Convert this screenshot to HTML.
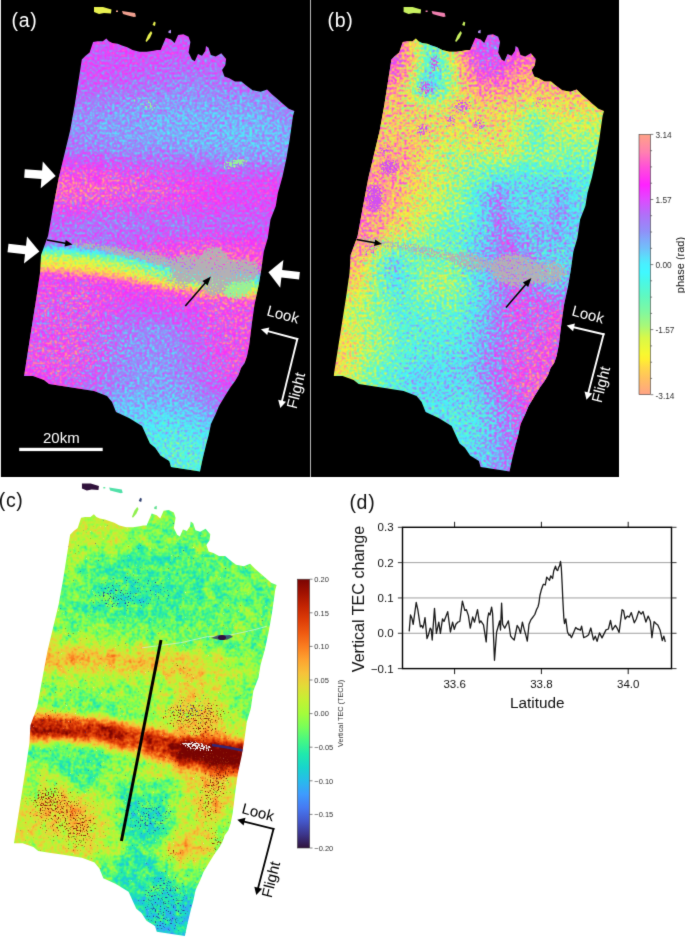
<!DOCTYPE html><html><head><meta charset="utf-8"><style>html,body{margin:0;padding:0;background:#fff;}svg{display:block;}text{font-family:"Liberation Sans", sans-serif;}</style></head><body>
<svg width="685" height="941" viewBox="0 0 685 941">
<defs>
<path id="sw" d="M81.8 59.6 L85.3 56.0 L89.6 52.6 L93.1 42.0 L97.5 41.2 L102.8 41.2 L106.3 38.5 L108.9 41.2 L112.4 42.9 L117.7 43.8 L122.0 45.5 L127.3 47.3 L132.6 50.0 L139.6 51.7 L146.6 51.7 L153.6 50.8 L157.0 50.0 L160.6 50.0 L164.0 42.0 L165.8 37.7 L171.0 39.4 L174.6 42.9 L178.1 35.0 L183.4 34.2 L188.6 36.8 L190.4 42.0 L188.6 52.6 L192.0 59.6 L194.8 61.3 L198.0 54.1 L202.0 55.7 L205.3 50.9 L206.0 46.0 L208.5 47.7 L210.9 54.9 L215.7 56.5 L221.3 53.3 L226.1 58.9 L225.3 65.3 L222.1 70.1 L224.5 76.6 L229.3 78.2 L235.0 81.4 L241.4 81.4 L246.2 85.4 L252.6 90.2 L260.7 91.8 L267.1 89.4 L271.9 94.2 L277.5 99.1 L283.1 103.9 L288.8 108.7 L294.4 111.0 L293.0 116.0 L289.6 140.0 L286.4 158.4 L282.4 177.0 L277.9 193.0 L275.8 206.0 L270.5 219.6 L267.8 238.0 L263.8 251.4 L261.2 270.0 L258.5 286.0 L254.5 304.6 L251.9 323.0 L249.2 345.0 L247.0 356.0 L244.6 363.0 L241.0 368.0 L238.5 375.0 L235.0 381.0 L230.6 387.0 L225.0 396.0 L219.0 406.0 L215.7 414.0 L211.0 424.0 L208.7 435.0 L206.0 445.0 L202.6 459.0 L200.0 471.4 L171.0 467.0 L169.3 461.0 L160.5 455.6 L155.3 447.7 L150.0 443.4 L147.0 437.0 L142.0 426.0 L129.0 418.0 L116.0 412.0 L112.0 402.0 L107.0 396.0 L94.0 391.0 L75.0 388.0 L62.0 386.0 L49.0 384.0 L44.0 380.0 L33.0 376.0 L24.0 376.0 L36.0 300.0 L40.0 273.0 L41.0 255.0 L48.0 236.0 L52.5 211.0 L58.7 178.0 L63.0 160.0 L70.0 131.0 L74.7 105.0 L78.3 82.0 Z"/>
<clipPath id="swclip"><use href="#sw"/></clipPath>
<clipPath id="swclipC"><use href="#sw" transform="translate(-9.37 476.76) scale(0.9714 0.9744)"/></clipPath>
<linearGradient id="cyc" x1="0" y1="0" x2="0" y2="1"><stop offset="0.000" stop-color="#ffa286"/><stop offset="0.068" stop-color="#ff80b0"/><stop offset="0.125" stop-color="#ff50d8"/><stop offset="0.194" stop-color="#ff22ff"/><stop offset="0.248" stop-color="#e048ff"/><stop offset="0.309" stop-color="#b070f8"/><stop offset="0.372" stop-color="#9090f8"/><stop offset="0.403" stop-color="#80a8fa"/><stop offset="0.438" stop-color="#70c0fa"/><stop offset="0.475" stop-color="#58e0fb"/><stop offset="0.500" stop-color="#48f0ff"/><stop offset="0.530" stop-color="#40f8ff"/><stop offset="0.562" stop-color="#48f8e8"/><stop offset="0.622" stop-color="#60f8c0"/><stop offset="0.682" stop-color="#80f8a0"/><stop offset="0.736" stop-color="#a8f878"/><stop offset="0.781" stop-color="#d8f848"/><stop offset="0.844" stop-color="#f8f830"/><stop offset="0.864" stop-color="#fff030"/><stop offset="0.895" stop-color="#ffd848"/><stop offset="0.938" stop-color="#ffc060"/><stop offset="1.000" stop-color="#ffa286"/></linearGradient>
<linearGradient id="turbo" x1="0" y1="0" x2="0" y2="1"><stop offset="0.000" stop-color="#7a0402"/><stop offset="0.050" stop-color="#a01101"/><stop offset="0.100" stop-color="#c32402"/><stop offset="0.150" stop-color="#dd3c07"/><stop offset="0.200" stop-color="#ef5a11"/><stop offset="0.250" stop-color="#fa7d20"/><stop offset="0.300" stop-color="#fda330"/><stop offset="0.350" stop-color="#f6c23a"/><stop offset="0.400" stop-color="#e1dc37"/><stop offset="0.450" stop-color="#c3f133"/><stop offset="0.500" stop-color="#a4fc3b"/><stop offset="0.550" stop-color="#78fe59"/><stop offset="0.600" stop-color="#46f783"/><stop offset="0.650" stop-color="#20e9ac"/><stop offset="0.700" stop-color="#18d5cc"/><stop offset="0.750" stop-color="#28bbeb"/><stop offset="0.800" stop-color="#3e9bfe"/><stop offset="0.850" stop-color="#467af2"/><stop offset="0.900" stop-color="#4458cb"/><stop offset="0.950" stop-color="#3c358b"/><stop offset="1.000" stop-color="#30123b"/></linearGradient>
<g id="fA"><path fill="#242424" d="M176 458h18v6h-18zM170 464h30v6h-30zM164 470h42v6h-42zM164 476h48v6h-48z"/><path fill="#262626" d="M164 440h24v6h-24zM152 446h48v6h-48zM152 452h54v6h-54zM146 458h30v6h-30zM194 458h18v6h-18zM146 464h24v6h-24zM200 464h18v6h-18zM146 470h18v6h-18zM206 470h18v6h-18zM146 476h18v6h-18zM212 476h18v6h-18z"/><path fill="#282828" d="M164 428h12v6h-12zM146 434h54v6h-54zM134 440h30v6h-30zM188 440h18v6h-18zM134 446h18v6h-18zM200 446h18v6h-18zM134 452h18v6h-18zM206 452h18v6h-18zM128 458h18v6h-18zM212 458h12v6h-12zM128 464h18v6h-18zM218 464h12v6h-12zM128 470h18v6h-18zM224 470h12v6h-12zM128 476h18v6h-18zM230 476h12v6h-12z"/><path fill="#2a2a2a" d="M152 422h30v6h-30zM134 428h30v6h-30zM176 428h24v6h-24zM128 434h18v6h-18zM200 434h12v6h-12zM122 440h12v6h-12zM206 440h12v6h-12zM122 446h12v6h-12zM218 446h6v6h-6zM122 452h12v6h-12zM224 452h6v6h-6zM122 458h6v6h-6zM224 458h12v6h-12zM122 464h6v6h-6zM230 464h12v6h-12zM116 470h12v6h-12zM236 470h12v6h-12zM116 476h12v6h-12zM242 476h12v6h-12z"/><path fill="#2c2c2c" d="M146 416h36v6h-36zM122 422h30v6h-30zM182 422h18v6h-18zM116 428h18v6h-18zM200 428h12v6h-12zM116 434h12v6h-12zM212 434h12v6h-12zM116 440h6v6h-6zM218 440h12v6h-12zM110 446h12v6h-12zM224 446h12v6h-12zM110 452h12v6h-12zM230 452h12v6h-12zM110 458h12v6h-12zM236 458h12v6h-12zM110 464h12v6h-12zM242 464h18v6h-18zM110 470h6v6h-6zM248 470h18v6h-18zM110 476h6v6h-6zM254 476h18v6h-18z"/><path fill="#2e2e2e" d="M122 410h60v6h-60zM116 416h30v6h-30zM182 416h18v6h-18zM110 422h12v6h-12zM200 422h12v6h-12zM110 428h6v6h-6zM212 428h12v6h-12zM104 434h12v6h-12zM224 434h6v6h-6zM104 440h12v6h-12zM230 440h12v6h-12zM104 446h6v6h-6zM236 446h12v6h-12zM104 452h6v6h-6zM242 452h12v6h-12zM104 458h6v6h-6zM248 458h18v6h-18zM104 464h6v6h-6zM260 464h12v6h-12zM104 470h6v6h-6zM266 470h18v6h-18zM104 476h6v6h-6zM272 476h18v6h-18z"/><path fill="#303030" d="M116 404h66v6h-66zM110 410h12v6h-12zM182 410h18v6h-18zM110 416h6v6h-6zM200 416h12v6h-12zM104 422h6v6h-6zM212 422h12v6h-12zM98 428h12v6h-12zM224 428h6v6h-6zM98 434h6v6h-6zM230 434h12v6h-12zM98 440h6v6h-6zM242 440h12v6h-12zM98 446h6v6h-6zM248 446h12v6h-12zM92 452h12v6h-12zM254 452h18v6h-18zM92 458h12v6h-12zM266 458h18v6h-18zM92 464h12v6h-12zM272 464h18v6h-18zM92 470h12v6h-12zM284 470h24v6h-24zM92 476h12v6h-12zM290 476h18v6h-18z"/><path fill="#323232" d="M128 392h48v6h-48zM116 398h72v6h-72zM110 404h6v6h-6zM182 404h18v6h-18zM104 410h6v6h-6zM200 410h12v6h-12zM98 416h12v6h-12zM212 416h12v6h-12zM98 422h6v6h-6zM224 422h6v6h-6zM92 428h6v6h-6zM230 428h12v6h-12zM92 434h6v6h-6zM242 434h12v6h-12zM92 440h6v6h-6zM254 440h12v6h-12zM86 446h12v6h-12zM260 446h18v6h-18zM86 452h6v6h-6zM272 452h18v6h-18zM86 458h6v6h-6zM284 458h24v6h-24zM86 464h6v6h-6zM290 464h18v6h-18zM86 470h6v6h-6zM86 476h6v6h-6z"/><path fill="#343434" d="M152 344h6v6h-6zM152 350h6v6h-6zM146 362h18v6h-18zM140 368h30v6h-30zM134 374h36v6h-36zM128 380h48v6h-48zM122 386h60v6h-60zM110 392h18v6h-18zM176 392h18v6h-18zM104 398h12v6h-12zM188 398h12v6h-12zM98 404h12v6h-12zM200 404h6v6h-6zM98 410h6v6h-6zM212 410h6v6h-6zM92 416h6v6h-6zM224 416h6v6h-6zM86 422h12v6h-12zM230 422h18v6h-18zM86 428h6v6h-6zM242 428h18v6h-18zM86 434h6v6h-6zM254 434h18v6h-18zM80 440h12v6h-12zM266 440h24v6h-24zM80 446h6v6h-6zM278 446h30v6h-30zM80 452h6v6h-6zM290 452h18v6h-18zM80 458h6v6h-6zM80 464h6v6h-6zM80 470h6v6h-6zM80 476h6v6h-6z"/><path fill="#363636" d="M146 326h18v6h-18zM134 332h36v6h-36zM128 338h48v6h-48zM122 344h30v6h-30zM158 344h18v6h-18zM122 350h30v6h-30zM158 350h24v6h-24zM122 356h60v6h-60zM122 362h24v6h-24zM164 362h18v6h-18zM122 368h18v6h-18zM170 368h12v6h-12zM116 374h18v6h-18zM170 374h18v6h-18zM116 380h12v6h-12zM176 380h18v6h-18zM110 386h12v6h-12zM182 386h12v6h-12zM104 392h6v6h-6zM194 392h6v6h-6zM98 398h6v6h-6zM200 398h12v6h-12zM92 404h6v6h-6zM206 404h12v6h-12zM86 410h12v6h-12zM218 410h12v6h-12zM86 416h6v6h-6zM230 416h18v6h-18zM80 422h6v6h-6zM248 422h12v6h-12zM80 428h6v6h-6zM260 428h24v6h-24zM74 434h12v6h-12zM272 434h36v6h-36zM74 440h6v6h-6zM290 440h18v6h-18zM74 446h6v6h-6zM74 452h6v6h-6zM74 458h6v6h-6zM74 464h6v6h-6zM74 470h6v6h-6zM74 476h6v6h-6z"/><path fill="#383838" d="M146 320h12v6h-12zM122 326h24v6h-24zM164 326h12v6h-12zM116 332h18v6h-18zM170 332h12v6h-12zM116 338h12v6h-12zM176 338h6v6h-6zM110 344h12v6h-12zM176 344h12v6h-12zM110 350h12v6h-12zM182 350h6v6h-6zM110 356h12v6h-12zM182 356h6v6h-6zM110 362h12v6h-12zM182 362h12v6h-12zM110 368h12v6h-12zM182 368h12v6h-12zM110 374h6v6h-6zM188 374h12v6h-12zM104 380h12v6h-12zM194 380h6v6h-6zM98 386h12v6h-12zM194 386h12v6h-12zM92 392h12v6h-12zM200 392h12v6h-12zM86 398h12v6h-12zM212 398h6v6h-6zM80 404h12v6h-12zM218 404h12v6h-12zM80 410h6v6h-6zM230 410h18v6h-18zM74 416h12v6h-12zM248 416h18v6h-18zM74 422h6v6h-6zM260 422h48v6h-48zM68 428h12v6h-12zM284 428h24v6h-24zM68 434h6v6h-6zM68 440h6v6h-6zM68 446h6v6h-6zM68 452h6v6h-6zM68 458h6v6h-6zM68 464h6v6h-6zM62 470h12v6h-12zM62 476h12v6h-12z"/><path fill="#3a3a3a" d="M122 320h24v6h-24zM158 320h18v6h-18zM110 326h12v6h-12zM176 326h6v6h-6zM110 332h6v6h-6zM182 332h6v6h-6zM104 338h12v6h-12zM182 338h6v6h-6zM104 344h6v6h-6zM188 344h6v6h-6zM104 350h6v6h-6zM188 350h6v6h-6zM104 356h6v6h-6zM188 356h12v6h-12zM104 362h6v6h-6zM194 362h6v6h-6zM104 368h6v6h-6zM194 368h6v6h-6zM98 374h12v6h-12zM200 374h6v6h-6zM98 380h6v6h-6zM200 380h6v6h-6zM92 386h6v6h-6zM206 386h6v6h-6zM86 392h6v6h-6zM212 392h6v6h-6zM80 398h6v6h-6zM218 398h12v6h-12zM74 404h6v6h-6zM230 404h18v6h-18zM68 410h12v6h-12zM248 410h36v6h-36zM296 410h12v6h-12zM68 416h6v6h-6zM266 416h42v6h-42zM62 422h12v6h-12zM62 428h6v6h-6zM62 434h6v6h-6zM62 440h6v6h-6zM62 446h6v6h-6zM62 452h6v6h-6zM56 458h12v6h-12zM56 464h12v6h-12zM56 470h6v6h-6zM56 476h6v6h-6z"/><path fill="#3c3c3c" d="M122 314h48v6h-48zM110 320h12v6h-12zM176 320h6v6h-6zM104 326h6v6h-6zM182 326h6v6h-6zM104 332h6v6h-6zM188 332h6v6h-6zM98 338h6v6h-6zM188 338h12v6h-12zM98 344h6v6h-6zM194 344h6v6h-6zM98 350h6v6h-6zM194 350h6v6h-6zM98 356h6v6h-6zM200 356h6v6h-6zM98 362h6v6h-6zM200 362h6v6h-6zM92 368h12v6h-12zM200 368h12v6h-12zM92 374h6v6h-6zM206 374h6v6h-6zM86 380h12v6h-12zM206 380h12v6h-12zM80 386h12v6h-12zM212 386h12v6h-12zM74 392h12v6h-12zM218 392h18v6h-18zM68 398h12v6h-12zM230 398h24v6h-24zM302 398h6v6h-6zM62 404h12v6h-12zM248 404h60v6h-60zM62 410h6v6h-6zM284 410h12v6h-12zM56 416h12v6h-12zM56 422h6v6h-6zM56 428h6v6h-6zM56 434h6v6h-6zM56 440h6v6h-6zM50 446h12v6h-12zM50 452h12v6h-12zM50 458h6v6h-6zM50 464h6v6h-6zM50 470h6v6h-6zM50 476h6v6h-6z"/><path fill="#3e3e3e" d="M122 308h42v6h-42zM110 314h12v6h-12zM170 314h18v6h-18zM104 320h6v6h-6zM182 320h12v6h-12zM98 326h6v6h-6zM188 326h12v6h-12zM98 332h6v6h-6zM194 332h6v6h-6zM92 338h6v6h-6zM200 338h6v6h-6zM92 344h6v6h-6zM200 344h6v6h-6zM92 350h6v6h-6zM200 350h12v6h-12zM92 356h6v6h-6zM206 356h6v6h-6zM92 362h6v6h-6zM206 362h6v6h-6zM86 368h6v6h-6zM212 368h6v6h-6zM80 374h12v6h-12zM212 374h6v6h-6zM74 380h12v6h-12zM218 380h6v6h-6zM68 386h12v6h-12zM224 386h12v6h-12zM296 386h12v6h-12zM62 392h12v6h-12zM236 392h72v6h-72zM56 398h12v6h-12zM254 398h48v6h-48zM56 404h6v6h-6zM50 410h12v6h-12zM50 416h6v6h-6zM50 422h6v6h-6zM44 428h12v6h-12zM44 434h12v6h-12zM44 440h12v6h-12zM44 446h6v6h-6zM44 452h6v6h-6zM44 458h6v6h-6zM44 464h6v6h-6zM44 470h6v6h-6zM44 476h6v6h-6z"/><path fill="#404040" d="M122 302h36v6h-36zM104 308h18v6h-18zM164 308h24v6h-24zM38 314h18v6h-18zM98 314h12v6h-12zM188 314h12v6h-12zM32 320h18v6h-18zM92 320h12v6h-12zM194 320h12v6h-12zM38 326h12v6h-12zM86 326h12v6h-12zM200 326h6v6h-6zM86 332h12v6h-12zM200 332h12v6h-12zM86 338h6v6h-6zM206 338h6v6h-6zM86 344h6v6h-6zM206 344h12v6h-12zM86 350h6v6h-6zM212 350h6v6h-6zM86 356h6v6h-6zM212 356h6v6h-6zM80 362h12v6h-12zM212 362h12v6h-12zM302 362h6v6h-6zM74 368h12v6h-12zM218 368h6v6h-6zM296 368h12v6h-12zM68 374h12v6h-12zM218 374h12v6h-12zM284 374h24v6h-24zM62 380h12v6h-12zM224 380h24v6h-24zM272 380h36v6h-36zM56 386h12v6h-12zM236 386h60v6h-60zM50 392h12v6h-12zM44 398h12v6h-12zM44 404h12v6h-12zM38 410h12v6h-12zM38 416h12v6h-12zM38 422h12v6h-12zM38 428h6v6h-6zM38 434h6v6h-6zM38 440h6v6h-6zM38 446h6v6h-6zM38 452h6v6h-6zM38 458h6v6h-6zM38 464h6v6h-6zM38 470h6v6h-6zM38 476h6v6h-6z"/><path fill="#424242" d="M56 278h36v6h-36zM44 296h18v6h-18zM110 296h42v6h-42zM38 302h30v6h-30zM92 302h30v6h-30zM158 302h24v6h-24zM296 302h6v6h-6zM32 308h42v6h-42zM80 308h24v6h-24zM188 308h12v6h-12zM296 308h12v6h-12zM26 314h12v6h-12zM56 314h42v6h-42zM200 314h6v6h-6zM296 314h12v6h-12zM26 320h6v6h-6zM50 320h42v6h-42zM206 320h6v6h-6zM290 320h18v6h-18zM26 326h12v6h-12zM50 326h18v6h-18zM74 326h12v6h-12zM206 326h12v6h-12zM290 326h18v6h-18zM26 332h30v6h-30zM80 332h6v6h-6zM212 332h12v6h-12zM290 332h18v6h-18zM32 338h12v6h-12zM80 338h6v6h-6zM212 338h12v6h-12zM290 338h18v6h-18zM80 344h6v6h-6zM218 344h6v6h-6zM290 344h18v6h-18zM80 350h6v6h-6zM218 350h6v6h-6zM284 350h24v6h-24zM80 356h6v6h-6zM218 356h12v6h-12zM284 356h24v6h-24zM74 362h6v6h-6zM224 362h6v6h-6zM278 362h24v6h-24zM62 368h12v6h-12zM224 368h18v6h-18zM266 368h30v6h-30zM44 374h24v6h-24zM230 374h54v6h-54zM38 380h24v6h-24zM248 380h24v6h-24zM32 386h24v6h-24zM32 392h18v6h-18zM32 398h12v6h-12zM32 404h12v6h-12zM32 410h6v6h-6zM32 416h6v6h-6zM32 422h6v6h-6zM32 428h6v6h-6zM32 434h6v6h-6zM32 440h6v6h-6zM32 446h6v6h-6zM32 452h6v6h-6zM32 458h6v6h-6zM32 464h6v6h-6zM32 470h6v6h-6zM26 476h12v6h-12z"/><path fill="#444444" d="M38 278h18v6h-18zM92 278h18v6h-18zM38 284h102v6h-102zM38 290h120v6h-120zM32 296h12v6h-12zM62 296h48v6h-48zM152 296h30v6h-30zM26 302h12v6h-12zM68 302h24v6h-24zM182 302h18v6h-18zM278 302h18v6h-18zM302 302h6v6h-6zM26 308h6v6h-6zM74 308h6v6h-6zM200 308h12v6h-12zM272 308h24v6h-24zM20 314h6v6h-6zM206 314h18v6h-18zM260 314h36v6h-36zM20 320h6v6h-6zM212 320h18v6h-18zM254 320h36v6h-36zM14 326h12v6h-12zM68 326h6v6h-6zM218 326h18v6h-18zM254 326h36v6h-36zM14 332h12v6h-12zM56 332h24v6h-24zM224 332h12v6h-12zM260 332h30v6h-30zM20 338h12v6h-12zM44 338h36v6h-36zM224 338h12v6h-12zM260 338h30v6h-30zM20 344h42v6h-42zM74 344h6v6h-6zM224 344h18v6h-18zM260 344h30v6h-30zM20 350h36v6h-36zM68 350h12v6h-12zM224 350h18v6h-18zM254 350h30v6h-30zM20 356h60v6h-60zM230 356h54v6h-54zM20 362h54v6h-54zM230 362h48v6h-48zM20 368h42v6h-42zM242 368h24v6h-24zM20 374h24v6h-24zM20 380h18v6h-18zM20 386h12v6h-12zM20 392h12v6h-12zM20 398h12v6h-12zM20 404h12v6h-12zM20 410h12v6h-12zM20 416h12v6h-12zM20 422h12v6h-12zM20 428h12v6h-12zM20 434h12v6h-12zM20 440h12v6h-12zM20 446h12v6h-12zM20 452h12v6h-12zM20 458h12v6h-12zM20 464h12v6h-12zM20 470h12v6h-12zM20 476h6v6h-6z"/><path fill="#464646" d="M20 272h36v6h-36zM26 278h12v6h-12zM110 278h6v6h-6zM26 284h12v6h-12zM140 284h6v6h-6zM26 290h12v6h-12zM158 290h18v6h-18zM26 296h6v6h-6zM182 296h18v6h-18zM20 302h6v6h-6zM200 302h18v6h-18zM248 302h30v6h-30zM14 308h12v6h-12zM212 308h60v6h-60zM14 314h6v6h-6zM224 314h36v6h-36zM14 320h6v6h-6zM230 320h24v6h-24zM236 326h18v6h-18zM236 332h24v6h-24zM14 338h6v6h-6zM236 338h24v6h-24zM14 344h6v6h-6zM62 344h12v6h-12zM242 344h18v6h-18zM14 350h6v6h-6zM56 350h12v6h-12zM242 350h12v6h-12zM14 356h6v6h-6zM14 362h6v6h-6zM14 368h6v6h-6zM14 374h6v6h-6zM14 380h6v6h-6zM14 386h6v6h-6zM14 392h6v6h-6zM14 398h6v6h-6zM14 404h6v6h-6zM14 410h6v6h-6zM14 416h6v6h-6zM14 422h6v6h-6zM14 428h6v6h-6zM14 434h6v6h-6zM14 440h6v6h-6zM14 446h6v6h-6zM14 452h6v6h-6zM14 458h6v6h-6zM14 464h6v6h-6zM14 470h6v6h-6zM14 476h6v6h-6z"/><path fill="#484848" d="M14 272h6v6h-6zM56 272h6v6h-6zM14 278h12v6h-12zM14 284h12v6h-12zM146 284h6v6h-6zM14 290h12v6h-12zM176 290h6v6h-6zM14 296h12v6h-12zM200 296h36v6h-36zM14 302h6v6h-6zM218 302h30v6h-30z"/><path fill="#4a4a4a" d="M62 272h6v6h-6zM116 278h6v6h-6zM182 290h6v6h-6zM236 296h6v6h-6z"/><path fill="#4c4c4c" d="M68 272h6v6h-6zM122 278h6v6h-6zM152 284h6v6h-6zM242 296h6v6h-6z"/><path fill="#4e4e4e" d="M74 272h6v6h-6zM188 290h6v6h-6zM248 296h12v6h-12z"/><path fill="#505050" d="M80 272h6v6h-6zM194 290h6v6h-6zM260 296h6v6h-6z"/><path fill="#525252" d="M86 272h6v6h-6zM128 278h6v6h-6zM158 284h6v6h-6zM266 296h6v6h-6z"/><path fill="#545454" d="M92 272h6v6h-6zM200 290h6v6h-6zM272 296h12v6h-12z"/><path fill="#565656" d="M98 272h6v6h-6zM134 278h6v6h-6zM164 284h6v6h-6zM206 290h6v6h-6zM284 296h12v6h-12z"/><path fill="#585858" d="M104 272h6v6h-6zM212 290h6v6h-6zM296 296h12v6h-12z"/><path fill="#5a5a5a" d="M26 266h36v6h-36zM110 272h6v6h-6zM140 278h6v6h-6zM170 284h6v6h-6zM218 290h6v6h-6z"/><path fill="#5c5c5c" d="M14 266h12v6h-12zM62 266h6v6h-6zM116 272h6v6h-6zM224 290h6v6h-6z"/><path fill="#5e5e5e" d="M68 266h12v6h-12zM122 272h6v6h-6zM146 278h6v6h-6zM176 284h6v6h-6zM230 290h6v6h-6z"/><path fill="#606060" d="M80 266h12v6h-12zM152 278h6v6h-6zM182 284h6v6h-6zM236 290h12v6h-12z"/><path fill="#626262" d="M92 266h6v6h-6zM128 272h6v6h-6zM188 284h6v6h-6zM248 290h12v6h-12z"/><path fill="#646464" d="M44 260h30v6h-30zM98 266h12v6h-12zM134 272h6v6h-6zM158 278h6v6h-6zM194 284h6v6h-6zM260 290h30v6h-30z"/><path fill="#666666" d="M26 260h18v6h-18zM74 260h18v6h-18zM110 266h6v6h-6zM200 284h6v6h-6zM290 290h18v6h-18z"/><path fill="#686868" d="M44 254h30v6h-30zM14 260h12v6h-12zM92 260h18v6h-18zM116 266h12v6h-12zM140 272h6v6h-6zM164 278h6v6h-6zM206 284h6v6h-6z"/><path fill="#6a6a6a" d="M32 254h12v6h-12zM74 254h12v6h-12zM110 260h6v6h-6zM128 266h6v6h-6zM146 272h6v6h-6zM170 278h6v6h-6zM212 284h6v6h-6zM302 284h6v6h-6z"/><path fill="#6c6c6c" d="M20 254h12v6h-12zM86 254h6v6h-6zM116 260h12v6h-12zM134 266h6v6h-6zM152 272h6v6h-6zM176 278h6v6h-6zM218 284h12v6h-12zM272 284h30v6h-30z"/><path fill="#6e6e6e" d="M14 254h6v6h-6zM92 254h6v6h-6zM128 260h6v6h-6zM140 266h12v6h-12zM158 272h6v6h-6zM182 278h6v6h-6zM230 284h42v6h-42z"/><path fill="#707070" d="M164 272h6v6h-6zM188 278h12v6h-12z"/><path fill="#727272" d="M98 254h6v6h-6zM134 260h6v6h-6zM152 266h6v6h-6zM170 272h12v6h-12zM200 278h12v6h-12zM272 278h6v6h-6z"/><path fill="#747474" d="M104 254h6v6h-6zM158 266h6v6h-6zM182 272h6v6h-6zM212 278h60v6h-60zM278 278h12v6h-12z"/><path fill="#767676" d="M32 248h30v6h-30zM110 254h6v6h-6zM140 260h6v6h-6zM164 266h6v6h-6zM188 272h12v6h-12zM290 278h6v6h-6z"/><path fill="#787878" d="M14 248h18v6h-18zM62 248h6v6h-6zM200 272h12v6h-12zM296 278h12v6h-12z"/><path fill="#7a7a7a" d="M68 248h6v6h-6zM116 254h6v6h-6zM170 266h6v6h-6zM212 272h6v6h-6z"/><path fill="#7c7c7c" d="M74 248h6v6h-6zM122 254h6v6h-6zM146 260h6v6h-6zM218 272h6v6h-6z"/><path fill="#7e7e7e" d="M80 248h6v6h-6zM224 272h6v6h-6z"/><path fill="#818181" d="M86 248h6v6h-6zM152 260h6v6h-6zM176 266h6v6h-6zM230 272h6v6h-6z"/><path fill="#838383" d="M92 248h6v6h-6zM128 254h6v6h-6zM182 266h6v6h-6zM236 272h6v6h-6z"/><path fill="#858585" d="M224 128h36v6h-36zM224 134h30v6h-30zM98 248h6v6h-6zM134 254h6v6h-6zM242 272h12v6h-12z"/><path fill="#878787" d="M170 110h90v6h-90zM152 116h120v6h-120zM140 122h144v6h-144zM146 128h78v6h-78zM260 128h30v6h-30zM158 134h66v6h-66zM254 134h36v6h-36zM188 140h102v6h-102zM218 146h60v6h-60zM104 248h6v6h-6zM158 260h6v6h-6zM188 266h6v6h-6zM254 272h12v6h-12z"/><path fill="#898989" d="M164 98h60v6h-60zM236 98h24v6h-24zM134 104h132v6h-132zM110 110h60v6h-60zM260 110h18v6h-18zM104 116h48v6h-48zM272 116h12v6h-12zM98 122h42v6h-42zM284 122h12v6h-12zM98 128h48v6h-48zM290 128h12v6h-12zM104 134h54v6h-54zM290 134h18v6h-18zM116 140h72v6h-72zM290 140h12v6h-12zM176 146h42v6h-42zM278 146h24v6h-24zM218 152h72v6h-72zM140 254h6v6h-6zM194 266h6v6h-6zM266 272h24v6h-24z"/><path fill="#8b8b8b" d="M176 86h36v6h-36zM146 92h120v6h-120zM116 98h48v6h-48zM224 98h12v6h-12zM260 98h12v6h-12zM92 104h42v6h-42zM266 104h12v6h-12zM74 110h36v6h-36zM278 110h18v6h-18zM68 116h36v6h-36zM284 116h24v6h-24zM68 122h30v6h-30zM296 122h12v6h-12zM68 128h30v6h-30zM302 128h6v6h-6zM74 134h30v6h-30zM86 140h30v6h-30zM302 140h6v6h-6zM104 146h72v6h-72zM302 146h6v6h-6zM182 152h36v6h-36zM290 152h18v6h-18zM224 158h72v6h-72zM14 242h42v6h-42zM110 248h6v6h-6zM164 260h6v6h-6zM290 272h12v6h-12z"/><path fill="#8d8d8d" d="M296 26h12v6h-12zM296 32h12v6h-12zM296 38h12v6h-12zM296 44h12v6h-12zM296 50h12v6h-12zM302 56h6v6h-6zM302 62h6v6h-6zM302 68h6v6h-6zM182 74h24v6h-24zM302 74h6v6h-6zM164 80h60v6h-60zM302 80h6v6h-6zM140 86h36v6h-36zM212 86h72v6h-72zM302 86h6v6h-6zM104 92h42v6h-42zM266 92h42v6h-42zM68 98h48v6h-48zM272 98h36v6h-36zM56 104h36v6h-36zM278 104h30v6h-30zM56 110h18v6h-18zM296 110h12v6h-12zM50 116h18v6h-18zM50 122h18v6h-18zM56 128h12v6h-12zM56 134h18v6h-18zM62 140h24v6h-24zM68 146h36v6h-36zM104 152h78v6h-78zM194 158h30v6h-30zM296 158h12v6h-12zM272 164h36v6h-36zM98 224h6v6h-6zM56 242h6v6h-6zM200 266h6v6h-6zM302 272h6v6h-6z"/><path fill="#8f8f8f" d="M272 26h24v6h-24zM272 32h24v6h-24zM272 38h24v6h-24zM272 44h24v6h-24zM272 50h24v6h-24zM272 56h30v6h-30zM266 62h36v6h-36zM170 68h48v6h-48zM260 68h42v6h-42zM152 74h30v6h-30zM206 74h24v6h-24zM248 74h54v6h-54zM128 80h36v6h-36zM224 80h78v6h-78zM98 86h42v6h-42zM284 86h18v6h-18zM44 92h60v6h-60zM38 98h30v6h-30zM38 104h18v6h-18zM38 110h18v6h-18zM38 116h12v6h-12zM38 122h12v6h-12zM44 128h12v6h-12zM44 134h12v6h-12zM50 140h12v6h-12zM56 146h12v6h-12zM92 152h12v6h-12zM134 158h60v6h-60zM212 164h60v6h-60zM290 170h18v6h-18zM92 218h54v6h-54zM170 218h18v6h-18zM50 224h24v6h-24zM80 224h18v6h-18zM104 224h48v6h-48zM170 224h18v6h-18zM56 230h78v6h-78zM92 236h18v6h-18zM146 254h6v6h-6zM170 260h6v6h-6zM206 266h6v6h-6z"/><path fill="#919191" d="M254 26h18v6h-18zM254 32h18v6h-18zM254 38h18v6h-18zM254 44h18v6h-18zM188 50h6v6h-6zM248 50h24v6h-24zM164 56h60v6h-60zM242 56h30v6h-30zM152 62h114v6h-114zM32 68h18v6h-18zM140 68h30v6h-30zM218 68h42v6h-42zM26 74h42v6h-42zM116 74h36v6h-36zM230 74h18v6h-18zM20 80h108v6h-108zM20 86h78v6h-78zM20 92h24v6h-24zM20 98h18v6h-18zM20 104h18v6h-18zM20 110h18v6h-18zM20 116h18v6h-18zM26 122h12v6h-12zM26 128h18v6h-18zM32 134h12v6h-12zM38 140h12v6h-12zM50 146h6v6h-6zM62 152h30v6h-30zM104 158h30v6h-30zM164 164h48v6h-48zM224 170h66v6h-66zM290 176h18v6h-18zM302 182h6v6h-6zM92 212h60v6h-60zM176 212h6v6h-6zM218 212h12v6h-12zM44 218h48v6h-48zM146 218h24v6h-24zM188 218h78v6h-78zM44 224h6v6h-6zM74 224h6v6h-6zM152 224h18v6h-18zM188 224h48v6h-48zM254 224h18v6h-18zM44 230h12v6h-12zM134 230h54v6h-54zM50 236h42v6h-42zM110 236h24v6h-24zM62 242h54v6h-54zM116 248h6v6h-6zM212 266h12v6h-12z"/><path fill="#939393" d="M14 26h90v6h-90zM206 26h48v6h-48zM14 32h96v6h-96zM176 32h78v6h-78zM14 38h96v6h-96zM164 38h90v6h-90zM14 44h96v6h-96zM158 44h96v6h-96zM14 50h102v6h-102zM146 50h42v6h-42zM194 50h54v6h-54zM14 56h72v6h-72zM92 56h30v6h-30zM134 56h30v6h-30zM224 56h18v6h-18zM14 62h66v6h-66zM92 62h60v6h-60zM14 68h18v6h-18zM50 68h90v6h-90zM14 74h12v6h-12zM68 74h48v6h-48zM14 80h6v6h-6zM14 86h6v6h-6zM14 92h6v6h-6zM14 98h6v6h-6zM14 104h6v6h-6zM14 110h6v6h-6zM14 116h6v6h-6zM14 122h12v6h-12zM14 128h12v6h-12zM20 134h12v6h-12zM26 140h12v6h-12zM38 146h12v6h-12zM50 152h12v6h-12zM68 158h36v6h-36zM122 164h42v6h-42zM194 170h30v6h-30zM230 176h24v6h-24zM278 176h12v6h-12zM284 182h18v6h-18zM290 188h18v6h-18zM296 194h12v6h-12zM296 200h12v6h-12zM224 206h30v6h-30zM296 206h12v6h-12zM44 212h24v6h-24zM80 212h12v6h-12zM152 212h24v6h-24zM182 212h36v6h-36zM230 212h78v6h-78zM38 218h6v6h-6zM266 218h42v6h-42zM32 224h12v6h-12zM236 224h18v6h-18zM272 224h36v6h-36zM32 230h12v6h-12zM188 230h96v6h-96zM38 236h12v6h-12zM134 236h24v6h-24zM116 242h18v6h-18zM176 260h6v6h-6zM224 266h12v6h-12z"/><path fill="#959595" d="M104 26h102v6h-102zM110 32h66v6h-66zM110 38h54v6h-54zM110 44h48v6h-48zM116 50h30v6h-30zM86 56h6v6h-6zM122 56h12v6h-12zM80 62h12v6h-12zM14 134h6v6h-6zM14 140h12v6h-12zM14 146h24v6h-24zM26 152h24v6h-24zM50 158h18v6h-18zM104 164h18v6h-18zM146 170h48v6h-48zM200 176h30v6h-30zM254 176h24v6h-24zM230 182h30v6h-30zM278 182h6v6h-6zM242 188h6v6h-6zM278 188h12v6h-12zM236 194h18v6h-18zM284 194h12v6h-12zM224 200h72v6h-72zM92 206h132v6h-132zM254 206h42v6h-42zM32 212h12v6h-12zM68 212h12v6h-12zM26 218h12v6h-12zM26 224h6v6h-6zM26 230h6v6h-6zM284 230h24v6h-24zM26 236h12v6h-12zM158 236h36v6h-36zM254 236h54v6h-54zM134 242h18v6h-18zM290 242h18v6h-18zM122 248h12v6h-12zM302 248h6v6h-6zM236 266h6v6h-6z"/><path fill="#979797" d="M14 152h12v6h-12zM14 158h36v6h-36zM68 164h36v6h-36zM116 170h30v6h-30zM152 176h48v6h-48zM194 182h36v6h-36zM260 182h18v6h-18zM218 188h24v6h-24zM248 188h30v6h-30zM194 194h42v6h-42zM254 194h30v6h-30zM110 200h114v6h-114zM26 206h66v6h-66zM20 212h12v6h-12zM14 218h12v6h-12zM14 224h12v6h-12zM14 230h12v6h-12zM20 236h6v6h-6zM194 236h60v6h-60zM152 242h18v6h-18zM266 242h24v6h-24zM134 248h18v6h-18zM284 248h18v6h-18zM290 254h18v6h-18zM182 260h6v6h-6zM296 260h12v6h-12zM302 266h6v6h-6z"/><path fill="#999999" d="M14 164h54v6h-54zM14 170h24v6h-24zM104 170h12v6h-12zM14 176h12v6h-12zM122 176h30v6h-30zM146 182h48v6h-48zM14 188h6v6h-6zM152 188h66v6h-66zM14 194h18v6h-18zM116 194h78v6h-78zM14 200h36v6h-36zM92 200h18v6h-18zM14 206h12v6h-12zM14 212h6v6h-6zM14 236h6v6h-6zM170 242h24v6h-24zM230 242h6v6h-6zM254 242h12v6h-12zM152 248h12v6h-12zM272 248h12v6h-12zM152 254h6v6h-6zM278 254h12v6h-12zM284 260h12v6h-12zM242 266h6v6h-6zM290 266h12v6h-12z"/><path fill="#9b9b9b" d="M38 170h66v6h-66zM26 176h18v6h-18zM110 176h12v6h-12zM14 182h24v6h-24zM116 182h30v6h-30zM20 188h18v6h-18zM116 188h36v6h-36zM32 194h12v6h-12zM104 194h12v6h-12zM50 200h42v6h-42zM194 242h36v6h-36zM236 242h18v6h-18zM164 248h18v6h-18zM260 248h12v6h-12zM158 254h6v6h-6zM272 254h6v6h-6zM272 260h12v6h-12zM278 266h12v6h-12z"/><path fill="#9d9d9d" d="M44 176h12v6h-12zM74 176h36v6h-36zM38 182h12v6h-12zM104 182h12v6h-12zM38 188h12v6h-12zM98 188h18v6h-18zM44 194h12v6h-12zM74 194h30v6h-30zM182 248h18v6h-18zM224 248h36v6h-36zM164 254h12v6h-12zM260 254h12v6h-12zM188 260h6v6h-6zM266 260h6v6h-6zM248 266h6v6h-6zM266 266h12v6h-12z"/><path fill="#9f9f9f" d="M56 176h18v6h-18zM50 182h12v6h-12zM68 182h36v6h-36zM50 188h12v6h-12zM68 188h30v6h-30zM56 194h18v6h-18zM200 248h24v6h-24zM176 254h18v6h-18zM236 254h24v6h-24zM254 260h12v6h-12zM254 266h12v6h-12z"/><path fill="#a1a1a1" d="M62 182h6v6h-6zM62 188h6v6h-6zM194 254h12v6h-12zM212 254h24v6h-24zM194 260h6v6h-6zM230 260h24v6h-24z"/><path fill="#a3a3a3" d="M206 254h6v6h-6zM200 260h30v6h-30z"/></g><g id="fB"><path fill="#3e3e3e" d="M182 38h6v6h-6zM182 44h6v6h-6z"/><path fill="#404040" d="M182 26h18v6h-18zM176 32h24v6h-24zM176 38h6v6h-6zM188 38h12v6h-12zM176 44h6v6h-6zM188 44h6v6h-6zM176 50h12v6h-12zM176 56h6v6h-6z"/><path fill="#424242" d="M176 26h6v6h-6zM200 26h6v6h-6zM200 32h6v6h-6zM170 38h6v6h-6zM170 44h6v6h-6zM194 44h6v6h-6zM170 50h6v6h-6zM188 50h6v6h-6zM170 56h6v6h-6zM182 56h6v6h-6z"/><path fill="#444444" d="M170 26h6v6h-6zM206 26h12v6h-12zM170 32h6v6h-6zM206 32h6v6h-6zM200 38h6v6h-6zM200 44h6v6h-6zM194 50h6v6h-6zM188 56h6v6h-6zM176 62h12v6h-12z"/><path fill="#464646" d="M218 26h6v6h-6zM212 32h6v6h-6zM164 38h6v6h-6zM206 38h6v6h-6zM164 44h6v6h-6zM164 50h6v6h-6zM170 62h6v6h-6zM188 62h6v6h-6zM176 68h12v6h-12z"/><path fill="#484848" d="M164 26h6v6h-6zM224 26h6v6h-6zM164 32h6v6h-6zM218 32h6v6h-6zM212 38h6v6h-6zM206 44h6v6h-6zM200 50h6v6h-6zM164 56h6v6h-6zM194 56h6v6h-6zM170 68h6v6h-6z"/><path fill="#4a4a4a" d="M230 26h6v6h-6zM224 32h12v6h-12zM218 38h12v6h-12zM68 44h6v6h-6zM212 44h6v6h-6zM62 50h18v6h-18zM206 50h6v6h-6zM62 56h18v6h-18zM200 56h6v6h-6zM164 62h6v6h-6zM194 62h6v6h-6zM188 68h6v6h-6zM176 74h12v6h-12z"/><path fill="#4c4c4c" d="M236 26h12v6h-12zM158 32h6v6h-6zM236 32h6v6h-6zM62 38h18v6h-18zM158 38h6v6h-6zM230 38h6v6h-6zM56 44h12v6h-12zM74 44h6v6h-6zM158 44h6v6h-6zM218 44h12v6h-12zM56 50h6v6h-6zM80 50h6v6h-6zM158 50h6v6h-6zM212 50h6v6h-6zM56 56h6v6h-6zM80 56h6v6h-6zM56 62h30v6h-30zM68 68h6v6h-6zM164 68h6v6h-6zM170 74h6v6h-6z"/><path fill="#4e4e4e" d="M62 26h6v6h-6zM158 26h6v6h-6zM248 26h6v6h-6zM56 32h24v6h-24zM242 32h6v6h-6zM50 38h12v6h-12zM80 38h6v6h-6zM236 38h12v6h-12zM50 44h6v6h-6zM80 44h6v6h-6zM230 44h12v6h-12zM50 50h6v6h-6zM86 50h6v6h-6zM218 50h12v6h-12zM50 56h6v6h-6zM86 56h6v6h-6zM158 56h6v6h-6zM206 56h12v6h-12zM50 62h6v6h-6zM86 62h6v6h-6zM200 62h6v6h-6zM50 68h18v6h-18zM74 68h12v6h-12zM194 68h6v6h-6zM188 74h6v6h-6z"/><path fill="#505050" d="M50 26h12v6h-12zM68 26h12v6h-12zM254 26h6v6h-6zM44 32h12v6h-12zM80 32h6v6h-6zM248 32h12v6h-12zM44 38h6v6h-6zM248 38h6v6h-6zM44 44h6v6h-6zM86 44h6v6h-6zM242 44h6v6h-6zM44 50h6v6h-6zM230 50h18v6h-18zM44 56h6v6h-6zM218 56h18v6h-18zM44 62h6v6h-6zM158 62h6v6h-6zM206 62h6v6h-6zM44 68h6v6h-6zM50 74h30v6h-30zM164 74h6v6h-6zM194 74h6v6h-6zM176 80h12v6h-12z"/><path fill="#525252" d="M44 26h6v6h-6zM80 26h6v6h-6zM152 26h6v6h-6zM260 26h6v6h-6zM38 32h6v6h-6zM260 32h6v6h-6zM38 38h6v6h-6zM86 38h6v6h-6zM254 38h6v6h-6zM38 44h6v6h-6zM248 44h12v6h-12zM38 50h6v6h-6zM248 50h6v6h-6zM38 56h6v6h-6zM236 56h18v6h-18zM38 62h6v6h-6zM212 62h30v6h-30zM38 68h6v6h-6zM86 68h6v6h-6zM158 68h6v6h-6zM200 68h6v6h-6zM38 74h12v6h-12zM80 74h6v6h-6zM44 80h30v6h-30zM170 80h6v6h-6zM188 80h6v6h-6zM44 194h12v6h-12zM38 200h18v6h-18zM38 206h18v6h-18zM38 212h18v6h-18zM38 218h12v6h-12zM38 224h12v6h-12z"/><path fill="#545454" d="M38 26h6v6h-6zM266 26h6v6h-6zM32 32h6v6h-6zM86 32h6v6h-6zM152 32h6v6h-6zM266 32h6v6h-6zM32 38h6v6h-6zM152 38h6v6h-6zM260 38h12v6h-12zM32 44h6v6h-6zM152 44h6v6h-6zM260 44h6v6h-6zM32 50h6v6h-6zM92 50h6v6h-6zM152 50h6v6h-6zM254 50h12v6h-12zM32 56h6v6h-6zM92 56h6v6h-6zM254 56h6v6h-6zM32 62h6v6h-6zM92 62h6v6h-6zM242 62h18v6h-18zM32 68h6v6h-6zM206 68h48v6h-48zM32 74h6v6h-6zM200 74h6v6h-6zM32 80h12v6h-12zM74 80h6v6h-6zM164 80h6v6h-6zM194 80h6v6h-6zM38 86h36v6h-36zM176 86h12v6h-12zM44 176h18v6h-18zM38 182h30v6h-30zM32 188h36v6h-36zM32 194h12v6h-12zM56 194h12v6h-12zM26 200h12v6h-12zM56 200h12v6h-12zM26 206h12v6h-12zM56 206h6v6h-6zM26 212h12v6h-12zM56 212h6v6h-6zM26 218h12v6h-12zM50 218h12v6h-12zM26 224h12v6h-12zM50 224h6v6h-6zM26 230h30v6h-30zM26 236h24v6h-24z"/><path fill="#565656" d="M26 26h12v6h-12zM86 26h6v6h-6zM272 26h6v6h-6zM26 32h6v6h-6zM272 32h6v6h-6zM26 38h6v6h-6zM272 38h6v6h-6zM26 44h6v6h-6zM92 44h6v6h-6zM266 44h12v6h-12zM26 50h6v6h-6zM266 50h6v6h-6zM26 56h6v6h-6zM152 56h6v6h-6zM260 56h12v6h-12zM26 62h6v6h-6zM260 62h6v6h-6zM26 68h6v6h-6zM254 68h12v6h-12zM26 74h6v6h-6zM86 74h6v6h-6zM158 74h6v6h-6zM206 74h54v6h-54zM26 80h6v6h-6zM80 80h6v6h-6zM200 80h12v6h-12zM26 86h12v6h-12zM74 86h6v6h-6zM170 86h6v6h-6zM188 86h12v6h-12zM32 92h42v6h-42zM44 98h18v6h-18zM50 158h30v6h-30zM38 164h42v6h-42zM32 170h48v6h-48zM26 176h18v6h-18zM62 176h12v6h-12zM20 182h18v6h-18zM68 182h6v6h-6zM20 188h12v6h-12zM68 188h6v6h-6zM20 194h12v6h-12zM68 194h6v6h-6zM20 200h6v6h-6zM68 200h6v6h-6zM20 206h6v6h-6zM62 206h6v6h-6zM20 212h6v6h-6zM62 212h6v6h-6zM20 218h6v6h-6zM14 224h12v6h-12zM56 224h6v6h-6zM14 230h12v6h-12zM56 230h6v6h-6zM14 236h12v6h-12zM50 236h6v6h-6zM14 242h36v6h-36zM14 248h24v6h-24z"/><path fill="#585858" d="M20 26h6v6h-6zM278 26h12v6h-12zM20 32h6v6h-6zM92 32h6v6h-6zM278 32h6v6h-6zM20 38h6v6h-6zM92 38h6v6h-6zM278 38h6v6h-6zM20 44h6v6h-6zM278 44h6v6h-6zM20 50h6v6h-6zM272 50h6v6h-6zM14 56h12v6h-12zM272 56h6v6h-6zM14 62h12v6h-12zM152 62h6v6h-6zM266 62h12v6h-12zM14 68h12v6h-12zM92 68h6v6h-6zM266 68h12v6h-12zM14 74h12v6h-12zM260 74h12v6h-12zM14 80h12v6h-12zM212 80h54v6h-54zM20 86h6v6h-6zM164 86h6v6h-6zM200 86h6v6h-6zM242 86h6v6h-6zM20 92h12v6h-12zM74 92h6v6h-6zM176 92h18v6h-18zM26 98h18v6h-18zM62 98h12v6h-12zM26 104h36v6h-36zM38 110h18v6h-18zM38 146h42v6h-42zM32 152h60v6h-60zM26 158h24v6h-24zM80 158h12v6h-12zM20 164h18v6h-18zM80 164h12v6h-12zM14 170h18v6h-18zM80 170h6v6h-6zM14 176h12v6h-12zM74 176h12v6h-12zM14 182h6v6h-6zM74 182h6v6h-6zM14 188h6v6h-6zM74 188h6v6h-6zM14 194h6v6h-6zM74 194h6v6h-6zM14 200h6v6h-6zM14 206h6v6h-6zM68 206h6v6h-6zM14 212h6v6h-6zM68 212h6v6h-6zM14 218h6v6h-6zM62 218h6v6h-6zM62 224h6v6h-6zM56 236h6v6h-6zM50 242h6v6h-6zM38 248h6v6h-6zM14 254h24v6h-24zM14 260h18v6h-18z"/><path fill="#5a5a5a" d="M14 26h6v6h-6zM92 26h6v6h-6zM146 26h6v6h-6zM290 26h6v6h-6zM14 32h6v6h-6zM146 32h6v6h-6zM284 32h6v6h-6zM14 38h6v6h-6zM284 38h6v6h-6zM14 44h6v6h-6zM284 44h6v6h-6zM14 50h6v6h-6zM278 50h12v6h-12zM278 56h12v6h-12zM278 62h6v6h-6zM152 68h6v6h-6zM278 68h6v6h-6zM272 74h12v6h-12zM86 80h6v6h-6zM158 80h6v6h-6zM266 80h12v6h-12zM14 86h6v6h-6zM80 86h6v6h-6zM206 86h36v6h-36zM248 86h24v6h-24zM14 92h6v6h-6zM80 92h6v6h-6zM170 92h6v6h-6zM194 92h6v6h-6zM14 98h12v6h-12zM74 98h6v6h-6zM14 104h12v6h-12zM62 104h12v6h-12zM14 110h24v6h-24zM56 110h18v6h-18zM14 116h54v6h-54zM20 122h48v6h-48zM20 128h48v6h-48zM20 134h54v6h-54zM20 140h66v6h-66zM14 146h24v6h-24zM80 146h12v6h-12zM14 152h18v6h-18zM92 152h6v6h-6zM14 158h12v6h-12zM92 158h6v6h-6zM14 164h6v6h-6zM92 164h6v6h-6zM86 170h6v6h-6zM86 176h6v6h-6zM80 182h6v6h-6zM80 188h6v6h-6zM80 194h6v6h-6zM74 200h6v6h-6zM74 206h6v6h-6zM74 212h6v6h-6zM68 218h6v6h-6zM62 230h6v6h-6zM44 248h6v6h-6zM38 254h6v6h-6zM32 260h6v6h-6zM14 266h18v6h-18z"/><path fill="#5c5c5c" d="M296 26h6v6h-6zM290 32h12v6h-12zM146 38h6v6h-6zM290 38h6v6h-6zM146 44h6v6h-6zM290 44h6v6h-6zM290 50h6v6h-6zM98 56h6v6h-6zM290 56h6v6h-6zM98 62h6v6h-6zM284 62h12v6h-12zM284 68h6v6h-6zM92 74h6v6h-6zM152 74h6v6h-6zM284 74h6v6h-6zM278 80h12v6h-12zM158 86h6v6h-6zM272 86h12v6h-12zM164 92h6v6h-6zM200 92h12v6h-12zM230 92h42v6h-42zM80 98h6v6h-6zM176 98h18v6h-18zM74 104h12v6h-12zM74 110h12v6h-12zM68 116h18v6h-18zM14 122h6v6h-6zM68 122h18v6h-18zM14 128h6v6h-6zM68 128h24v6h-24zM14 134h6v6h-6zM74 134h18v6h-18zM14 140h6v6h-6zM86 140h12v6h-12zM92 146h6v6h-6zM98 152h6v6h-6zM98 158h6v6h-6zM92 170h6v6h-6zM86 182h6v6h-6zM86 188h6v6h-6zM80 200h6v6h-6zM80 206h6v6h-6zM74 218h6v6h-6zM68 224h6v6h-6zM62 236h6v6h-6zM56 242h6v6h-6zM50 248h6v6h-6zM44 254h6v6h-6zM38 260h6v6h-6zM32 266h12v6h-12zM14 272h18v6h-18z"/><path fill="#5e5e5e" d="M98 26h6v6h-6zM302 26h6v6h-6zM302 32h6v6h-6zM296 38h12v6h-12zM98 44h6v6h-6zM296 44h12v6h-12zM98 50h6v6h-6zM146 50h6v6h-6zM296 50h12v6h-12zM296 56h6v6h-6zM296 62h6v6h-6zM290 68h12v6h-12zM290 74h12v6h-12zM290 80h6v6h-6zM86 86h6v6h-6zM284 86h6v6h-6zM86 92h6v6h-6zM158 92h6v6h-6zM212 92h18v6h-18zM272 92h12v6h-12zM86 98h6v6h-6zM170 98h6v6h-6zM194 98h12v6h-12zM242 98h36v6h-36zM86 104h6v6h-6zM176 104h12v6h-12zM86 110h18v6h-18zM86 116h24v6h-24zM86 122h24v6h-24zM92 128h12v6h-12zM92 134h12v6h-12zM98 140h6v6h-6zM98 146h6v6h-6zM98 164h6v6h-6zM98 170h6v6h-6zM92 176h6v6h-6zM92 182h6v6h-6zM86 194h6v6h-6zM86 200h6v6h-6zM80 212h6v6h-6zM74 224h6v6h-6zM68 230h6v6h-6zM44 260h6v6h-6zM32 272h12v6h-12zM14 278h18v6h-18z"/><path fill="#606060" d="M140 26h6v6h-6zM98 32h6v6h-6zM98 38h6v6h-6zM146 56h6v6h-6zM302 56h6v6h-6zM146 62h6v6h-6zM302 62h6v6h-6zM98 68h6v6h-6zM302 68h6v6h-6zM302 74h6v6h-6zM92 80h6v6h-6zM152 80h6v6h-6zM296 80h12v6h-12zM152 86h6v6h-6zM290 86h12v6h-12zM284 92h12v6h-12zM158 98h12v6h-12zM206 98h6v6h-6zM236 98h6v6h-6zM278 98h12v6h-12zM92 104h6v6h-6zM158 104h18v6h-18zM188 104h12v6h-12zM260 104h12v6h-12zM104 110h12v6h-12zM146 110h42v6h-42zM110 116h12v6h-12zM134 116h54v6h-54zM110 122h48v6h-48zM164 122h18v6h-18zM104 128h18v6h-18zM104 134h12v6h-12zM104 140h6v6h-6zM104 146h6v6h-6zM104 152h6v6h-6zM104 158h6v6h-6zM104 164h6v6h-6zM98 176h6v6h-6zM92 188h6v6h-6zM92 194h6v6h-6zM86 206h6v6h-6zM86 212h6v6h-6zM80 218h6v6h-6zM50 254h6v6h-6zM44 266h6v6h-6zM44 272h6v6h-6zM32 278h12v6h-12zM14 284h18v6h-18zM14 332h6v6h-6zM14 338h6v6h-6zM14 344h12v6h-12zM14 350h12v6h-12zM14 356h12v6h-12zM14 362h6v6h-6zM14 368h6v6h-6z"/><path fill="#626262" d="M140 32h6v6h-6zM146 68h6v6h-6zM92 86h6v6h-6zM302 86h6v6h-6zM92 92h6v6h-6zM152 92h6v6h-6zM296 92h12v6h-12zM92 98h6v6h-6zM152 98h6v6h-6zM212 98h24v6h-24zM290 98h12v6h-12zM98 104h6v6h-6zM146 104h12v6h-12zM200 104h6v6h-6zM248 104h12v6h-12zM272 104h18v6h-18zM116 110h6v6h-6zM134 110h12v6h-12zM188 110h12v6h-12zM122 116h12v6h-12zM188 116h6v6h-6zM158 122h6v6h-6zM182 122h6v6h-6zM122 128h66v6h-66zM116 134h12v6h-12zM158 134h30v6h-30zM110 140h6v6h-6zM110 146h6v6h-6zM104 170h6v6h-6zM104 176h6v6h-6zM98 182h6v6h-6zM98 188h6v6h-6zM92 200h6v6h-6zM92 206h6v6h-6zM86 218h6v6h-6zM80 224h6v6h-6zM74 230h6v6h-6zM68 236h6v6h-6zM62 242h6v6h-6zM56 248h6v6h-6zM50 260h6v6h-6zM44 278h6v6h-6zM32 284h6v6h-6zM14 290h12v6h-12zM14 326h6v6h-6zM20 332h6v6h-6zM20 338h12v6h-12zM26 344h6v6h-6zM26 350h6v6h-6zM26 356h6v6h-6zM20 362h6v6h-6zM20 368h6v6h-6zM14 374h6v6h-6zM14 380h6v6h-6z"/><path fill="#646464" d="M104 26h6v6h-6zM134 26h6v6h-6zM140 38h6v6h-6zM146 74h6v6h-6zM146 98h6v6h-6zM302 98h6v6h-6zM104 104h6v6h-6zM140 104h6v6h-6zM206 104h6v6h-6zM236 104h12v6h-12zM290 104h18v6h-18zM122 110h12v6h-12zM254 110h42v6h-42zM194 116h6v6h-6zM188 122h6v6h-6zM188 128h6v6h-6zM128 134h30v6h-30zM188 134h6v6h-6zM116 140h12v6h-12zM158 140h30v6h-30zM110 152h6v6h-6zM110 158h6v6h-6zM110 164h6v6h-6zM110 170h6v6h-6zM104 182h6v6h-6zM104 188h6v6h-6zM98 194h6v6h-6zM98 200h6v6h-6zM92 212h6v6h-6zM92 218h6v6h-6zM86 224h6v6h-6zM50 266h6v6h-6zM38 284h6v6h-6zM26 290h12v6h-12zM14 296h12v6h-12zM14 302h6v6h-6zM14 308h6v6h-6zM14 314h6v6h-6zM14 320h12v6h-12zM20 326h6v6h-6zM26 332h6v6h-6zM32 338h6v6h-6zM32 344h6v6h-6zM32 350h6v6h-6zM26 362h6v6h-6zM26 368h6v6h-6zM20 374h6v6h-6zM20 380h6v6h-6zM14 386h6v6h-6zM14 392h6v6h-6zM14 398h6v6h-6zM14 404h6v6h-6zM14 410h6v6h-6zM14 416h6v6h-6zM14 422h6v6h-6zM14 428h6v6h-6zM14 434h6v6h-6zM14 440h6v6h-6zM14 446h6v6h-6zM14 452h6v6h-6zM14 458h6v6h-6zM14 464h12v6h-12zM14 470h12v6h-12zM14 476h12v6h-12z"/><path fill="#666666" d="M104 32h6v6h-6zM140 44h6v6h-6zM140 50h6v6h-6zM98 74h6v6h-6zM146 80h6v6h-6zM146 86h6v6h-6zM146 92h6v6h-6zM98 98h6v6h-6zM110 104h6v6h-6zM134 104h6v6h-6zM212 104h6v6h-6zM230 104h6v6h-6zM200 110h6v6h-6zM248 110h6v6h-6zM296 110h12v6h-12zM260 116h36v6h-36zM194 122h6v6h-6zM194 128h6v6h-6zM128 140h30v6h-30zM188 140h6v6h-6zM116 146h12v6h-12zM164 146h30v6h-30zM116 152h6v6h-6zM116 158h6v6h-6zM110 176h6v6h-6zM110 182h6v6h-6zM104 194h6v6h-6zM104 200h6v6h-6zM98 206h6v6h-6zM98 212h6v6h-6zM92 224h6v6h-6zM80 230h6v6h-6zM74 236h6v6h-6zM56 254h6v6h-6zM50 272h6v6h-6zM50 278h6v6h-6zM44 284h6v6h-6zM38 290h6v6h-6zM26 296h12v6h-12zM20 302h12v6h-12zM20 308h6v6h-6zM20 314h6v6h-6zM26 320h6v6h-6zM26 326h6v6h-6zM32 332h6v6h-6zM38 338h6v6h-6zM38 344h6v6h-6zM38 350h6v6h-6zM32 356h6v6h-6zM32 362h6v6h-6zM26 374h6v6h-6zM20 386h6v6h-6zM20 392h6v6h-6zM20 398h6v6h-6zM20 404h6v6h-6zM20 410h6v6h-6zM20 416h6v6h-6zM20 422h6v6h-6zM20 428h6v6h-6zM20 434h6v6h-6zM20 440h6v6h-6zM20 446h6v6h-6zM20 452h6v6h-6zM20 458h12v6h-12zM26 464h6v6h-6zM26 470h6v6h-6zM26 476h6v6h-6z"/><path fill="#686868" d="M110 26h6v6h-6zM128 26h6v6h-6zM134 32h6v6h-6zM104 38h6v6h-6zM104 44h6v6h-6zM104 50h6v6h-6zM104 56h6v6h-6zM140 56h6v6h-6zM104 62h6v6h-6zM98 92h6v6h-6zM104 98h6v6h-6zM140 98h6v6h-6zM116 104h6v6h-6zM128 104h6v6h-6zM218 104h12v6h-12zM206 110h6v6h-6zM242 110h6v6h-6zM200 116h6v6h-6zM254 116h6v6h-6zM296 116h12v6h-12zM266 122h42v6h-42zM194 134h6v6h-6zM194 140h6v6h-6zM128 146h36v6h-36zM122 152h12v6h-12zM122 158h6v6h-6zM116 164h6v6h-6zM116 170h6v6h-6zM116 176h6v6h-6zM116 182h6v6h-6zM110 188h6v6h-6zM110 194h6v6h-6zM110 200h6v6h-6zM104 206h6v6h-6zM104 212h6v6h-6zM98 218h6v6h-6zM98 224h6v6h-6zM86 230h6v6h-6zM68 242h6v6h-6zM62 248h6v6h-6zM50 284h6v6h-6zM44 290h6v6h-6zM38 296h6v6h-6zM32 302h6v6h-6zM26 308h6v6h-6zM26 314h6v6h-6zM32 320h6v6h-6zM32 326h6v6h-6zM38 332h6v6h-6zM38 356h6v6h-6zM32 368h6v6h-6zM32 374h6v6h-6zM26 380h6v6h-6zM26 386h6v6h-6zM26 392h6v6h-6zM26 398h6v6h-6zM26 404h6v6h-6zM26 410h6v6h-6zM26 416h6v6h-6zM26 422h6v6h-6zM26 428h6v6h-6zM26 434h6v6h-6zM26 440h6v6h-6zM26 446h6v6h-6zM26 452h12v6h-12zM32 458h6v6h-6zM32 464h6v6h-6zM32 470h6v6h-6zM32 476h6v6h-6z"/><path fill="#6a6a6a" d="M116 26h12v6h-12zM134 38h6v6h-6zM140 62h6v6h-6zM98 80h6v6h-6zM98 86h6v6h-6zM140 92h6v6h-6zM134 98h6v6h-6zM122 104h6v6h-6zM236 110h6v6h-6zM248 116h6v6h-6zM200 122h6v6h-6zM254 122h12v6h-12zM200 128h6v6h-6zM266 128h42v6h-42zM200 134h6v6h-6zM200 140h6v6h-6zM194 146h6v6h-6zM134 152h60v6h-60zM128 158h6v6h-6zM122 164h12v6h-12zM122 170h6v6h-6zM122 176h6v6h-6zM122 182h6v6h-6zM116 188h6v6h-6zM116 194h6v6h-6zM110 206h6v6h-6zM104 218h6v6h-6zM92 230h6v6h-6zM80 236h6v6h-6zM56 260h6v6h-6zM50 290h6v6h-6zM44 296h6v6h-6zM38 302h6v6h-6zM32 308h6v6h-6zM32 314h6v6h-6zM38 320h6v6h-6zM38 326h6v6h-6zM44 332h6v6h-6zM44 338h6v6h-6zM44 344h6v6h-6zM44 350h6v6h-6zM38 362h6v6h-6zM38 368h6v6h-6zM32 380h6v6h-6zM32 386h6v6h-6zM32 392h6v6h-6zM32 416h6v6h-6zM32 422h6v6h-6zM32 428h6v6h-6zM32 434h6v6h-6zM32 440h6v6h-6zM32 446h6v6h-6zM38 452h6v6h-6zM38 458h6v6h-6zM38 464h6v6h-6zM38 470h6v6h-6zM38 476h12v6h-12z"/><path fill="#6c6c6c" d="M110 32h6v6h-6zM128 32h6v6h-6zM104 68h6v6h-6zM140 68h6v6h-6zM140 86h6v6h-6zM110 98h6v6h-6zM212 110h6v6h-6zM230 110h6v6h-6zM206 116h6v6h-6zM242 116h6v6h-6zM248 122h6v6h-6zM254 128h12v6h-12zM260 134h48v6h-48zM200 146h6v6h-6zM194 152h6v6h-6zM134 158h24v6h-24zM134 164h6v6h-6zM128 170h6v6h-6zM128 176h6v6h-6zM128 182h6v6h-6zM122 188h6v6h-6zM122 194h6v6h-6zM116 200h12v6h-12zM116 206h6v6h-6zM110 212h6v6h-6zM110 218h6v6h-6zM104 224h6v6h-6zM98 230h6v6h-6zM86 236h6v6h-6zM74 242h6v6h-6zM56 266h6v6h-6zM56 272h6v6h-6zM56 278h6v6h-6zM50 296h6v6h-6zM44 302h6v6h-6zM38 308h12v6h-12zM38 314h6v6h-6zM44 320h6v6h-6zM44 326h6v6h-6zM50 338h6v6h-6zM50 344h6v6h-6zM44 356h6v6h-6zM38 374h6v6h-6zM38 380h6v6h-6zM32 398h6v6h-6zM32 404h6v6h-6zM32 410h6v6h-6zM38 422h6v6h-6zM38 428h6v6h-6zM38 434h6v6h-6zM38 440h6v6h-6zM38 446h12v6h-12zM44 452h6v6h-6zM44 458h6v6h-6zM44 464h6v6h-6zM44 470h12v6h-12zM50 476h6v6h-6z"/><path fill="#6e6e6e" d="M116 32h12v6h-12zM134 44h6v6h-6zM140 74h6v6h-6zM140 80h6v6h-6zM104 92h6v6h-6zM128 98h6v6h-6zM218 110h12v6h-12zM212 116h6v6h-6zM236 116h6v6h-6zM206 122h6v6h-6zM242 122h6v6h-6zM206 128h6v6h-6zM248 128h6v6h-6zM206 134h6v6h-6zM248 134h12v6h-12zM206 140h6v6h-6zM254 140h54v6h-54zM206 146h6v6h-6zM290 146h18v6h-18zM200 152h6v6h-6zM158 158h36v6h-36zM140 164h12v6h-12zM134 170h12v6h-12zM134 176h6v6h-6zM134 182h6v6h-6zM128 188h6v6h-6zM128 194h6v6h-6zM128 200h6v6h-6zM122 206h6v6h-6zM116 212h6v6h-6zM110 224h6v6h-6zM104 230h6v6h-6zM92 236h6v6h-6zM68 248h6v6h-6zM62 254h6v6h-6zM56 284h6v6h-6zM56 290h6v6h-6zM50 302h6v6h-6zM50 308h6v6h-6zM44 314h12v6h-12zM50 320h6v6h-6zM50 326h6v6h-6zM50 332h6v6h-6zM50 350h6v6h-6zM50 356h6v6h-6zM44 362h6v6h-6zM44 368h6v6h-6zM38 386h6v6h-6zM38 392h6v6h-6zM38 398h6v6h-6zM38 404h6v6h-6zM38 410h6v6h-6zM38 416h6v6h-6zM44 422h6v6h-6zM44 428h6v6h-6zM44 434h6v6h-6zM44 440h6v6h-6zM50 446h6v6h-6zM50 452h6v6h-6zM50 458h6v6h-6zM50 464h12v6h-12zM56 470h6v6h-6zM56 476h6v6h-6z"/><path fill="#707070" d="M110 38h6v6h-6zM128 38h6v6h-6zM134 50h6v6h-6zM104 74h6v6h-6zM134 92h6v6h-6zM116 98h12v6h-12zM230 116h6v6h-6zM212 122h6v6h-6zM236 122h6v6h-6zM242 128h6v6h-6zM242 134h6v6h-6zM212 140h6v6h-6zM242 140h12v6h-12zM236 146h54v6h-54zM206 152h6v6h-6zM242 152h6v6h-6zM290 152h18v6h-18zM194 158h6v6h-6zM152 164h18v6h-18zM146 170h6v6h-6zM140 176h6v6h-6zM140 182h6v6h-6zM134 188h6v6h-6zM134 194h6v6h-6zM134 200h6v6h-6zM128 206h6v6h-6zM122 212h6v6h-6zM116 218h6v6h-6zM110 230h6v6h-6zM98 236h12v6h-12zM80 242h6v6h-6zM122 272h12v6h-12zM122 278h12v6h-12zM122 284h12v6h-12zM56 296h6v6h-6zM56 302h6v6h-6zM56 320h6v6h-6zM56 326h6v6h-6zM56 332h6v6h-6zM56 338h6v6h-6zM56 344h6v6h-6zM56 350h6v6h-6zM50 362h6v6h-6zM44 374h6v6h-6zM44 380h6v6h-6zM44 386h6v6h-6zM44 392h6v6h-6zM44 398h6v6h-6zM44 404h6v6h-6zM44 410h6v6h-6zM44 416h6v6h-6zM50 422h6v6h-6zM50 428h6v6h-6zM50 434h6v6h-6zM50 440h12v6h-12zM56 446h6v6h-6zM56 452h6v6h-6zM56 458h12v6h-12zM62 464h6v6h-6zM62 470h6v6h-6zM62 476h12v6h-12z"/><path fill="#727272" d="M110 44h6v6h-6zM134 56h6v6h-6zM104 86h6v6h-6zM218 116h12v6h-12zM212 128h6v6h-6zM236 128h6v6h-6zM212 134h6v6h-6zM236 134h6v6h-6zM218 140h24v6h-24zM212 146h24v6h-24zM212 152h6v6h-6zM224 152h18v6h-18zM248 152h42v6h-42zM200 158h6v6h-6zM236 158h12v6h-12zM290 158h18v6h-18zM170 164h12v6h-12zM152 170h6v6h-6zM146 176h6v6h-6zM146 182h6v6h-6zM140 188h6v6h-6zM140 194h6v6h-6zM140 200h6v6h-6zM134 206h6v6h-6zM128 212h6v6h-6zM122 218h6v6h-6zM116 224h6v6h-6zM110 236h6v6h-6zM86 242h18v6h-18zM62 260h6v6h-6zM62 266h6v6h-6zM116 266h18v6h-18zM116 272h6v6h-6zM134 272h6v6h-6zM62 278h6v6h-6zM116 278h6v6h-6zM134 278h6v6h-6zM62 284h6v6h-6zM116 284h6v6h-6zM134 284h6v6h-6zM122 290h12v6h-12zM56 308h6v6h-6zM56 314h6v6h-6zM62 320h6v6h-6zM62 326h6v6h-6zM62 332h6v6h-6zM62 338h6v6h-6zM62 344h6v6h-6zM62 350h6v6h-6zM56 356h6v6h-6zM50 368h6v6h-6zM50 374h6v6h-6zM50 398h6v6h-6zM50 404h6v6h-6zM50 410h6v6h-6zM50 416h6v6h-6zM56 422h6v6h-6zM56 428h6v6h-6zM56 434h12v6h-12zM62 440h6v6h-6zM62 446h6v6h-6zM62 452h12v6h-12zM68 458h6v6h-6zM68 464h12v6h-12zM68 470h12v6h-12zM74 476h6v6h-6z"/><path fill="#747474" d="M116 38h12v6h-12zM128 44h6v6h-6zM110 50h6v6h-6zM110 56h6v6h-6zM110 62h6v6h-6zM134 62h6v6h-6zM134 68h6v6h-6zM104 80h6v6h-6zM134 86h6v6h-6zM110 92h6v6h-6zM128 92h6v6h-6zM218 122h18v6h-18zM218 128h18v6h-18zM218 134h18v6h-18zM218 152h6v6h-6zM206 158h12v6h-12zM224 158h12v6h-12zM248 158h42v6h-42zM182 164h12v6h-12zM296 164h12v6h-12zM158 170h12v6h-12zM152 176h6v6h-6zM146 188h6v6h-6zM146 194h6v6h-6zM146 200h6v6h-6zM140 206h6v6h-6zM134 212h6v6h-6zM128 218h6v6h-6zM122 224h6v6h-6zM116 230h6v6h-6zM116 236h6v6h-6zM104 242h18v6h-18zM74 248h6v6h-6zM68 254h6v6h-6zM116 254h12v6h-12zM116 260h24v6h-24zM134 266h6v6h-6zM62 272h6v6h-6zM110 272h6v6h-6zM140 272h6v6h-6zM110 278h6v6h-6zM140 278h6v6h-6zM110 284h6v6h-6zM140 284h6v6h-6zM62 290h6v6h-6zM116 290h6v6h-6zM134 290h6v6h-6zM62 296h6v6h-6zM116 296h24v6h-24zM62 302h6v6h-6zM62 308h6v6h-6zM62 314h6v6h-6zM68 320h6v6h-6zM68 326h6v6h-6zM68 332h6v6h-6zM68 338h6v6h-6zM68 344h6v6h-6zM68 350h6v6h-6zM62 356h6v6h-6zM56 362h6v6h-6zM56 368h6v6h-6zM50 380h6v6h-6zM50 386h6v6h-6zM50 392h6v6h-6zM56 404h6v6h-6zM56 410h6v6h-6zM56 416h6v6h-6zM62 422h6v6h-6zM62 428h6v6h-6zM68 434h6v6h-6zM68 440h6v6h-6zM68 446h12v6h-12zM74 452h6v6h-6zM74 458h12v6h-12zM80 464h6v6h-6zM80 470h6v6h-6zM80 476h12v6h-12z"/><path fill="#767676" d="M110 68h6v6h-6zM134 74h6v6h-6zM134 80h6v6h-6zM218 158h6v6h-6zM194 164h12v6h-12zM230 164h24v6h-24zM278 164h18v6h-18zM170 170h6v6h-6zM296 170h12v6h-12zM158 176h6v6h-6zM152 182h6v6h-6zM152 188h6v6h-6zM146 206h6v6h-6zM140 212h12v6h-12zM134 218h12v6h-12zM128 224h6v6h-6zM122 230h6v6h-6zM122 236h6v6h-6zM122 242h6v6h-6zM80 248h6v6h-6zM92 248h42v6h-42zM110 254h6v6h-6zM128 254h12v6h-12zM110 260h6v6h-6zM110 266h6v6h-6zM140 266h6v6h-6zM146 278h6v6h-6zM68 290h6v6h-6zM110 290h6v6h-6zM140 290h6v6h-6zM68 296h6v6h-6zM110 296h6v6h-6zM140 296h6v6h-6zM68 302h6v6h-6zM116 302h24v6h-24zM68 308h6v6h-6zM68 314h6v6h-6zM74 320h6v6h-6zM74 326h6v6h-6zM74 332h6v6h-6zM74 338h6v6h-6zM74 344h6v6h-6zM74 350h6v6h-6zM68 356h6v6h-6zM62 362h6v6h-6zM56 374h6v6h-6zM56 380h6v6h-6zM56 386h6v6h-6zM56 392h6v6h-6zM56 398h6v6h-6zM62 404h6v6h-6zM62 410h6v6h-6zM62 416h12v6h-12zM68 422h6v6h-6zM68 428h12v6h-12zM74 434h12v6h-12zM74 440h12v6h-12zM80 446h12v6h-12zM80 452h12v6h-12zM86 458h6v6h-6zM86 464h12v6h-12zM86 470h12v6h-12zM92 476h6v6h-6z"/><path fill="#787878" d="M116 44h12v6h-12zM128 50h6v6h-6zM128 56h6v6h-6zM116 92h12v6h-12zM206 164h24v6h-24zM254 164h24v6h-24zM176 170h12v6h-12zM284 170h12v6h-12zM164 176h6v6h-6zM296 176h12v6h-12zM158 182h6v6h-6zM152 194h6v6h-6zM152 200h6v6h-6zM152 206h6v6h-6zM146 218h6v6h-6zM134 224h12v6h-12zM128 230h12v6h-12zM128 236h6v6h-6zM128 242h12v6h-12zM86 248h6v6h-6zM134 248h6v6h-6zM98 254h12v6h-12zM140 254h6v6h-6zM68 260h6v6h-6zM104 260h6v6h-6zM140 260h6v6h-6zM104 266h6v6h-6zM146 266h6v6h-6zM104 272h6v6h-6zM146 272h6v6h-6zM68 278h6v6h-6zM104 278h6v6h-6zM68 284h6v6h-6zM104 284h6v6h-6zM146 284h6v6h-6zM104 290h6v6h-6zM146 290h6v6h-6zM74 296h6v6h-6zM104 296h6v6h-6zM146 296h6v6h-6zM74 302h6v6h-6zM104 302h12v6h-12zM140 302h6v6h-6zM74 308h6v6h-6zM104 308h36v6h-36zM74 314h12v6h-12zM116 314h12v6h-12zM80 320h6v6h-6zM80 326h6v6h-6zM80 332h6v6h-6zM80 338h6v6h-6zM80 344h6v6h-6zM80 350h6v6h-6zM74 356h6v6h-6zM68 362h6v6h-6zM62 368h12v6h-12zM62 374h6v6h-6zM62 380h6v6h-6zM62 386h6v6h-6zM62 392h6v6h-6zM62 398h12v6h-12zM68 404h6v6h-6zM68 410h12v6h-12zM74 416h6v6h-6zM74 422h12v6h-12zM80 428h12v6h-12zM86 434h12v6h-12zM86 440h12v6h-12zM92 446h12v6h-12zM92 452h12v6h-12zM92 458h12v6h-12zM98 464h6v6h-6zM98 470h12v6h-12zM98 476h12v6h-12z"/><path fill="#7a7a7a" d="M128 62h6v6h-6zM110 74h6v6h-6zM128 86h6v6h-6zM188 170h18v6h-18zM224 170h30v6h-30zM266 170h18v6h-18zM170 176h6v6h-6zM284 176h12v6h-12zM296 182h12v6h-12zM158 188h6v6h-6zM152 212h6v6h-6zM152 218h6v6h-6zM146 224h6v6h-6zM140 230h6v6h-6zM134 236h12v6h-12zM140 242h6v6h-6zM140 248h6v6h-6zM74 254h6v6h-6zM92 254h6v6h-6zM98 260h6v6h-6zM146 260h6v6h-6zM68 266h6v6h-6zM68 272h6v6h-6zM98 278h6v6h-6zM152 278h6v6h-6zM98 284h6v6h-6zM152 284h6v6h-6zM74 290h6v6h-6zM98 290h6v6h-6zM152 290h6v6h-6zM80 296h6v6h-6zM92 296h12v6h-12zM80 302h24v6h-24zM146 302h6v6h-6zM80 308h24v6h-24zM140 308h6v6h-6zM86 314h30v6h-30zM128 314h12v6h-12zM86 320h48v6h-48zM86 326h36v6h-36zM86 332h24v6h-24zM86 338h18v6h-18zM86 344h12v6h-12zM86 350h6v6h-6zM80 356h6v6h-6zM74 362h12v6h-12zM74 368h6v6h-6zM68 374h6v6h-6zM68 380h6v6h-6zM68 386h6v6h-6zM68 392h12v6h-12zM74 398h6v6h-6zM74 404h12v6h-12zM80 410h6v6h-6zM80 416h12v6h-12zM86 422h12v6h-12zM92 428h12v6h-12zM98 434h12v6h-12zM98 440h18v6h-18zM104 446h12v6h-12zM104 452h12v6h-12zM104 458h12v6h-12zM104 464h12v6h-12zM110 470h6v6h-6zM110 476h6v6h-6z"/><path fill="#7c7c7c" d="M116 50h12v6h-12zM116 56h12v6h-12zM116 62h6v6h-6zM128 68h6v6h-6zM128 80h6v6h-6zM110 86h6v6h-6zM206 170h18v6h-18zM254 170h12v6h-12zM176 176h6v6h-6zM272 176h12v6h-12zM164 182h6v6h-6zM284 182h12v6h-12zM290 188h18v6h-18zM158 194h6v6h-6zM158 200h6v6h-6zM158 206h6v6h-6zM158 212h6v6h-6zM152 224h6v6h-6zM146 230h6v6h-6zM146 236h6v6h-6zM146 242h6v6h-6zM146 248h6v6h-6zM80 254h12v6h-12zM146 254h6v6h-6zM98 266h6v6h-6zM152 266h6v6h-6zM98 272h6v6h-6zM152 272h6v6h-6zM74 278h6v6h-6zM74 284h6v6h-6zM92 284h6v6h-6zM80 290h18v6h-18zM86 296h6v6h-6zM152 296h6v6h-6zM146 308h6v6h-6zM140 314h6v6h-6zM134 320h12v6h-12zM122 326h18v6h-18zM110 332h24v6h-24zM104 338h24v6h-24zM98 344h24v6h-24zM92 350h18v6h-18zM86 356h12v6h-12zM86 362h6v6h-6zM80 368h6v6h-6zM74 374h12v6h-12zM74 380h12v6h-12zM74 386h12v6h-12zM80 392h6v6h-6zM80 398h12v6h-12zM86 404h12v6h-12zM86 410h24v6h-24zM92 416h30v6h-30zM98 422h30v6h-30zM104 428h24v6h-24zM110 434h18v6h-18zM116 440h12v6h-12zM116 446h12v6h-12zM116 452h12v6h-12zM116 458h12v6h-12zM116 464h12v6h-12zM116 470h12v6h-12zM116 476h12v6h-12z"/><path fill="#7e7e7e" d="M122 62h6v6h-6zM116 68h6v6h-6zM128 74h6v6h-6zM110 80h6v6h-6zM182 176h12v6h-12zM200 176h72v6h-72zM272 182h12v6h-12zM164 188h6v6h-6zM278 188h12v6h-12zM284 194h24v6h-24zM302 200h6v6h-6zM158 218h6v6h-6zM158 224h6v6h-6zM152 230h6v6h-6zM152 236h6v6h-6zM74 260h6v6h-6zM92 260h6v6h-6zM152 260h6v6h-6zM92 266h6v6h-6zM74 272h6v6h-6zM92 272h6v6h-6zM80 278h18v6h-18zM158 278h6v6h-6zM80 284h12v6h-12zM158 284h6v6h-6zM158 290h6v6h-6zM152 302h6v6h-6zM152 308h6v6h-6zM146 314h6v6h-6zM146 320h6v6h-6zM140 326h6v6h-6zM134 332h12v6h-12zM128 338h12v6h-12zM122 344h12v6h-12zM110 350h18v6h-18zM98 356h24v6h-24zM92 362h18v6h-18zM86 368h12v6h-12zM86 374h6v6h-6zM86 380h6v6h-6zM86 386h12v6h-12zM86 392h18v6h-18zM92 398h30v6h-30zM98 404h42v6h-42zM110 410h36v6h-36zM122 416h24v6h-24zM128 422h18v6h-18zM128 428h18v6h-18zM128 434h18v6h-18zM128 440h12v6h-12zM128 446h12v6h-12zM128 452h12v6h-12zM128 458h12v6h-12zM128 464h6v6h-6zM128 470h6v6h-6zM128 476h6v6h-6z"/><path fill="#818181" d="M122 68h6v6h-6zM116 86h12v6h-12zM194 176h6v6h-6zM170 182h6v6h-6zM212 182h36v6h-36zM266 182h6v6h-6zM272 188h6v6h-6zM164 194h6v6h-6zM272 194h12v6h-12zM164 200h6v6h-6zM278 200h24v6h-24zM164 206h6v6h-6zM284 206h24v6h-24zM164 212h6v6h-6zM302 212h6v6h-6zM158 230h6v6h-6zM152 242h6v6h-6zM278 242h6v6h-6zM152 248h6v6h-6zM278 248h6v6h-6zM152 254h6v6h-6zM80 260h12v6h-12zM74 266h6v6h-6zM86 266h6v6h-6zM158 266h6v6h-6zM80 272h12v6h-12zM158 272h6v6h-6zM158 296h6v6h-6zM158 302h6v6h-6zM152 314h6v6h-6zM152 320h6v6h-6zM146 326h6v6h-6zM146 332h6v6h-6zM140 338h6v6h-6zM134 344h12v6h-12zM128 350h12v6h-12zM122 356h12v6h-12zM110 362h24v6h-24zM98 368h30v6h-30zM92 374h36v6h-36zM92 380h36v6h-36zM98 386h36v6h-36zM104 392h42v6h-42zM122 398h30v6h-30zM140 404h18v6h-18zM146 410h12v6h-12zM146 416h12v6h-12zM146 422h12v6h-12zM146 428h12v6h-12zM146 434h6v6h-6zM140 440h12v6h-12zM140 446h6v6h-6zM140 452h6v6h-6zM140 458h6v6h-6zM134 464h12v6h-12zM134 470h12v6h-12zM134 476h12v6h-12z"/><path fill="#838383" d="M116 74h12v6h-12zM122 80h6v6h-6zM176 182h6v6h-6zM200 182h12v6h-12zM248 182h18v6h-18zM170 188h6v6h-6zM212 188h30v6h-30zM260 188h12v6h-12zM212 194h18v6h-18zM266 194h6v6h-6zM212 200h18v6h-18zM272 200h6v6h-6zM212 206h12v6h-12zM272 206h12v6h-12zM278 212h24v6h-24zM164 218h6v6h-6zM278 218h30v6h-30zM164 224h6v6h-6zM272 224h36v6h-36zM272 230h36v6h-36zM158 236h6v6h-6zM266 236h42v6h-42zM158 242h6v6h-6zM260 242h18v6h-18zM284 242h24v6h-24zM254 248h24v6h-24zM284 248h24v6h-24zM158 254h6v6h-6zM254 254h48v6h-48zM158 260h6v6h-6zM254 260h42v6h-42zM80 266h6v6h-6zM260 266h24v6h-24zM164 278h6v6h-6zM164 284h6v6h-6zM164 290h6v6h-6zM164 296h6v6h-6zM158 308h6v6h-6zM158 314h6v6h-6zM152 326h6v6h-6zM152 332h6v6h-6zM146 338h6v6h-6zM146 344h6v6h-6zM140 350h6v6h-6zM134 356h12v6h-12zM134 362h12v6h-12zM128 368h12v6h-12zM128 374h12v6h-12zM128 380h18v6h-18zM134 386h18v6h-18zM146 392h12v6h-12zM152 398h6v6h-6zM158 404h6v6h-6zM158 410h6v6h-6zM158 416h6v6h-6zM158 422h6v6h-6zM158 428h6v6h-6zM152 434h6v6h-6zM152 440h6v6h-6zM146 446h12v6h-12zM146 452h6v6h-6zM146 458h6v6h-6zM146 464h6v6h-6zM146 470h6v6h-6zM146 476h6v6h-6z"/><path fill="#858585" d="M116 80h6v6h-6zM182 182h18v6h-18zM200 188h12v6h-12zM242 188h18v6h-18zM206 194h6v6h-6zM230 194h6v6h-6zM260 194h6v6h-6zM206 200h6v6h-6zM230 200h6v6h-6zM266 200h6v6h-6zM206 206h6v6h-6zM224 206h6v6h-6zM266 206h6v6h-6zM212 212h18v6h-18zM272 212h6v6h-6zM218 218h6v6h-6zM272 218h6v6h-6zM266 224h6v6h-6zM164 230h6v6h-6zM266 230h6v6h-6zM164 236h6v6h-6zM254 236h12v6h-12zM248 242h12v6h-12zM158 248h6v6h-6zM248 248h6v6h-6zM242 254h12v6h-12zM302 254h6v6h-6zM248 260h6v6h-6zM296 260h12v6h-12zM164 266h6v6h-6zM248 266h12v6h-12zM284 266h24v6h-24zM164 272h6v6h-6zM254 272h42v6h-42zM260 278h12v6h-12zM164 302h6v6h-6zM164 308h6v6h-6zM158 320h6v6h-6zM158 326h6v6h-6zM158 332h6v6h-6zM152 338h6v6h-6zM152 344h6v6h-6zM146 350h6v6h-6zM146 356h6v6h-6zM146 362h6v6h-6zM140 368h12v6h-12zM140 374h12v6h-12zM146 380h6v6h-6zM152 386h6v6h-6zM158 392h6v6h-6zM158 398h6v6h-6zM164 404h6v6h-6zM164 410h6v6h-6zM164 416h6v6h-6zM164 422h6v6h-6zM164 428h6v6h-6zM158 434h6v6h-6zM158 440h6v6h-6zM158 446h6v6h-6zM152 452h12v6h-12zM152 458h6v6h-6zM152 464h6v6h-6zM152 470h6v6h-6zM152 476h6v6h-6z"/><path fill="#878787" d="M176 188h6v6h-6zM170 194h6v6h-6zM200 194h6v6h-6zM236 194h24v6h-24zM170 200h6v6h-6zM236 200h6v6h-6zM260 200h6v6h-6zM170 206h6v6h-6zM230 206h6v6h-6zM260 206h6v6h-6zM170 212h6v6h-6zM206 212h6v6h-6zM230 212h6v6h-6zM266 212h6v6h-6zM170 218h6v6h-6zM212 218h6v6h-6zM224 218h12v6h-12zM266 218h6v6h-6zM170 224h6v6h-6zM218 224h18v6h-18zM260 224h6v6h-6zM170 230h6v6h-6zM224 230h12v6h-12zM254 230h12v6h-12zM236 236h18v6h-18zM164 242h6v6h-6zM236 242h12v6h-12zM164 248h6v6h-6zM236 248h12v6h-12zM164 254h6v6h-6zM236 254h6v6h-6zM164 260h6v6h-6zM242 260h6v6h-6zM242 266h6v6h-6zM170 272h6v6h-6zM242 272h12v6h-12zM296 272h12v6h-12zM170 278h6v6h-6zM248 278h12v6h-12zM272 278h30v6h-30zM170 284h6v6h-6zM170 290h6v6h-6zM170 296h6v6h-6zM164 314h6v6h-6zM164 320h6v6h-6zM164 326h6v6h-6zM158 338h6v6h-6zM158 344h6v6h-6zM152 350h6v6h-6zM152 356h6v6h-6zM152 362h6v6h-6zM152 368h6v6h-6zM152 374h6v6h-6zM152 380h6v6h-6zM158 386h6v6h-6zM164 392h6v6h-6zM164 398h6v6h-6zM170 404h6v6h-6zM170 410h6v6h-6zM170 416h6v6h-6zM170 422h6v6h-6zM170 428h6v6h-6zM164 434h6v6h-6zM164 440h6v6h-6zM164 446h6v6h-6zM164 452h6v6h-6zM158 458h12v6h-12zM158 464h6v6h-6zM158 470h6v6h-6zM158 476h6v6h-6z"/><path fill="#898989" d="M182 188h18v6h-18zM200 200h6v6h-6zM242 200h18v6h-18zM200 206h6v6h-6zM236 206h6v6h-6zM200 212h6v6h-6zM236 212h6v6h-6zM260 212h6v6h-6zM206 218h6v6h-6zM236 218h6v6h-6zM260 218h6v6h-6zM212 224h6v6h-6zM236 224h6v6h-6zM254 224h6v6h-6zM218 230h6v6h-6zM236 230h18v6h-18zM170 236h6v6h-6zM224 236h12v6h-12zM224 242h12v6h-12zM230 248h6v6h-6zM230 254h6v6h-6zM170 260h6v6h-6zM230 260h12v6h-12zM170 266h6v6h-6zM236 266h6v6h-6zM236 272h6v6h-6zM242 278h6v6h-6zM302 278h6v6h-6zM248 284h60v6h-60zM170 302h6v6h-6zM170 308h6v6h-6zM170 314h6v6h-6zM164 332h6v6h-6zM164 338h6v6h-6zM158 350h6v6h-6zM158 356h6v6h-6zM158 362h6v6h-6zM158 368h6v6h-6zM158 374h6v6h-6zM158 380h6v6h-6zM164 386h6v6h-6zM170 398h6v6h-6zM176 410h6v6h-6zM176 416h6v6h-6zM176 422h6v6h-6zM176 428h6v6h-6zM170 434h6v6h-6zM170 440h6v6h-6zM170 446h6v6h-6zM170 452h6v6h-6zM170 458h6v6h-6zM164 464h12v6h-12zM164 470h12v6h-12zM164 476h12v6h-12z"/><path fill="#8b8b8b" d="M176 194h6v6h-6zM194 194h6v6h-6zM194 200h6v6h-6zM176 206h6v6h-6zM242 206h6v6h-6zM254 206h6v6h-6zM176 212h6v6h-6zM254 212h6v6h-6zM176 218h6v6h-6zM200 218h6v6h-6zM242 218h6v6h-6zM254 218h6v6h-6zM176 224h6v6h-6zM206 224h6v6h-6zM242 224h12v6h-12zM176 230h6v6h-6zM212 230h6v6h-6zM176 236h6v6h-6zM212 236h12v6h-12zM170 242h6v6h-6zM218 242h6v6h-6zM170 248h6v6h-6zM224 248h6v6h-6zM170 254h6v6h-6zM224 254h6v6h-6zM224 260h6v6h-6zM176 266h6v6h-6zM230 266h6v6h-6zM176 272h6v6h-6zM230 272h6v6h-6zM176 278h6v6h-6zM236 278h6v6h-6zM176 284h6v6h-6zM242 284h6v6h-6zM176 290h6v6h-6zM254 290h54v6h-54zM176 296h6v6h-6zM170 320h6v6h-6zM170 326h6v6h-6zM170 332h6v6h-6zM164 344h6v6h-6zM164 350h6v6h-6zM164 356h6v6h-6zM164 362h6v6h-6zM164 368h6v6h-6zM164 374h6v6h-6zM164 380h6v6h-6zM170 392h6v6h-6zM176 404h6v6h-6zM176 434h6v6h-6zM176 440h6v6h-6zM176 446h6v6h-6zM176 452h6v6h-6zM176 458h6v6h-6zM176 464h6v6h-6zM176 470h6v6h-6zM176 476h6v6h-6z"/><path fill="#8d8d8d" d="M182 194h12v6h-12zM176 200h6v6h-6zM194 206h6v6h-6zM248 206h6v6h-6zM182 212h18v6h-18zM242 212h12v6h-12zM182 218h18v6h-18zM248 218h6v6h-6zM182 224h24v6h-24zM182 230h6v6h-6zM200 230h12v6h-12zM206 236h6v6h-6zM176 242h6v6h-6zM212 242h6v6h-6zM176 248h6v6h-6zM218 248h6v6h-6zM176 254h6v6h-6zM218 254h6v6h-6zM176 260h6v6h-6zM218 260h6v6h-6zM224 266h6v6h-6zM182 272h6v6h-6zM224 272h6v6h-6zM182 278h6v6h-6zM230 278h6v6h-6zM182 284h6v6h-6zM236 284h6v6h-6zM248 290h6v6h-6zM266 296h42v6h-42zM176 302h6v6h-6zM176 308h6v6h-6zM176 314h6v6h-6zM176 320h6v6h-6zM176 326h6v6h-6zM170 338h6v6h-6zM170 344h6v6h-6zM170 350h6v6h-6zM170 380h6v6h-6zM170 386h6v6h-6zM176 392h6v6h-6zM176 398h6v6h-6zM182 410h6v6h-6zM182 416h6v6h-6zM182 422h6v6h-6zM182 428h6v6h-6zM182 434h6v6h-6zM182 440h6v6h-6zM182 446h6v6h-6zM182 452h6v6h-6zM182 458h6v6h-6zM182 464h6v6h-6zM182 470h6v6h-6zM182 476h6v6h-6z"/><path fill="#8f8f8f" d="M182 200h12v6h-12zM182 206h12v6h-12zM188 230h12v6h-12zM182 236h24v6h-24zM182 242h6v6h-6zM206 242h6v6h-6zM182 248h6v6h-6zM212 248h6v6h-6zM182 254h6v6h-6zM212 254h6v6h-6zM182 260h6v6h-6zM212 260h6v6h-6zM182 266h6v6h-6zM218 266h6v6h-6zM218 272h6v6h-6zM224 278h6v6h-6zM230 284h6v6h-6zM182 290h6v6h-6zM236 290h12v6h-12zM182 296h6v6h-6zM254 296h12v6h-12zM182 302h6v6h-6zM278 302h30v6h-30zM176 332h6v6h-6zM176 338h6v6h-6zM176 344h6v6h-6zM170 356h6v6h-6zM170 362h6v6h-6zM170 368h6v6h-6zM170 374h6v6h-6zM176 386h6v6h-6zM182 398h6v6h-6zM182 404h6v6h-6zM188 410h6v6h-6zM188 416h6v6h-6zM188 422h6v6h-6zM188 428h6v6h-6zM188 434h6v6h-6zM188 440h6v6h-6zM188 446h6v6h-6zM188 452h6v6h-6zM188 458h6v6h-6zM188 464h6v6h-6zM188 470h6v6h-6zM188 476h12v6h-12z"/><path fill="#919191" d="M188 242h18v6h-18zM188 248h24v6h-24zM188 254h24v6h-24zM188 260h24v6h-24zM188 266h30v6h-30zM188 272h30v6h-30zM188 278h12v6h-12zM212 278h12v6h-12zM188 284h6v6h-6zM218 284h12v6h-12zM188 290h6v6h-6zM224 290h12v6h-12zM188 296h6v6h-6zM242 296h12v6h-12zM260 302h18v6h-18zM182 308h6v6h-6zM284 308h24v6h-24zM182 314h6v6h-6zM182 320h6v6h-6zM182 326h6v6h-6zM182 332h6v6h-6zM182 338h6v6h-6zM182 344h6v6h-6zM176 350h6v6h-6zM176 356h6v6h-6zM176 362h6v6h-6zM176 368h6v6h-6zM176 374h6v6h-6zM176 380h6v6h-6zM182 392h6v6h-6zM188 404h6v6h-6zM194 416h6v6h-6zM194 422h6v6h-6zM194 428h6v6h-6zM194 434h6v6h-6zM194 452h6v6h-6zM194 458h6v6h-6zM194 464h6v6h-6zM194 470h12v6h-12zM200 476h6v6h-6z"/><path fill="#939393" d="M200 278h12v6h-12zM194 284h24v6h-24zM194 290h30v6h-30zM194 296h6v6h-6zM218 296h24v6h-24zM188 302h6v6h-6zM248 302h12v6h-12zM188 308h6v6h-6zM266 308h18v6h-18zM188 314h6v6h-6zM284 314h24v6h-24zM188 320h12v6h-12zM302 320h6v6h-6zM188 326h12v6h-12zM188 332h6v6h-6zM188 338h6v6h-6zM188 344h6v6h-6zM182 350h6v6h-6zM182 356h6v6h-6zM182 362h6v6h-6zM182 368h6v6h-6zM182 374h6v6h-6zM182 380h6v6h-6zM182 386h6v6h-6zM188 392h6v6h-6zM188 398h6v6h-6zM194 404h6v6h-6zM194 410h6v6h-6zM200 428h6v6h-6zM200 434h6v6h-6zM194 440h6v6h-6zM194 446h12v6h-12zM200 452h6v6h-6zM200 458h6v6h-6zM200 464h12v6h-12zM206 470h12v6h-12zM302 470h6v6h-6zM206 476h18v6h-18zM290 476h18v6h-18z"/><path fill="#959595" d="M200 296h18v6h-18zM194 302h54v6h-54zM194 308h36v6h-36zM260 308h6v6h-6zM194 314h30v6h-30zM272 314h12v6h-12zM200 320h18v6h-18zM284 320h18v6h-18zM200 326h18v6h-18zM296 326h12v6h-12zM194 332h12v6h-12zM194 338h12v6h-12zM194 344h6v6h-6zM188 350h6v6h-6zM188 356h6v6h-6zM188 362h6v6h-6zM188 380h6v6h-6zM188 386h6v6h-6zM194 398h6v6h-6zM200 410h6v6h-6zM200 416h6v6h-6zM200 422h6v6h-6zM206 428h6v6h-6zM206 434h6v6h-6zM200 440h12v6h-12zM206 446h6v6h-6zM206 452h12v6h-12zM296 452h12v6h-12zM206 458h12v6h-12zM284 458h24v6h-24zM212 464h12v6h-12zM278 464h30v6h-30zM218 470h24v6h-24zM260 470h42v6h-42zM224 476h66v6h-66z"/><path fill="#979797" d="M230 308h30v6h-30zM224 314h12v6h-12zM260 314h12v6h-12zM218 320h12v6h-12zM272 320h12v6h-12zM218 326h6v6h-6zM278 326h18v6h-18zM206 332h18v6h-18zM290 332h18v6h-18zM206 338h12v6h-12zM296 338h12v6h-12zM200 344h12v6h-12zM302 344h6v6h-6zM194 350h12v6h-12zM194 356h6v6h-6zM194 362h6v6h-6zM188 368h6v6h-6zM188 374h6v6h-6zM194 386h6v6h-6zM194 392h6v6h-6zM200 398h6v6h-6zM200 404h6v6h-6zM206 410h6v6h-6zM206 416h6v6h-6zM206 422h12v6h-12zM212 428h6v6h-6zM302 428h6v6h-6zM212 434h6v6h-6zM296 434h12v6h-12zM212 440h12v6h-12zM284 440h24v6h-24zM212 446h12v6h-12zM278 446h30v6h-30zM218 452h18v6h-18zM266 452h30v6h-30zM218 458h66v6h-66zM224 464h54v6h-54zM242 470h18v6h-18z"/><path fill="#999999" d="M236 314h24v6h-24zM230 320h6v6h-6zM260 320h12v6h-12zM224 326h12v6h-12zM266 326h12v6h-12zM224 332h6v6h-6zM272 332h18v6h-18zM218 338h12v6h-12zM278 338h18v6h-18zM212 344h12v6h-12zM284 344h18v6h-18zM206 350h12v6h-12zM290 350h18v6h-18zM200 356h12v6h-12zM296 356h12v6h-12zM200 362h6v6h-6zM296 362h12v6h-12zM194 368h12v6h-12zM302 368h6v6h-6zM194 374h6v6h-6zM302 374h6v6h-6zM194 380h6v6h-6zM302 380h6v6h-6zM200 386h6v6h-6zM302 386h6v6h-6zM200 392h6v6h-6zM302 392h6v6h-6zM206 398h6v6h-6zM302 398h6v6h-6zM206 404h6v6h-6zM296 404h12v6h-12zM212 410h6v6h-6zM296 410h12v6h-12zM212 416h12v6h-12zM290 416h18v6h-18zM218 422h6v6h-6zM284 422h24v6h-24zM218 428h12v6h-12zM272 428h30v6h-30zM218 434h18v6h-18zM266 434h30v6h-30zM224 440h60v6h-60zM224 446h54v6h-54zM236 452h30v6h-30z"/><path fill="#9b9b9b" d="M236 320h24v6h-24zM236 326h30v6h-30zM230 332h18v6h-18zM254 332h18v6h-18zM230 338h18v6h-18zM260 338h18v6h-18zM224 344h24v6h-24zM266 344h18v6h-18zM218 350h30v6h-30zM266 350h24v6h-24zM212 356h42v6h-42zM266 356h30v6h-30zM206 362h42v6h-42zM272 362h24v6h-24zM206 368h6v6h-6zM230 368h12v6h-12zM272 368h30v6h-30zM200 374h12v6h-12zM278 374h24v6h-24zM200 380h12v6h-12zM278 380h24v6h-24zM206 386h6v6h-6zM278 386h24v6h-24zM206 392h6v6h-6zM278 392h24v6h-24zM212 398h6v6h-6zM272 398h30v6h-30zM212 404h12v6h-12zM272 404h24v6h-24zM218 410h12v6h-12zM266 410h30v6h-30zM224 416h18v6h-18zM254 416h36v6h-36zM224 422h60v6h-60zM230 428h42v6h-42zM236 434h30v6h-30z"/><path fill="#9d9d9d" d="M248 332h6v6h-6zM248 338h12v6h-12zM248 344h18v6h-18zM248 350h18v6h-18zM254 356h12v6h-12zM248 362h24v6h-24zM212 368h18v6h-18zM242 368h30v6h-30zM212 374h66v6h-66zM212 380h66v6h-66zM212 386h66v6h-66zM212 392h66v6h-66zM218 398h54v6h-54zM224 404h48v6h-48zM230 410h36v6h-36zM242 416h12v6h-12z"/></g><g id="fC"><path fill="#646464" d="M198 464h18v6h-18zM192 470h36v6h-36zM186 476h48v6h-48z"/><path fill="#666666" d="M198 446h18v6h-18zM186 452h42v6h-42zM180 458h54v6h-54zM174 464h24v6h-24zM216 464h24v6h-24zM174 470h18v6h-18zM228 470h18v6h-18zM168 476h18v6h-18zM234 476h18v6h-18z"/><path fill="#686868" d="M186 440h36v6h-36zM174 446h24v6h-24zM216 446h18v6h-18zM168 452h18v6h-18zM228 452h12v6h-12zM162 458h18v6h-18zM234 458h12v6h-12zM156 464h18v6h-18zM240 464h12v6h-12zM156 470h18v6h-18zM246 470h12v6h-12zM150 476h18v6h-18zM252 476h12v6h-12z"/><path fill="#6a6a6a" d="M174 434h48v6h-48zM162 440h24v6h-24zM222 440h12v6h-12zM156 446h18v6h-18zM234 446h12v6h-12zM150 452h18v6h-18zM240 452h12v6h-12zM150 458h12v6h-12zM246 458h18v6h-18zM144 464h12v6h-12zM252 464h18v6h-18zM144 470h12v6h-12zM258 470h18v6h-18zM138 476h12v6h-12zM264 476h18v6h-18z"/><path fill="#6c6c6c" d="M162 428h54v6h-54zM150 434h24v6h-24zM222 434h12v6h-12zM150 440h12v6h-12zM234 440h12v6h-12zM144 446h12v6h-12zM246 446h12v6h-12zM138 452h12v6h-12zM252 452h18v6h-18zM138 458h12v6h-12zM264 458h12v6h-12zM132 464h12v6h-12zM270 464h18v6h-18zM132 470h12v6h-12zM276 470h18v6h-18zM126 476h12v6h-12zM282 476h18v6h-18z"/><path fill="#6e6e6e" d="M156 344h12v6h-12zM156 350h12v6h-12zM156 356h12v6h-12zM156 416h12v6h-12zM150 422h30v6h-30zM198 422h12v6h-12zM144 428h18v6h-18zM216 428h12v6h-12zM138 434h12v6h-12zM234 434h12v6h-12zM138 440h12v6h-12zM246 440h18v6h-18zM132 446h12v6h-12zM258 446h18v6h-18zM126 452h12v6h-12zM270 452h18v6h-18zM126 458h12v6h-12zM276 458h18v6h-18zM120 464h12v6h-12zM288 464h18v6h-18zM120 470h12v6h-12zM294 470h18v6h-18zM114 476h12v6h-12zM300 476h12v6h-12z"/><path fill="#707070" d="M150 104h12v6h-12zM144 110h30v6h-30zM144 116h30v6h-30zM144 122h24v6h-24zM150 338h18v6h-18zM150 344h6v6h-6zM168 344h6v6h-6zM150 350h6v6h-6zM168 350h6v6h-6zM150 356h6v6h-6zM168 356h6v6h-6zM156 362h12v6h-12zM156 398h6v6h-6zM150 404h18v6h-18zM150 410h18v6h-18zM144 416h12v6h-12zM168 416h6v6h-6zM138 422h12v6h-12zM180 422h18v6h-18zM210 422h12v6h-12zM138 428h6v6h-6zM228 428h18v6h-18zM132 434h6v6h-6zM246 434h24v6h-24zM126 440h12v6h-12zM264 440h24v6h-24zM120 446h12v6h-12zM276 446h24v6h-24zM120 452h6v6h-6zM288 452h24v6h-24zM114 458h12v6h-12zM294 458h18v6h-18zM108 464h12v6h-12zM306 464h6v6h-6zM108 470h12v6h-12zM108 476h6v6h-6z"/><path fill="#727272" d="M132 98h54v6h-54zM126 104h24v6h-24zM162 104h30v6h-30zM126 110h18v6h-18zM174 110h24v6h-24zM126 116h18v6h-18zM174 116h24v6h-24zM132 122h12v6h-12zM168 122h24v6h-24zM138 128h48v6h-48zM144 134h24v6h-24zM144 332h18v6h-18zM144 338h6v6h-6zM168 338h6v6h-6zM144 344h6v6h-6zM144 350h6v6h-6zM150 362h6v6h-6zM156 368h6v6h-6zM150 392h12v6h-12zM150 398h6v6h-6zM162 398h6v6h-6zM144 404h6v6h-6zM138 410h12v6h-12zM168 410h6v6h-6zM138 416h6v6h-6zM174 416h12v6h-12zM132 422h6v6h-6zM222 422h18v6h-18zM126 428h12v6h-12zM246 428h36v6h-36zM120 434h12v6h-12zM270 434h42v6h-42zM114 440h12v6h-12zM288 440h24v6h-24zM114 446h6v6h-6zM300 446h12v6h-12zM108 452h12v6h-12zM102 458h12v6h-12zM102 464h6v6h-6zM96 470h12v6h-12zM96 476h12v6h-12z"/><path fill="#747474" d="M162 86h30v6h-30zM132 92h72v6h-72zM120 98h12v6h-12zM186 98h24v6h-24zM120 104h6v6h-6zM192 104h24v6h-24zM114 110h12v6h-12zM198 110h18v6h-18zM108 116h18v6h-18zM198 116h18v6h-18zM108 122h24v6h-24zM192 122h24v6h-24zM108 128h30v6h-30zM186 128h30v6h-30zM132 134h12v6h-12zM168 134h42v6h-42zM144 140h18v6h-18zM72 278h18v6h-18zM78 284h24v6h-24zM78 290h24v6h-24zM84 296h18v6h-18zM90 302h6v6h-6zM144 326h12v6h-12zM138 332h6v6h-6zM162 332h12v6h-12zM138 338h6v6h-6zM174 344h6v6h-6zM174 350h6v6h-6zM144 356h6v6h-6zM144 362h6v6h-6zM168 362h6v6h-6zM150 368h6v6h-6zM162 368h6v6h-6zM150 374h12v6h-12zM150 380h6v6h-6zM150 386h12v6h-12zM144 392h6v6h-6zM162 392h6v6h-6zM144 398h6v6h-6zM138 404h6v6h-6zM168 404h6v6h-6zM132 410h6v6h-6zM174 410h6v6h-6zM132 416h6v6h-6zM186 416h30v6h-30zM306 416h6v6h-6zM126 422h6v6h-6zM240 422h72v6h-72zM120 428h6v6h-6zM282 428h30v6h-30zM108 434h12v6h-12zM108 440h6v6h-6zM102 446h12v6h-12zM96 452h12v6h-12zM90 458h12v6h-12zM90 464h12v6h-12zM90 470h6v6h-6zM84 476h12v6h-12z"/><path fill="#767676" d="M186 74h18v6h-18zM162 80h60v6h-60zM132 86h30v6h-30zM192 86h36v6h-36zM120 92h12v6h-12zM204 92h30v6h-30zM114 98h6v6h-6zM210 98h30v6h-30zM108 104h12v6h-12zM216 104h24v6h-24zM102 110h12v6h-12zM216 110h24v6h-24zM96 116h12v6h-12zM216 116h24v6h-24zM96 122h12v6h-12zM216 122h18v6h-18zM96 128h12v6h-12zM216 128h18v6h-18zM96 134h36v6h-36zM210 134h18v6h-18zM132 140h12v6h-12zM162 140h54v6h-54zM60 278h12v6h-12zM90 278h6v6h-6zM66 284h12v6h-12zM102 284h6v6h-6zM72 290h6v6h-6zM102 290h6v6h-6zM78 296h6v6h-6zM84 302h6v6h-6zM96 302h6v6h-6zM90 308h12v6h-12zM138 326h6v6h-6zM156 326h12v6h-12zM174 338h6v6h-6zM138 344h6v6h-6zM138 350h6v6h-6zM174 356h6v6h-6zM144 368h6v6h-6zM144 374h6v6h-6zM144 380h6v6h-6zM156 380h6v6h-6zM144 386h6v6h-6zM162 386h6v6h-6zM138 398h6v6h-6zM168 398h6v6h-6zM306 398h6v6h-6zM132 404h6v6h-6zM294 404h18v6h-18zM126 410h6v6h-6zM276 410h36v6h-36zM120 416h12v6h-12zM216 416h90v6h-90zM114 422h12v6h-12zM108 428h12v6h-12zM102 434h6v6h-6zM96 440h12v6h-12zM90 446h12v6h-12zM84 452h12v6h-12zM84 458h6v6h-6zM78 464h12v6h-12zM78 470h12v6h-12zM78 476h6v6h-6z"/><path fill="#787878" d="M198 62h24v6h-24zM174 68h60v6h-60zM162 74h24v6h-24zM204 74h42v6h-42zM144 80h18v6h-18zM222 80h30v6h-30zM126 86h6v6h-6zM228 86h24v6h-24zM114 92h6v6h-6zM234 92h24v6h-24zM108 98h6v6h-6zM240 98h24v6h-24zM102 104h6v6h-6zM240 104h30v6h-30zM96 110h6v6h-6zM240 110h36v6h-36zM90 116h6v6h-6zM240 116h42v6h-42zM90 122h6v6h-6zM234 122h48v6h-48zM84 128h12v6h-12zM234 128h18v6h-18zM270 128h18v6h-18zM90 134h6v6h-6zM228 134h18v6h-18zM282 134h18v6h-18zM90 140h42v6h-42zM216 140h24v6h-24zM282 140h30v6h-30zM138 146h90v6h-90zM276 146h36v6h-36zM270 152h42v6h-42zM270 158h42v6h-42zM264 164h48v6h-48zM270 170h42v6h-42zM294 176h6v6h-6zM96 236h12v6h-12zM54 278h6v6h-6zM96 278h6v6h-6zM60 284h6v6h-6zM108 284h6v6h-6zM66 290h6v6h-6zM108 290h6v6h-6zM102 296h6v6h-6zM102 302h6v6h-6zM138 320h24v6h-24zM132 326h6v6h-6zM168 326h6v6h-6zM132 332h6v6h-6zM174 332h6v6h-6zM132 338h6v6h-6zM138 356h6v6h-6zM138 362h6v6h-6zM168 368h6v6h-6zM162 374h6v6h-6zM162 380h6v6h-6zM300 380h12v6h-12zM138 386h6v6h-6zM294 386h18v6h-18zM138 392h6v6h-6zM288 392h24v6h-24zM132 398h6v6h-6zM276 398h30v6h-30zM126 404h6v6h-6zM174 404h6v6h-6zM270 404h24v6h-24zM120 410h6v6h-6zM180 410h6v6h-6zM246 410h30v6h-30zM114 416h6v6h-6zM102 422h12v6h-12zM96 428h12v6h-12zM84 434h18v6h-18zM78 440h18v6h-18zM78 446h12v6h-12zM72 452h12v6h-12zM72 458h12v6h-12zM72 464h6v6h-6zM72 470h6v6h-6zM66 476h12v6h-12z"/><path fill="#7a7a7a" d="M270 26h42v6h-42zM264 32h48v6h-48zM252 38h60v6h-60zM222 44h90v6h-90zM198 50h114v6h-114zM180 56h132v6h-132zM174 62h24v6h-24zM222 62h90v6h-90zM162 68h12v6h-12zM234 68h78v6h-78zM150 74h12v6h-12zM246 74h66v6h-66zM132 80h12v6h-12zM252 80h60v6h-60zM114 86h12v6h-12zM252 86h60v6h-60zM108 92h6v6h-6zM258 92h54v6h-54zM96 98h12v6h-12zM264 98h48v6h-48zM90 104h12v6h-12zM270 104h42v6h-42zM84 110h12v6h-12zM276 110h36v6h-36zM84 116h6v6h-6zM282 116h30v6h-30zM84 122h6v6h-6zM282 122h30v6h-30zM78 128h6v6h-6zM252 128h18v6h-18zM288 128h24v6h-24zM84 134h6v6h-6zM246 134h36v6h-36zM300 134h12v6h-12zM84 140h6v6h-6zM240 140h42v6h-42zM90 146h48v6h-48zM228 146h48v6h-48zM144 152h24v6h-24zM174 152h96v6h-96zM240 158h30v6h-30zM246 164h18v6h-18zM252 170h18v6h-18zM264 176h30v6h-30zM300 176h12v6h-12zM288 182h24v6h-24zM96 224h12v6h-12zM66 230h54v6h-54zM90 236h6v6h-6zM108 236h18v6h-18zM36 278h18v6h-18zM48 284h12v6h-12zM114 284h6v6h-6zM60 290h6v6h-6zM72 296h6v6h-6zM108 296h6v6h-6zM78 302h6v6h-6zM84 308h6v6h-6zM102 308h6v6h-6zM90 314h12v6h-12zM132 320h6v6h-6zM162 320h12v6h-12zM174 326h6v6h-6zM180 338h6v6h-6zM132 344h6v6h-6zM180 344h6v6h-6zM132 350h6v6h-6zM180 350h6v6h-6zM306 356h6v6h-6zM174 362h6v6h-6zM300 362h12v6h-12zM138 368h6v6h-6zM288 368h24v6h-24zM138 374h6v6h-6zM282 374h30v6h-30zM138 380h6v6h-6zM276 380h24v6h-24zM276 386h18v6h-18zM132 392h6v6h-6zM168 392h6v6h-6zM270 392h18v6h-18zM264 398h12v6h-12zM120 404h6v6h-6zM252 404h18v6h-18zM114 410h6v6h-6zM186 410h60v6h-60zM102 416h12v6h-12zM84 422h18v6h-18zM78 428h18v6h-18zM72 434h12v6h-12zM66 440h12v6h-12zM66 446h12v6h-12zM66 452h6v6h-6zM60 458h12v6h-12zM60 464h12v6h-12zM60 470h12v6h-12zM60 476h6v6h-6z"/><path fill="#7c7c7c" d="M222 26h48v6h-48zM210 32h54v6h-54zM198 38h54v6h-54zM186 44h36v6h-36zM174 50h24v6h-24zM168 56h12v6h-12zM162 62h12v6h-12zM150 68h12v6h-12zM144 74h6v6h-6zM120 80h12v6h-12zM108 86h6v6h-6zM96 92h12v6h-12zM90 98h6v6h-6zM84 104h6v6h-6zM78 110h6v6h-6zM78 116h6v6h-6zM72 122h12v6h-12zM72 128h6v6h-6zM78 134h6v6h-6zM78 140h6v6h-6zM84 146h6v6h-6zM126 152h18v6h-18zM168 152h6v6h-6zM186 158h54v6h-54zM222 164h24v6h-24zM240 170h12v6h-12zM252 176h12v6h-12zM270 182h18v6h-18zM270 212h42v6h-42zM90 218h30v6h-30zM264 218h48v6h-48zM54 224h42v6h-42zM108 224h30v6h-30zM264 224h48v6h-48zM36 230h30v6h-30zM120 230h18v6h-18zM270 230h42v6h-42zM126 236h12v6h-12zM288 236h24v6h-24zM132 242h6v6h-6zM18 278h18v6h-18zM102 278h6v6h-6zM24 284h24v6h-24zM120 284h6v6h-6zM42 290h18v6h-18zM114 290h6v6h-6zM66 296h6v6h-6zM114 296h6v6h-6zM108 302h6v6h-6zM132 314h36v6h-36zM126 320h6v6h-6zM174 320h6v6h-6zM126 326h6v6h-6zM126 332h6v6h-6zM180 332h6v6h-6zM300 344h12v6h-12zM294 350h18v6h-18zM132 356h6v6h-6zM180 356h6v6h-6zM288 356h18v6h-18zM276 362h24v6h-24zM270 368h18v6h-18zM168 374h6v6h-6zM264 374h18v6h-18zM264 380h12v6h-12zM132 386h6v6h-6zM168 386h6v6h-6zM264 386h12v6h-12zM258 392h12v6h-12zM126 398h6v6h-6zM174 398h6v6h-6zM252 398h12v6h-12zM114 404h6v6h-6zM180 404h6v6h-6zM234 404h18v6h-18zM102 410h12v6h-12zM78 416h24v6h-24zM66 422h18v6h-18zM60 428h18v6h-18zM60 434h12v6h-12zM54 440h12v6h-12zM54 446h12v6h-12zM54 452h12v6h-12zM54 458h6v6h-6zM54 464h6v6h-6zM48 470h12v6h-12zM48 476h12v6h-12z"/><path fill="#7e7e7e" d="M192 26h30v6h-30zM186 32h24v6h-24zM180 38h18v6h-18zM174 44h12v6h-12zM162 50h12v6h-12zM156 56h12v6h-12zM150 62h12v6h-12zM144 68h6v6h-6zM132 74h12v6h-12zM108 80h12v6h-12zM96 86h12v6h-12zM84 92h12v6h-12zM78 98h12v6h-12zM72 104h12v6h-12zM66 110h12v6h-12zM66 116h12v6h-12zM66 122h6v6h-6zM66 128h6v6h-6zM72 134h6v6h-6zM72 140h6v6h-6zM78 146h6v6h-6zM84 152h42v6h-42zM138 158h48v6h-48zM192 164h30v6h-30zM228 170h12v6h-12zM240 176h12v6h-12zM258 182h12v6h-12zM276 188h36v6h-36zM276 206h36v6h-36zM258 212h12v6h-12zM36 218h54v6h-54zM120 218h24v6h-24zM258 218h6v6h-6zM12 224h42v6h-42zM138 224h12v6h-12zM258 224h6v6h-6zM6 230h30v6h-30zM138 230h12v6h-12zM258 230h12v6h-12zM84 236h6v6h-6zM138 236h12v6h-12zM270 236h18v6h-18zM138 242h6v6h-6zM282 242h30v6h-30zM294 248h18v6h-18zM306 254h6v6h-6zM0 278h18v6h-18zM6 284h18v6h-18zM126 284h6v6h-6zM12 290h30v6h-30zM120 290h12v6h-12zM30 296h36v6h-36zM120 296h6v6h-6zM72 302h6v6h-6zM114 302h6v6h-6zM108 308h6v6h-6zM126 308h30v6h-30zM102 314h6v6h-6zM126 314h6v6h-6zM168 314h6v6h-6zM306 320h6v6h-6zM180 326h6v6h-6zM306 326h6v6h-6zM300 332h12v6h-12zM126 338h6v6h-6zM186 338h6v6h-6zM294 338h18v6h-18zM126 344h6v6h-6zM186 344h6v6h-6zM288 344h12v6h-12zM276 350h18v6h-18zM264 356h24v6h-24zM132 362h6v6h-6zM258 362h18v6h-18zM132 368h6v6h-6zM252 368h18v6h-18zM132 374h6v6h-6zM252 374h12v6h-12zM132 380h6v6h-6zM168 380h6v6h-6zM252 380h12v6h-12zM252 386h12v6h-12zM126 392h6v6h-6zM252 392h6v6h-6zM120 398h6v6h-6zM240 398h12v6h-12zM102 404h12v6h-12zM222 404h12v6h-12zM60 410h42v6h-42zM54 416h24v6h-24zM54 422h12v6h-12zM48 428h12v6h-12zM48 434h12v6h-12zM48 440h6v6h-6zM42 446h12v6h-12zM42 452h12v6h-12zM42 458h12v6h-12zM42 464h12v6h-12zM42 470h6v6h-6zM42 476h6v6h-6z"/><path fill="#818181" d="M180 26h12v6h-12zM174 32h12v6h-12zM168 38h12v6h-12zM162 44h12v6h-12zM156 50h6v6h-6zM150 56h6v6h-6zM144 62h6v6h-6zM138 68h6v6h-6zM108 74h24v6h-24zM90 80h18v6h-18zM78 86h18v6h-18zM72 92h12v6h-12zM66 98h12v6h-12zM60 104h12v6h-12zM60 110h6v6h-6zM60 116h6v6h-6zM60 122h6v6h-6zM60 128h6v6h-6zM60 134h12v6h-12zM66 140h6v6h-6zM72 146h6v6h-6zM78 152h6v6h-6zM90 158h18v6h-18zM120 158h18v6h-18zM174 164h18v6h-18zM204 170h24v6h-24zM234 176h6v6h-6zM252 182h6v6h-6zM264 188h12v6h-12zM276 194h36v6h-36zM276 200h36v6h-36zM264 206h12v6h-12zM18 212h126v6h-126zM252 212h6v6h-6zM0 218h36v6h-36zM144 218h12v6h-12zM252 218h6v6h-6zM0 224h12v6h-12zM150 224h6v6h-6zM252 224h6v6h-6zM0 230h6v6h-6zM150 230h6v6h-6zM78 236h6v6h-6zM150 236h6v6h-6zM264 236h6v6h-6zM126 242h6v6h-6zM144 242h12v6h-12zM270 242h12v6h-12zM276 248h18v6h-18zM288 254h18v6h-18zM294 260h18v6h-18zM300 266h12v6h-12zM108 278h6v6h-6zM0 284h6v6h-6zM0 290h12v6h-12zM132 290h12v6h-12zM0 296h30v6h-30zM126 296h18v6h-18zM18 302h24v6h-24zM60 302h12v6h-12zM120 302h30v6h-30zM78 308h6v6h-6zM114 308h12v6h-12zM156 308h18v6h-18zM84 314h6v6h-6zM108 314h18v6h-18zM174 314h6v6h-6zM300 314h12v6h-12zM120 320h6v6h-6zM180 320h6v6h-6zM294 320h12v6h-12zM120 326h6v6h-6zM186 326h6v6h-6zM294 326h12v6h-12zM186 332h6v6h-6zM288 332h12v6h-12zM282 338h12v6h-12zM270 344h18v6h-18zM126 350h6v6h-6zM186 350h6v6h-6zM264 350h12v6h-12zM252 356h12v6h-12zM246 362h12v6h-12zM174 368h6v6h-6zM246 368h6v6h-6zM246 374h6v6h-6zM246 380h6v6h-6zM126 386h6v6h-6zM246 386h6v6h-6zM120 392h6v6h-6zM174 392h6v6h-6zM240 392h12v6h-12zM60 398h24v6h-24zM108 398h12v6h-12zM234 398h6v6h-6zM54 404h48v6h-48zM186 404h6v6h-6zM210 404h12v6h-12zM48 410h12v6h-12zM42 416h12v6h-12zM42 422h12v6h-12zM36 428h12v6h-12zM36 434h12v6h-12zM36 440h12v6h-12zM36 446h6v6h-6zM36 452h6v6h-6zM36 458h6v6h-6zM30 464h12v6h-12zM30 470h12v6h-12zM30 476h12v6h-12z"/><path fill="#838383" d="M162 26h18v6h-18zM162 32h12v6h-12zM156 38h12v6h-12zM150 44h12v6h-12zM150 50h6v6h-6zM144 56h6v6h-6zM138 62h6v6h-6zM102 68h36v6h-36zM84 74h24v6h-24zM66 80h24v6h-24zM54 86h24v6h-24zM48 92h24v6h-24zM48 98h18v6h-18zM42 104h18v6h-18zM42 110h18v6h-18zM42 116h18v6h-18zM42 122h18v6h-18zM48 128h12v6h-12zM48 134h12v6h-12zM54 140h12v6h-12zM60 146h12v6h-12zM66 152h12v6h-12zM78 158h12v6h-12zM108 158h12v6h-12zM132 164h42v6h-42zM186 170h18v6h-18zM222 176h12v6h-12zM240 182h12v6h-12zM258 188h6v6h-6zM264 194h12v6h-12zM264 200h12v6h-12zM258 206h6v6h-6zM0 212h18v6h-18zM144 212h12v6h-12zM246 212h6v6h-6zM156 218h6v6h-6zM246 218h6v6h-6zM156 224h12v6h-12zM246 224h6v6h-6zM156 230h6v6h-6zM252 230h6v6h-6zM156 236h6v6h-6zM258 236h6v6h-6zM156 242h6v6h-6zM264 242h6v6h-6zM270 248h6v6h-6zM276 254h12v6h-12zM282 260h12v6h-12zM294 266h6v6h-6zM132 284h6v6h-6zM144 290h6v6h-6zM144 296h12v6h-12zM0 302h18v6h-18zM42 302h18v6h-18zM150 302h18v6h-18zM0 308h42v6h-42zM174 308h6v6h-6zM180 314h6v6h-6zM288 314h12v6h-12zM96 320h6v6h-6zM114 320h6v6h-6zM186 320h6v6h-6zM288 320h6v6h-6zM282 326h12v6h-12zM120 332h6v6h-6zM276 332h12v6h-12zM120 338h6v6h-6zM270 338h12v6h-12zM264 344h6v6h-6zM252 350h12v6h-12zM126 356h6v6h-6zM246 356h6v6h-6zM126 362h6v6h-6zM180 362h6v6h-6zM240 362h6v6h-6zM126 368h6v6h-6zM240 368h6v6h-6zM126 374h6v6h-6zM240 374h6v6h-6zM126 380h6v6h-6zM240 380h6v6h-6zM120 386h6v6h-6zM240 386h6v6h-6zM54 392h30v6h-30zM114 392h6v6h-6zM234 392h6v6h-6zM42 398h18v6h-18zM84 398h24v6h-24zM180 398h6v6h-6zM228 398h6v6h-6zM36 404h18v6h-18zM192 404h18v6h-18zM36 410h12v6h-12zM30 416h12v6h-12zM30 422h12v6h-12zM24 428h12v6h-12zM24 434h12v6h-12zM24 440h12v6h-12zM24 446h12v6h-12zM24 452h12v6h-12zM24 458h12v6h-12zM24 464h6v6h-6zM24 470h6v6h-6zM24 476h6v6h-6z"/><path fill="#858585" d="M150 26h12v6h-12zM144 32h18v6h-18zM144 38h12v6h-12zM138 44h12v6h-12zM138 50h12v6h-12zM108 56h12v6h-12zM126 56h18v6h-18zM6 62h18v6h-18zM84 62h54v6h-54zM6 68h96v6h-96zM6 74h78v6h-78zM6 80h60v6h-60zM6 86h48v6h-48zM6 92h42v6h-42zM6 98h42v6h-42zM6 104h36v6h-36zM12 110h30v6h-30zM12 116h30v6h-30zM18 122h24v6h-24zM18 128h30v6h-30zM24 134h24v6h-24zM30 140h24v6h-24zM36 146h24v6h-24zM54 152h12v6h-12zM72 158h6v6h-6zM90 164h18v6h-18zM120 164h12v6h-12zM168 170h18v6h-18zM210 176h12v6h-12zM234 182h6v6h-6zM252 188h6v6h-6zM258 194h6v6h-6zM258 200h6v6h-6zM0 206h138v6h-138zM252 206h6v6h-6zM156 212h6v6h-6zM162 218h6v6h-6zM240 218h6v6h-6zM168 224h6v6h-6zM162 230h6v6h-6zM246 230h6v6h-6zM72 236h6v6h-6zM162 236h6v6h-6zM252 236h6v6h-6zM162 242h6v6h-6zM258 242h6v6h-6zM156 248h6v6h-6zM264 248h6v6h-6zM270 254h6v6h-6zM276 260h6v6h-6zM288 266h6v6h-6zM66 272h6v6h-6zM150 290h6v6h-6zM156 296h12v6h-12zM168 302h12v6h-12zM42 308h12v6h-12zM66 308h12v6h-12zM180 308h6v6h-6zM0 314h36v6h-36zM186 314h6v6h-6zM282 314h6v6h-6zM0 320h18v6h-18zM90 320h6v6h-6zM102 320h12v6h-12zM276 320h12v6h-12zM114 326h6v6h-6zM192 326h6v6h-6zM276 326h6v6h-6zM192 332h6v6h-6zM270 332h6v6h-6zM192 338h6v6h-6zM264 338h6v6h-6zM120 344h6v6h-6zM192 344h6v6h-6zM258 344h6v6h-6zM246 350h6v6h-6zM186 356h6v6h-6zM240 356h6v6h-6zM234 362h6v6h-6zM234 368h6v6h-6zM174 374h6v6h-6zM234 374h6v6h-6zM120 380h6v6h-6zM234 380h6v6h-6zM48 386h36v6h-36zM114 386h6v6h-6zM174 386h6v6h-6zM234 386h6v6h-6zM36 392h18v6h-18zM84 392h30v6h-30zM228 392h6v6h-6zM30 398h12v6h-12zM216 398h12v6h-12zM24 404h12v6h-12zM18 410h18v6h-18zM18 416h12v6h-12zM12 422h18v6h-18zM12 428h12v6h-12zM12 434h12v6h-12zM12 440h12v6h-12zM12 446h12v6h-12zM12 452h12v6h-12zM12 458h12v6h-12zM12 464h12v6h-12zM12 470h12v6h-12zM12 476h12v6h-12z"/><path fill="#878787" d="M0 26h42v6h-42zM132 26h18v6h-18zM0 32h54v6h-54zM126 32h18v6h-18zM0 38h66v6h-66zM108 38h36v6h-36zM0 44h138v6h-138zM0 50h138v6h-138zM0 56h108v6h-108zM120 56h6v6h-6zM0 62h6v6h-6zM24 62h60v6h-60zM0 68h6v6h-6zM0 74h6v6h-6zM0 80h6v6h-6zM0 86h6v6h-6zM0 92h6v6h-6zM0 98h6v6h-6zM0 104h6v6h-6zM0 110h12v6h-12zM0 116h12v6h-12zM0 122h18v6h-18zM0 128h18v6h-18zM0 134h24v6h-24zM0 140h30v6h-30zM0 146h36v6h-36zM0 152h54v6h-54zM0 158h6v6h-6zM18 158h54v6h-54zM78 164h12v6h-12zM108 164h12v6h-12zM132 170h36v6h-36zM192 176h18v6h-18zM228 182h6v6h-6zM246 188h6v6h-6zM252 194h6v6h-6zM252 200h6v6h-6zM138 206h18v6h-18zM246 206h6v6h-6zM162 212h12v6h-12zM240 212h6v6h-6zM168 218h12v6h-12zM174 224h6v6h-6zM240 224h6v6h-6zM168 230h6v6h-6zM60 236h12v6h-12zM168 236h6v6h-6zM246 236h6v6h-6zM120 242h6v6h-6zM168 242h6v6h-6zM252 242h6v6h-6zM162 248h6v6h-6zM258 248h6v6h-6zM264 254h6v6h-6zM264 260h12v6h-12zM282 266h6v6h-6zM48 272h18v6h-18zM72 272h12v6h-12zM114 278h6v6h-6zM168 296h6v6h-6zM180 302h6v6h-6zM54 308h12v6h-12zM186 308h6v6h-6zM276 308h36v6h-36zM36 314h12v6h-12zM276 314h6v6h-6zM18 320h18v6h-18zM192 320h6v6h-6zM270 320h6v6h-6zM0 326h24v6h-24zM264 326h12v6h-12zM0 332h12v6h-12zM114 332h6v6h-6zM264 332h6v6h-6zM258 338h6v6h-6zM252 344h6v6h-6zM120 350h6v6h-6zM192 350h6v6h-6zM240 350h6v6h-6zM120 356h6v6h-6zM234 356h6v6h-6zM120 362h6v6h-6zM120 368h6v6h-6zM180 368h6v6h-6zM120 374h6v6h-6zM42 380h36v6h-36zM174 380h6v6h-6zM24 386h24v6h-24zM84 386h6v6h-6zM108 386h6v6h-6zM228 386h6v6h-6zM12 392h24v6h-24zM222 392h6v6h-6zM6 398h24v6h-24zM186 398h6v6h-6zM210 398h6v6h-6zM6 404h18v6h-18zM0 410h18v6h-18zM0 416h18v6h-18zM0 422h12v6h-12zM0 428h12v6h-12zM0 434h12v6h-12zM0 440h12v6h-12zM0 446h12v6h-12zM0 452h12v6h-12zM0 458h12v6h-12zM0 464h12v6h-12zM0 470h12v6h-12zM0 476h12v6h-12z"/><path fill="#898989" d="M42 26h90v6h-90zM54 32h72v6h-72zM66 38h42v6h-42zM6 158h12v6h-12zM60 164h18v6h-18zM120 170h12v6h-12zM174 176h18v6h-18zM216 182h12v6h-12zM234 188h12v6h-12zM246 194h6v6h-6zM0 200h60v6h-60zM246 200h6v6h-6zM156 206h6v6h-6zM240 206h6v6h-6zM174 212h6v6h-6zM234 212h6v6h-6zM180 218h6v6h-6zM234 218h6v6h-6zM180 224h6v6h-6zM234 224h6v6h-6zM174 230h6v6h-6zM240 230h6v6h-6zM48 236h12v6h-12zM174 236h6v6h-6zM174 242h6v6h-6zM246 242h6v6h-6zM150 248h6v6h-6zM168 248h6v6h-6zM252 248h6v6h-6zM258 254h6v6h-6zM258 260h6v6h-6zM18 272h30v6h-30zM84 272h6v6h-6zM138 284h6v6h-6zM156 290h6v6h-6zM174 296h6v6h-6zM186 302h6v6h-6zM192 308h6v6h-6zM270 308h6v6h-6zM48 314h12v6h-12zM78 314h6v6h-6zM192 314h6v6h-6zM264 314h12v6h-12zM36 320h12v6h-12zM84 320h6v6h-6zM264 320h6v6h-6zM24 326h12v6h-12zM108 326h6v6h-6zM198 326h6v6h-6zM258 326h6v6h-6zM12 332h18v6h-18zM198 332h6v6h-6zM258 332h6v6h-6zM0 338h24v6h-24zM114 338h6v6h-6zM198 338h6v6h-6zM252 338h6v6h-6zM0 344h18v6h-18zM198 344h6v6h-6zM246 344h6v6h-6zM0 350h18v6h-18zM0 356h12v6h-12zM192 356h6v6h-6zM0 362h12v6h-12zM186 362h6v6h-6zM228 362h6v6h-6zM0 368h18v6h-18zM228 368h6v6h-6zM0 374h72v6h-72zM228 374h6v6h-6zM0 380h42v6h-42zM78 380h12v6h-12zM114 380h6v6h-6zM228 380h6v6h-6zM0 386h24v6h-24zM90 386h18v6h-18zM0 392h12v6h-12zM180 392h6v6h-6zM0 398h6v6h-6zM192 398h18v6h-18zM0 404h6v6h-6z"/><path fill="#8b8b8b" d="M0 164h60v6h-60zM84 170h36v6h-36zM150 176h24v6h-24zM204 182h12v6h-12zM228 188h6v6h-6zM240 194h6v6h-6zM60 200h66v6h-66zM240 200h6v6h-6zM162 206h12v6h-12zM234 206h6v6h-6zM180 212h6v6h-6zM228 212h6v6h-6zM186 218h6v6h-6zM228 218h6v6h-6zM186 224h6v6h-6zM180 230h6v6h-6zM234 230h6v6h-6zM36 236h12v6h-12zM180 236h6v6h-6zM240 236h6v6h-6zM114 242h6v6h-6zM180 242h6v6h-6zM174 248h6v6h-6zM246 248h6v6h-6zM252 254h6v6h-6zM276 266h6v6h-6zM0 272h18v6h-18zM90 272h6v6h-6zM192 302h6v6h-6zM264 308h6v6h-6zM60 314h18v6h-18zM198 314h6v6h-6zM258 314h6v6h-6zM48 320h6v6h-6zM198 320h6v6h-6zM258 320h6v6h-6zM36 326h12v6h-12zM96 326h12v6h-12zM252 326h6v6h-6zM30 332h12v6h-12zM108 332h6v6h-6zM252 332h6v6h-6zM24 338h12v6h-12zM246 338h6v6h-6zM18 344h12v6h-12zM114 344h6v6h-6zM240 344h6v6h-6zM18 350h12v6h-12zM114 350h6v6h-6zM198 350h6v6h-6zM234 350h6v6h-6zM12 356h18v6h-18zM114 356h6v6h-6zM228 356h6v6h-6zM12 362h24v6h-24zM18 368h36v6h-36zM114 368h6v6h-6zM72 374h12v6h-12zM114 374h6v6h-6zM90 380h24v6h-24zM222 386h6v6h-6zM216 392h6v6h-6z"/><path fill="#8d8d8d" d="M72 170h12v6h-12zM132 176h18v6h-18zM186 182h18v6h-18zM222 188h6v6h-6zM234 194h6v6h-6zM126 200h24v6h-24zM234 200h6v6h-6zM174 206h6v6h-6zM228 206h6v6h-6zM186 212h12v6h-12zM222 212h6v6h-6zM192 218h12v6h-12zM216 218h12v6h-12zM192 224h6v6h-6zM228 224h6v6h-6zM186 230h12v6h-12zM24 236h12v6h-12zM186 236h6v6h-6zM186 242h6v6h-6zM240 242h6v6h-6zM144 248h6v6h-6zM180 248h6v6h-6zM174 254h12v6h-12zM246 254h6v6h-6zM252 260h6v6h-6zM120 278h6v6h-6zM144 284h6v6h-6zM162 290h6v6h-6zM198 302h6v6h-6zM198 308h6v6h-6zM258 308h6v6h-6zM54 320h6v6h-6zM252 320h6v6h-6zM48 326h6v6h-6zM90 326h6v6h-6zM204 326h6v6h-6zM42 332h6v6h-6zM204 332h6v6h-6zM246 332h6v6h-6zM36 338h12v6h-12zM108 338h6v6h-6zM204 338h6v6h-6zM240 338h6v6h-6zM30 344h12v6h-12zM204 344h6v6h-6zM234 344h6v6h-6zM30 350h12v6h-12zM204 350h6v6h-6zM228 350h6v6h-6zM30 356h18v6h-18zM198 356h6v6h-6zM222 356h6v6h-6zM36 362h18v6h-18zM114 362h6v6h-6zM192 362h6v6h-6zM222 362h6v6h-6zM54 368h24v6h-24zM222 368h6v6h-6zM84 374h6v6h-6zM108 374h6v6h-6zM180 374h6v6h-6zM222 374h6v6h-6zM222 380h6v6h-6zM180 386h6v6h-6zM216 386h6v6h-6zM186 392h6v6h-6zM210 392h6v6h-6z"/><path fill="#8f8f8f" d="M18 170h54v6h-54zM120 176h12v6h-12zM174 182h12v6h-12zM216 188h6v6h-6zM0 194h42v6h-42zM228 194h6v6h-6zM150 200h18v6h-18zM228 200h6v6h-6zM180 206h12v6h-12zM216 206h12v6h-12zM198 212h24v6h-24zM204 218h12v6h-12zM198 224h30v6h-30zM198 230h6v6h-6zM228 230h6v6h-6zM12 236h12v6h-12zM192 236h6v6h-6zM234 236h6v6h-6zM108 242h6v6h-6zM192 242h6v6h-6zM234 242h6v6h-6zM186 248h6v6h-6zM240 248h6v6h-6zM186 254h6v6h-6zM240 254h6v6h-6zM246 260h6v6h-6zM270 266h6v6h-6zM96 272h6v6h-6zM180 296h6v6h-6zM204 308h6v6h-6zM252 308h6v6h-6zM204 314h6v6h-6zM252 314h6v6h-6zM60 320h6v6h-6zM204 320h6v6h-6zM246 320h6v6h-6zM54 326h6v6h-6zM246 326h6v6h-6zM48 332h6v6h-6zM102 332h6v6h-6zM240 332h6v6h-6zM48 338h6v6h-6zM210 338h6v6h-6zM234 338h6v6h-6zM42 344h12v6h-12zM108 344h6v6h-6zM210 344h6v6h-6zM228 344h6v6h-6zM42 350h12v6h-12zM108 350h6v6h-6zM210 350h18v6h-18zM48 356h12v6h-12zM108 356h6v6h-6zM204 356h6v6h-6zM216 356h6v6h-6zM54 362h18v6h-18zM108 362h6v6h-6zM78 368h12v6h-12zM108 368h6v6h-6zM186 368h6v6h-6zM90 374h18v6h-18zM180 380h6v6h-6zM204 392h6v6h-6z"/><path fill="#919191" d="M0 170h18v6h-18zM84 176h36v6h-36zM144 182h30v6h-30zM204 188h12v6h-12zM42 194h60v6h-60zM222 194h6v6h-6zM168 200h6v6h-6zM222 200h6v6h-6zM192 206h24v6h-24zM204 230h24v6h-24zM0 236h12v6h-12zM198 236h12v6h-12zM222 236h12v6h-12zM102 242h6v6h-6zM198 242h6v6h-6zM138 248h6v6h-6zM192 248h12v6h-12zM234 248h6v6h-6zM168 254h6v6h-6zM192 254h6v6h-6zM234 254h6v6h-6zM240 260h6v6h-6zM264 266h6v6h-6zM126 278h6v6h-6zM150 284h6v6h-6zM204 302h6v6h-6zM246 308h6v6h-6zM246 314h6v6h-6zM66 320h18v6h-18zM60 326h6v6h-6zM84 326h6v6h-6zM210 326h6v6h-6zM240 326h6v6h-6zM54 332h12v6h-12zM96 332h6v6h-6zM210 332h6v6h-6zM54 338h6v6h-6zM102 338h6v6h-6zM216 338h6v6h-6zM54 344h6v6h-6zM216 344h12v6h-12zM54 350h6v6h-6zM60 356h12v6h-12zM210 356h6v6h-6zM72 362h12v6h-12zM102 362h6v6h-6zM198 362h6v6h-6zM210 362h12v6h-12zM90 368h18v6h-18zM216 368h6v6h-6zM216 374h6v6h-6zM216 380h6v6h-6zM210 386h6v6h-6zM192 392h12v6h-12z"/><path fill="#939393" d="M66 176h18v6h-18zM132 182h12v6h-12zM180 188h24v6h-24zM102 194h60v6h-60zM210 194h12v6h-12zM174 200h18v6h-18zM204 200h18v6h-18zM210 236h12v6h-12zM204 242h30v6h-30zM204 248h12v6h-12zM228 248h6v6h-6zM198 254h12v6h-12zM228 254h6v6h-6zM228 260h12v6h-12zM102 272h6v6h-6zM210 308h6v6h-6zM240 308h6v6h-6zM210 314h6v6h-6zM240 314h6v6h-6zM210 320h6v6h-6zM240 320h6v6h-6zM66 326h6v6h-6zM78 326h6v6h-6zM234 326h6v6h-6zM66 332h6v6h-6zM90 332h6v6h-6zM216 332h6v6h-6zM234 332h6v6h-6zM60 338h6v6h-6zM96 338h6v6h-6zM222 338h12v6h-12zM60 344h6v6h-6zM102 344h6v6h-6zM60 350h12v6h-12zM102 350h6v6h-6zM72 356h12v6h-12zM102 356h6v6h-6zM84 362h18v6h-18zM204 362h6v6h-6zM192 368h6v6h-6zM210 368h6v6h-6zM186 374h6v6h-6zM210 380h6v6h-6zM186 386h6v6h-6zM204 386h6v6h-6z"/><path fill="#959595" d="M0 176h66v6h-66zM108 182h24v6h-24zM0 188h36v6h-36zM132 188h48v6h-48zM162 194h48v6h-48zM192 200h12v6h-12zM96 242h6v6h-6zM216 248h12v6h-12zM162 254h6v6h-6zM210 254h18v6h-18zM210 260h18v6h-18zM258 266h6v6h-6zM168 290h6v6h-6zM186 296h6v6h-6zM210 302h6v6h-6zM216 308h24v6h-24zM216 314h24v6h-24zM216 320h6v6h-6zM234 320h6v6h-6zM72 326h6v6h-6zM216 326h6v6h-6zM228 326h6v6h-6zM72 332h18v6h-18zM222 332h12v6h-12zM66 338h12v6h-12zM90 338h6v6h-6zM66 344h12v6h-12zM96 344h6v6h-6zM72 350h30v6h-30zM84 356h18v6h-18zM198 368h12v6h-12zM210 374h6v6h-6zM192 386h12v6h-12z"/><path fill="#979797" d="M72 182h36v6h-36zM36 188h96v6h-96zM90 242h6v6h-6zM132 248h6v6h-6zM204 260h6v6h-6zM108 272h6v6h-6zM132 278h6v6h-6zM156 284h6v6h-6zM222 320h12v6h-12zM222 326h6v6h-6zM78 338h12v6h-12zM78 344h18v6h-18zM192 374h18v6h-18zM186 380h6v6h-6zM198 380h12v6h-12z"/><path fill="#999999" d="M0 182h72v6h-72zM156 254h6v6h-6zM192 260h12v6h-12zM252 266h6v6h-6zM216 302h6v6h-6zM192 380h6v6h-6z"/><path fill="#9b9b9b" d="M84 242h6v6h-6zM306 272h6v6h-6zM138 278h6v6h-6zM174 290h6v6h-6z"/><path fill="#9d9d9d" d="M78 242h6v6h-6zM126 248h6v6h-6zM150 254h6v6h-6zM186 260h6v6h-6zM246 266h6v6h-6zM300 272h6v6h-6zM192 296h6v6h-6zM222 302h6v6h-6zM276 302h30v6h-30z"/><path fill="#9f9f9f" d="M180 260h6v6h-6zM60 266h12v6h-12zM114 272h6v6h-6zM144 278h6v6h-6zM162 284h6v6h-6zM228 302h12v6h-12zM252 302h24v6h-24zM306 302h6v6h-6z"/><path fill="#a1a1a1" d="M72 242h6v6h-6zM174 260h6v6h-6zM24 266h36v6h-36zM72 266h6v6h-6zM240 266h6v6h-6zM294 272h6v6h-6zM180 290h6v6h-6zM240 302h12v6h-12z"/><path fill="#a3a3a3" d="M66 242h6v6h-6zM0 266h24v6h-24zM78 266h6v6h-6zM288 272h6v6h-6zM198 296h6v6h-6z"/><path fill="#a5a5a5" d="M54 242h12v6h-12zM120 248h6v6h-6zM144 254h6v6h-6zM84 266h6v6h-6zM234 266h6v6h-6zM150 278h6v6h-6z"/><path fill="#a7a7a7" d="M48 242h6v6h-6zM168 260h6v6h-6zM120 272h6v6h-6zM282 272h6v6h-6zM204 296h6v6h-6z"/><path fill="#a9a9a9" d="M36 242h12v6h-12zM114 248h6v6h-6zM90 266h6v6h-6zM228 266h6v6h-6zM276 272h6v6h-6zM168 284h6v6h-6z"/><path fill="#ababab" d="M24 242h12v6h-12zM138 254h6v6h-6zM162 260h6v6h-6zM96 266h6v6h-6zM126 272h6v6h-6zM156 278h6v6h-6zM186 290h6v6h-6zM210 296h6v6h-6z"/><path fill="#adadad" d="M12 242h12v6h-12zM108 248h6v6h-6zM156 260h6v6h-6zM222 266h6v6h-6zM270 272h6v6h-6z"/><path fill="#afafaf" d="M0 242h12v6h-12zM96 248h12v6h-12zM132 254h6v6h-6zM150 260h6v6h-6zM102 266h6v6h-6zM216 266h6v6h-6zM132 272h12v6h-12zM216 296h6v6h-6z"/><path fill="#b1b1b1" d="M90 248h6v6h-6zM108 266h6v6h-6zM150 266h6v6h-6zM210 266h6v6h-6zM144 272h12v6h-12zM264 272h6v6h-6zM174 284h6v6h-6z"/><path fill="#b3b3b3" d="M84 248h6v6h-6zM144 260h6v6h-6zM144 266h6v6h-6zM156 266h6v6h-6zM192 266h6v6h-6zM204 266h6v6h-6zM156 272h6v6h-6zM162 278h6v6h-6zM222 296h6v6h-6z"/><path fill="#b5b5b5" d="M78 248h6v6h-6zM78 254h18v6h-18zM126 254h6v6h-6zM66 260h36v6h-36zM138 260h6v6h-6zM138 266h6v6h-6zM162 266h6v6h-6zM198 266h6v6h-6zM162 272h6v6h-6zM258 272h6v6h-6zM228 296h6v6h-6z"/><path fill="#b7b7b7" d="M66 248h12v6h-12zM60 254h18v6h-18zM96 254h12v6h-12zM42 260h24v6h-24zM102 260h12v6h-12zM132 260h6v6h-6zM114 266h6v6h-6zM132 266h6v6h-6zM168 266h24v6h-24zM168 272h6v6h-6zM252 272h6v6h-6zM168 278h6v6h-6zM180 284h6v6h-6zM192 290h6v6h-6z"/><path fill="#b9b9b9" d="M48 248h18v6h-18zM42 254h18v6h-18zM108 254h12v6h-12zM12 260h30v6h-30zM114 260h6v6h-6zM126 260h6v6h-6zM126 266h6v6h-6zM174 278h6v6h-6zM234 296h12v6h-12z"/><path fill="#bbbbbb" d="M30 248h18v6h-18zM24 254h18v6h-18zM120 254h6v6h-6zM0 260h12v6h-12zM120 260h6v6h-6zM120 266h6v6h-6zM174 272h6v6h-6zM246 272h6v6h-6zM300 278h12v6h-12zM246 296h66v6h-66z"/><path fill="#bdbdbd" d="M6 248h24v6h-24zM6 254h18v6h-18zM294 278h6v6h-6zM198 290h6v6h-6z"/><path fill="#bfbfbf" d="M0 248h6v6h-6zM0 254h6v6h-6zM180 272h6v6h-6zM180 278h6v6h-6z"/><path fill="#c1c1c1" d="M240 272h6v6h-6zM288 278h6v6h-6zM186 284h6v6h-6z"/><path fill="#c3c3c3" d="M186 272h6v6h-6zM186 278h6v6h-6zM282 278h6v6h-6zM306 284h6v6h-6zM306 290h6v6h-6z"/><path fill="#c5c5c5" d="M234 272h6v6h-6zM276 278h6v6h-6zM294 284h12v6h-12zM204 290h6v6h-6zM294 290h12v6h-12z"/><path fill="#c7c7c7" d="M270 278h6v6h-6zM282 284h12v6h-12zM210 290h6v6h-6zM288 290h6v6h-6z"/><path fill="#c9c9c9" d="M192 272h6v6h-6zM228 272h6v6h-6zM192 278h6v6h-6zM192 284h6v6h-6zM276 284h6v6h-6zM276 290h12v6h-12z"/><path fill="#cbcbcb" d="M222 272h6v6h-6zM264 278h6v6h-6zM270 284h6v6h-6zM216 290h6v6h-6zM270 290h6v6h-6z"/><path fill="#cdcdcd" d="M198 272h6v6h-6zM210 272h12v6h-12zM258 278h6v6h-6zM198 284h6v6h-6zM264 284h6v6h-6zM222 290h6v6h-6zM264 290h6v6h-6z"/><path fill="#cfcfcf" d="M204 272h6v6h-6zM198 278h6v6h-6zM252 278h6v6h-6zM252 284h12v6h-12zM228 290h6v6h-6zM258 290h6v6h-6z"/><path fill="#d1d1d1" d="M246 278h6v6h-6zM204 284h6v6h-6zM246 284h6v6h-6zM234 290h24v6h-24z"/><path fill="#d3d3d3" d="M204 278h12v6h-12zM234 278h12v6h-12zM210 284h6v6h-6zM240 284h6v6h-6z"/><path fill="#d5d5d5" d="M216 278h18v6h-18zM216 284h24v6h-24z"/></g><filter id="phA" filterUnits="userSpaceOnUse" x="14" y="26" width="294" height="456" color-interpolation-filters="sRGB"><feGaussianBlur in="SourceGraphic" stdDeviation="3" result="f"/><feTurbulence type="fractalNoise" baseFrequency="0.4" numOctaves="3" seed="5" result="n"/><feColorMatrix in="n" type="matrix" values="1 0 0 0 0 1 0 0 0 0 1 0 0 0 0 0 0 0 0 1" result="nr"/><feComposite in="f" in2="nr" operator="arithmetic" k1="0" k2="1" k3="0.18" k4="-0.09"/><feComponentTransfer><feFuncR type="table" tableValues="1.000 1.000 1.000 1.000 1.000 0.972 0.910 0.848 0.717 0.609 0.518 0.448 0.383 0.332 0.283 0.252 0.282 0.361 0.440 0.496 0.559 0.621 0.683 0.776 0.872 0.944 1.000 1.000 1.000 1.000 1.000 1.000 1.000 1.000 1.000 1.000 1.000 0.972 0.910 0.848 0.717 0.609 0.518 0.448 0.383 0.332 0.283 0.252 0.282 0.361 0.440 0.496 0.559 0.621 0.683 0.776 0.872 0.944 1.000 1.000 1.000 1.000 1.000 1.000 1.000 1.000 1.000 1.000 1.000 0.972 0.910 0.848 0.717 0.609 0.518 0.448 0.383 0.332 0.283 0.252 0.282 0.361 0.440 0.496 0.559 0.621 0.683 0.776 0.872 0.944 1.000 1.000 1.000 1.000 1.000 1.000 1.000"/><feFuncG type="table" tableValues="0.635 0.695 0.754 0.822 0.908 0.973 0.973 0.973 0.973 0.973 0.973 0.973 0.973 0.973 0.973 0.973 0.941 0.857 0.752 0.668 0.574 0.508 0.446 0.368 0.287 0.202 0.150 0.232 0.314 0.417 0.513 0.574 0.635 0.695 0.754 0.822 0.908 0.973 0.973 0.973 0.973 0.973 0.973 0.973 0.973 0.973 0.973 0.973 0.941 0.857 0.752 0.668 0.574 0.508 0.446 0.368 0.287 0.202 0.150 0.232 0.314 0.417 0.513 0.574 0.635 0.695 0.754 0.822 0.908 0.973 0.973 0.973 0.973 0.973 0.973 0.973 0.973 0.973 0.973 0.973 0.941 0.857 0.752 0.668 0.574 0.508 0.446 0.368 0.287 0.202 0.150 0.232 0.314 0.417 0.513 0.574 0.635"/><feFuncB type="table" tableValues="0.525 0.450 0.375 0.307 0.222 0.189 0.235 0.282 0.412 0.521 0.611 0.681 0.747 0.827 0.908 0.996 1.000 0.984 0.980 0.980 0.973 0.973 0.973 0.985 0.999 1.000 0.986 0.916 0.847 0.761 0.677 0.601 0.525 0.450 0.375 0.307 0.222 0.189 0.235 0.282 0.412 0.521 0.611 0.681 0.747 0.827 0.908 0.996 1.000 0.984 0.980 0.980 0.973 0.973 0.973 0.985 0.999 1.000 0.986 0.916 0.847 0.761 0.677 0.601 0.525 0.450 0.375 0.307 0.222 0.189 0.235 0.282 0.412 0.521 0.611 0.681 0.747 0.827 0.908 0.996 1.000 0.984 0.980 0.980 0.973 0.973 0.973 0.985 0.999 1.000 0.986 0.916 0.847 0.761 0.677 0.601 0.525"/><feFuncA type="identity"/></feComponentTransfer><feConvolveMatrix order="3" kernelMatrix="0.0277 0.1110 0.0277 0.1110 0.4452 0.1110 0.0277 0.1110 0.0277" edgeMode="duplicate" preserveAlpha="true"/></filter><filter id="phA2" filterUnits="userSpaceOnUse" x="14" y="26" width="294" height="456" color-interpolation-filters="sRGB"><feGaussianBlur in="SourceGraphic" stdDeviation="3" result="f"/><feTurbulence type="fractalNoise" baseFrequency="0.4" numOctaves="3" seed="5" result="n"/><feColorMatrix in="n" type="matrix" values="1 0 0 0 0 1 0 0 0 0 1 0 0 0 0 0 0 0 0 1" result="nr"/><feComposite in="f" in2="nr" operator="arithmetic" k1="0" k2="1" k3="0.32" k4="-0.16"/><feComponentTransfer><feFuncR type="table" tableValues="1.000 1.000 1.000 1.000 1.000 0.972 0.910 0.848 0.717 0.609 0.518 0.448 0.383 0.332 0.283 0.252 0.282 0.361 0.440 0.496 0.559 0.621 0.683 0.776 0.872 0.944 1.000 1.000 1.000 1.000 1.000 1.000 1.000 1.000 1.000 1.000 1.000 0.972 0.910 0.848 0.717 0.609 0.518 0.448 0.383 0.332 0.283 0.252 0.282 0.361 0.440 0.496 0.559 0.621 0.683 0.776 0.872 0.944 1.000 1.000 1.000 1.000 1.000 1.000 1.000 1.000 1.000 1.000 1.000 0.972 0.910 0.848 0.717 0.609 0.518 0.448 0.383 0.332 0.283 0.252 0.282 0.361 0.440 0.496 0.559 0.621 0.683 0.776 0.872 0.944 1.000 1.000 1.000 1.000 1.000 1.000 1.000"/><feFuncG type="table" tableValues="0.635 0.695 0.754 0.822 0.908 0.973 0.973 0.973 0.973 0.973 0.973 0.973 0.973 0.973 0.973 0.973 0.941 0.857 0.752 0.668 0.574 0.508 0.446 0.368 0.287 0.202 0.150 0.232 0.314 0.417 0.513 0.574 0.635 0.695 0.754 0.822 0.908 0.973 0.973 0.973 0.973 0.973 0.973 0.973 0.973 0.973 0.973 0.973 0.941 0.857 0.752 0.668 0.574 0.508 0.446 0.368 0.287 0.202 0.150 0.232 0.314 0.417 0.513 0.574 0.635 0.695 0.754 0.822 0.908 0.973 0.973 0.973 0.973 0.973 0.973 0.973 0.973 0.973 0.973 0.973 0.941 0.857 0.752 0.668 0.574 0.508 0.446 0.368 0.287 0.202 0.150 0.232 0.314 0.417 0.513 0.574 0.635"/><feFuncB type="table" tableValues="0.525 0.450 0.375 0.307 0.222 0.189 0.235 0.282 0.412 0.521 0.611 0.681 0.747 0.827 0.908 0.996 1.000 0.984 0.980 0.980 0.973 0.973 0.973 0.985 0.999 1.000 0.986 0.916 0.847 0.761 0.677 0.601 0.525 0.450 0.375 0.307 0.222 0.189 0.235 0.282 0.412 0.521 0.611 0.681 0.747 0.827 0.908 0.996 1.000 0.984 0.980 0.980 0.973 0.973 0.973 0.985 0.999 1.000 0.986 0.916 0.847 0.761 0.677 0.601 0.525 0.450 0.375 0.307 0.222 0.189 0.235 0.282 0.412 0.521 0.611 0.681 0.747 0.827 0.908 0.996 1.000 0.984 0.980 0.980 0.973 0.973 0.973 0.985 0.999 1.000 0.986 0.916 0.847 0.761 0.677 0.601 0.525"/><feFuncA type="identity"/></feComponentTransfer><feConvolveMatrix order="3" kernelMatrix="0.0277 0.1110 0.0277 0.1110 0.4452 0.1110 0.0277 0.1110 0.0277" edgeMode="duplicate" preserveAlpha="true"/></filter><filter id="phB" filterUnits="userSpaceOnUse" x="14" y="26" width="294" height="456" color-interpolation-filters="sRGB"><feGaussianBlur in="SourceGraphic" stdDeviation="3" result="f"/><feTurbulence type="fractalNoise" baseFrequency="0.4" numOctaves="3" seed="11" result="n"/><feColorMatrix in="n" type="matrix" values="1 0 0 0 0 1 0 0 0 0 1 0 0 0 0 0 0 0 0 1" result="nr"/><feComposite in="f" in2="nr" operator="arithmetic" k1="0" k2="1" k3="0.25" k4="-0.125"/><feComponentTransfer><feFuncR type="table" tableValues="1.000 1.000 1.000 1.000 1.000 0.972 0.910 0.848 0.717 0.609 0.518 0.448 0.383 0.332 0.283 0.252 0.282 0.361 0.440 0.496 0.559 0.621 0.683 0.776 0.872 0.944 1.000 1.000 1.000 1.000 1.000 1.000 1.000 1.000 1.000 1.000 1.000 0.972 0.910 0.848 0.717 0.609 0.518 0.448 0.383 0.332 0.283 0.252 0.282 0.361 0.440 0.496 0.559 0.621 0.683 0.776 0.872 0.944 1.000 1.000 1.000 1.000 1.000 1.000 1.000 1.000 1.000 1.000 1.000 0.972 0.910 0.848 0.717 0.609 0.518 0.448 0.383 0.332 0.283 0.252 0.282 0.361 0.440 0.496 0.559 0.621 0.683 0.776 0.872 0.944 1.000 1.000 1.000 1.000 1.000 1.000 1.000"/><feFuncG type="table" tableValues="0.635 0.695 0.754 0.822 0.908 0.973 0.973 0.973 0.973 0.973 0.973 0.973 0.973 0.973 0.973 0.973 0.941 0.857 0.752 0.668 0.574 0.508 0.446 0.368 0.287 0.202 0.150 0.232 0.314 0.417 0.513 0.574 0.635 0.695 0.754 0.822 0.908 0.973 0.973 0.973 0.973 0.973 0.973 0.973 0.973 0.973 0.973 0.973 0.941 0.857 0.752 0.668 0.574 0.508 0.446 0.368 0.287 0.202 0.150 0.232 0.314 0.417 0.513 0.574 0.635 0.695 0.754 0.822 0.908 0.973 0.973 0.973 0.973 0.973 0.973 0.973 0.973 0.973 0.973 0.973 0.941 0.857 0.752 0.668 0.574 0.508 0.446 0.368 0.287 0.202 0.150 0.232 0.314 0.417 0.513 0.574 0.635"/><feFuncB type="table" tableValues="0.525 0.450 0.375 0.307 0.222 0.189 0.235 0.282 0.412 0.521 0.611 0.681 0.747 0.827 0.908 0.996 1.000 0.984 0.980 0.980 0.973 0.973 0.973 0.985 0.999 1.000 0.986 0.916 0.847 0.761 0.677 0.601 0.525 0.450 0.375 0.307 0.222 0.189 0.235 0.282 0.412 0.521 0.611 0.681 0.747 0.827 0.908 0.996 1.000 0.984 0.980 0.980 0.973 0.973 0.973 0.985 0.999 1.000 0.986 0.916 0.847 0.761 0.677 0.601 0.525 0.450 0.375 0.307 0.222 0.189 0.235 0.282 0.412 0.521 0.611 0.681 0.747 0.827 0.908 0.996 1.000 0.984 0.980 0.980 0.973 0.973 0.973 0.985 0.999 1.000 0.986 0.916 0.847 0.761 0.677 0.601 0.525"/><feFuncA type="identity"/></feComponentTransfer><feConvolveMatrix order="3" kernelMatrix="0.0277 0.1110 0.0277 0.1110 0.4452 0.1110 0.0277 0.1110 0.0277" edgeMode="duplicate" preserveAlpha="true"/></filter><filter id="phB2" filterUnits="userSpaceOnUse" x="14" y="26" width="294" height="456" color-interpolation-filters="sRGB"><feGaussianBlur in="SourceGraphic" stdDeviation="3" result="f"/><feTurbulence type="fractalNoise" baseFrequency="0.4" numOctaves="3" seed="11" result="n"/><feColorMatrix in="n" type="matrix" values="1 0 0 0 0 1 0 0 0 0 1 0 0 0 0 0 0 0 0 1" result="nr"/><feComposite in="f" in2="nr" operator="arithmetic" k1="0" k2="1" k3="0.33" k4="-0.165"/><feComponentTransfer><feFuncR type="table" tableValues="1.000 1.000 1.000 1.000 1.000 0.972 0.910 0.848 0.717 0.609 0.518 0.448 0.383 0.332 0.283 0.252 0.282 0.361 0.440 0.496 0.559 0.621 0.683 0.776 0.872 0.944 1.000 1.000 1.000 1.000 1.000 1.000 1.000 1.000 1.000 1.000 1.000 0.972 0.910 0.848 0.717 0.609 0.518 0.448 0.383 0.332 0.283 0.252 0.282 0.361 0.440 0.496 0.559 0.621 0.683 0.776 0.872 0.944 1.000 1.000 1.000 1.000 1.000 1.000 1.000 1.000 1.000 1.000 1.000 0.972 0.910 0.848 0.717 0.609 0.518 0.448 0.383 0.332 0.283 0.252 0.282 0.361 0.440 0.496 0.559 0.621 0.683 0.776 0.872 0.944 1.000 1.000 1.000 1.000 1.000 1.000 1.000"/><feFuncG type="table" tableValues="0.635 0.695 0.754 0.822 0.908 0.973 0.973 0.973 0.973 0.973 0.973 0.973 0.973 0.973 0.973 0.973 0.941 0.857 0.752 0.668 0.574 0.508 0.446 0.368 0.287 0.202 0.150 0.232 0.314 0.417 0.513 0.574 0.635 0.695 0.754 0.822 0.908 0.973 0.973 0.973 0.973 0.973 0.973 0.973 0.973 0.973 0.973 0.973 0.941 0.857 0.752 0.668 0.574 0.508 0.446 0.368 0.287 0.202 0.150 0.232 0.314 0.417 0.513 0.574 0.635 0.695 0.754 0.822 0.908 0.973 0.973 0.973 0.973 0.973 0.973 0.973 0.973 0.973 0.973 0.973 0.941 0.857 0.752 0.668 0.574 0.508 0.446 0.368 0.287 0.202 0.150 0.232 0.314 0.417 0.513 0.574 0.635"/><feFuncB type="table" tableValues="0.525 0.450 0.375 0.307 0.222 0.189 0.235 0.282 0.412 0.521 0.611 0.681 0.747 0.827 0.908 0.996 1.000 0.984 0.980 0.980 0.973 0.973 0.973 0.985 0.999 1.000 0.986 0.916 0.847 0.761 0.677 0.601 0.525 0.450 0.375 0.307 0.222 0.189 0.235 0.282 0.412 0.521 0.611 0.681 0.747 0.827 0.908 0.996 1.000 0.984 0.980 0.980 0.973 0.973 0.973 0.985 0.999 1.000 0.986 0.916 0.847 0.761 0.677 0.601 0.525 0.450 0.375 0.307 0.222 0.189 0.235 0.282 0.412 0.521 0.611 0.681 0.747 0.827 0.908 0.996 1.000 0.984 0.980 0.980 0.973 0.973 0.973 0.985 0.999 1.000 0.986 0.916 0.847 0.761 0.677 0.601 0.525"/><feFuncA type="identity"/></feComponentTransfer><feConvolveMatrix order="3" kernelMatrix="0.0277 0.1110 0.0277 0.1110 0.4452 0.1110 0.0277 0.1110 0.0277" edgeMode="duplicate" preserveAlpha="true"/></filter><filter id="phC" filterUnits="userSpaceOnUse" x="0" y="26" width="308" height="456" color-interpolation-filters="sRGB"><feGaussianBlur in="SourceGraphic" stdDeviation="3" result="f"/><feTurbulence type="fractalNoise" baseFrequency="0.1" numOctaves="2" seed="3" result="m"/><feColorMatrix in="m" type="matrix" values="1 0 0 0 0 1 0 0 0 0 1 0 0 0 0 0 0 0 0 1" result="mr"/><feComposite in="f" in2="mr" operator="arithmetic" k1="0" k2="1" k3="0.12" k4="-0.06" result="f2"/><feTurbulence type="fractalNoise" baseFrequency="0.35" numOctaves="3" seed="17" result="n"/><feColorMatrix in="n" type="matrix" values="1 0 0 0 0 1 0 0 0 0 1 0 0 0 0 0 0 0 0 1" result="nr"/><feComposite in="f2" in2="nr" operator="arithmetic" k1="0" k2="1" k3="0.16" k4="-0.08"/><feComponentTransfer><feFuncR type="table" tableValues="0.188 0.188 0.188 0.188 0.188 0.188 0.188 0.188 0.188 0.188 0.188 0.188 0.188 0.188 0.188 0.188 0.188 0.188 0.188 0.188 0.188 0.212 0.235 0.251 0.267 0.271 0.275 0.259 0.243 0.200 0.157 0.125 0.094 0.110 0.125 0.200 0.275 0.373 0.471 0.557 0.643 0.704 0.765 0.824 0.882 0.924 0.965 0.978 0.992 0.986 0.980 0.959 0.937 0.902 0.867 0.816 0.765 0.696 0.627 0.553 0.478 0.478 0.478 0.478 0.478 0.478 0.478 0.478 0.478 0.478 0.478 0.478 0.478 0.478 0.478 0.478 0.478 0.478 0.478 0.478 0.478"/><feFuncG type="table" tableValues="0.071 0.071 0.071 0.071 0.071 0.071 0.071 0.071 0.071 0.071 0.071 0.071 0.071 0.071 0.071 0.071 0.071 0.071 0.071 0.071 0.071 0.139 0.208 0.276 0.345 0.412 0.478 0.543 0.608 0.671 0.733 0.784 0.835 0.875 0.914 0.941 0.969 0.982 0.996 0.992 0.988 0.967 0.945 0.904 0.863 0.812 0.761 0.700 0.639 0.565 0.490 0.422 0.353 0.294 0.235 0.188 0.141 0.104 0.067 0.041 0.016 0.016 0.016 0.016 0.016 0.016 0.016 0.016 0.016 0.016 0.016 0.016 0.016 0.016 0.016 0.016 0.016 0.016 0.016 0.016 0.016"/><feFuncB type="table" tableValues="0.231 0.231 0.231 0.231 0.231 0.231 0.231 0.231 0.231 0.231 0.231 0.231 0.231 0.231 0.231 0.231 0.231 0.231 0.231 0.231 0.231 0.388 0.545 0.671 0.796 0.873 0.949 0.973 0.996 0.959 0.922 0.861 0.800 0.737 0.675 0.594 0.514 0.431 0.349 0.290 0.231 0.216 0.200 0.208 0.216 0.222 0.227 0.208 0.188 0.157 0.125 0.096 0.067 0.047 0.027 0.018 0.008 0.006 0.004 0.006 0.008 0.008 0.008 0.008 0.008 0.008 0.008 0.008 0.008 0.008 0.008 0.008 0.008 0.008 0.008 0.008 0.008 0.008 0.008 0.008 0.008"/><feFuncA type="identity"/></feComponentTransfer><feConvolveMatrix order="3" kernelMatrix="0.0277 0.1110 0.0277 0.1110 0.4452 0.1110 0.0277 0.1110 0.0277" edgeMode="duplicate" preserveAlpha="true"/></filter><filter id="mA_bl" filterUnits="userSpaceOnUse" x="14" y="26" width="294" height="456"><feGaussianBlur stdDeviation="12"/></filter><mask id="mA" maskUnits="userSpaceOnUse" x="14" y="26" width="294" height="456"><rect x="14" y="26" width="294" height="456" fill="#000"/><g filter="url(#mA_bl)"><ellipse cx="110" cy="190" rx="80" ry="22" fill="#fff" fill-opacity="1" transform="rotate(0 110 190)"/><ellipse cx="70" cy="335" rx="50" ry="55" fill="#fff" fill-opacity="1" transform="rotate(0 70 335)"/><ellipse cx="228" cy="340" rx="30" ry="45" fill="#fff" fill-opacity="0.8" transform="rotate(0 228 340)"/><ellipse cx="200" cy="272" rx="75" ry="30" fill="#fff" fill-opacity="0.9" transform="rotate(8 200 272)"/><ellipse cx="175" cy="452" rx="35" ry="25" fill="#fff" fill-opacity="0.6" transform="rotate(0 175 452)"/></g></mask><filter id="mB_bl" filterUnits="userSpaceOnUse" x="14" y="26" width="294" height="456"><feGaussianBlur stdDeviation="12"/></filter><mask id="mB" maskUnits="userSpaceOnUse" x="14" y="26" width="294" height="456"><rect x="14" y="26" width="294" height="456" fill="#000"/><g filter="url(#mB_bl)"><ellipse cx="120" cy="110" rx="90" ry="70" fill="#fff" fill-opacity="1" transform="rotate(0 120 110)"/><ellipse cx="70" cy="230" rx="40" ry="60" fill="#fff" fill-opacity="1" transform="rotate(0 70 230)"/><ellipse cx="225" cy="360" rx="40" ry="90" fill="#fff" fill-opacity="1" transform="rotate(0 225 360)"/><ellipse cx="240" cy="90" rx="50" ry="30" fill="#fff" fill-opacity="0.8" transform="rotate(0 240 90)"/><ellipse cx="200" cy="270" rx="70" ry="25" fill="#fff" fill-opacity="0.8" transform="rotate(0 200 270)"/></g></mask><filter id="grA" filterUnits="userSpaceOnUse" x="14" y="26" width="294" height="456" color-interpolation-filters="sRGB"><feGaussianBlur in="SourceAlpha" stdDeviation="2" result="d"/><feTurbulence type="fractalNoise" baseFrequency="0.5" numOctaves="2" seed="21" result="n"/><feColorMatrix in="n" type="matrix" values="0 0 0 0 0 0 0 0 0 0 0 0 0 0 0 1 0 0 0 0" result="na"/><feComposite in="na" in2="d" operator="arithmetic" k2="6" k3="3.5" k4="-4.75" result="m"/><feFlood flood-color="#b4b0b4"/><feComposite in2="m" operator="in"/><feGaussianBlur stdDeviation="0.5"/></filter><filter id="grB" filterUnits="userSpaceOnUse" x="14" y="26" width="294" height="456" color-interpolation-filters="sRGB"><feGaussianBlur in="SourceAlpha" stdDeviation="2" result="d"/><feTurbulence type="fractalNoise" baseFrequency="0.5" numOctaves="2" seed="23" result="n"/><feColorMatrix in="n" type="matrix" values="0 0 0 0 0 0 0 0 0 0 0 0 0 0 0 1 0 0 0 0" result="na"/><feComposite in="na" in2="d" operator="arithmetic" k2="6" k3="3.5" k4="-4.75" result="m"/><feFlood flood-color="#b4b0b4"/><feComposite in2="m" operator="in"/><feGaussianBlur stdDeviation="0.5"/></filter><filter id="spB" filterUnits="userSpaceOnUse" x="14" y="26" width="294" height="456" color-interpolation-filters="sRGB"><feGaussianBlur in="SourceAlpha" stdDeviation="2.5" result="d"/><feTurbulence type="fractalNoise" baseFrequency="0.5" numOctaves="2" seed="29" result="n"/><feColorMatrix in="n" type="matrix" values="0 0 0 0 0 0 0 0 0 0 0 0 0 0 0 1 0 0 0 0" result="na"/><feComposite in="na" in2="d" operator="arithmetic" k2="6" k3="3.5" k4="-4.75" result="m"/><feFlood flood-color="#d050f0"/><feComposite in2="m" operator="in"/><feGaussianBlur stdDeviation="0.5"/></filter><filter id="spA" filterUnits="userSpaceOnUse" x="14" y="26" width="294" height="456" color-interpolation-filters="sRGB"><feGaussianBlur in="SourceAlpha" stdDeviation="2" result="d"/><feTurbulence type="fractalNoise" baseFrequency="0.5" numOctaves="2" seed="33" result="n"/><feColorMatrix in="n" type="matrix" values="0 0 0 0 0 0 0 0 0 0 0 0 0 0 0 1 0 0 0 0" result="na"/><feComposite in="na" in2="d" operator="arithmetic" k2="6" k3="3.5" k4="-4.75" result="m"/><feFlood flood-color="#98f098"/><feComposite in2="m" operator="in"/><feGaussianBlur stdDeviation="0.5"/></filter><filter id="drC" filterUnits="userSpaceOnUse" x="0" y="470" width="320" height="471" color-interpolation-filters="sRGB"><feGaussianBlur in="SourceAlpha" stdDeviation="7" result="d"/><feTurbulence type="fractalNoise" baseFrequency="0.6" numOctaves="2" seed="31" result="n"/><feColorMatrix in="n" type="matrix" values="0 0 0 0 0 0 0 0 0 0 0 0 0 0 0 1 0 0 0 0" result="na"/><feComposite in="na" in2="d" operator="arithmetic" k2="6" k3="3.5" k4="-4.75" result="m"/><feFlood flood-color="#8e2408"/><feComposite in2="m" operator="in"/><feGaussianBlur stdDeviation="0.5"/></filter><filter id="dbC" filterUnits="userSpaceOnUse" x="0" y="470" width="320" height="471" color-interpolation-filters="sRGB"><feGaussianBlur in="SourceAlpha" stdDeviation="5" result="d"/><feTurbulence type="fractalNoise" baseFrequency="0.6" numOctaves="2" seed="37" result="n"/><feColorMatrix in="n" type="matrix" values="0 0 0 0 0 0 0 0 0 0 0 0 0 0 0 1 0 0 0 0" result="na"/><feComposite in="na" in2="d" operator="arithmetic" k2="6" k3="3.5" k4="-4.75" result="m"/><feFlood flood-color="#2c3c9a"/><feComposite in2="m" operator="in"/><feGaussianBlur stdDeviation="0.5"/></filter><filter id="whC" filterUnits="userSpaceOnUse" x="0" y="470" width="320" height="471" color-interpolation-filters="sRGB"><feGaussianBlur in="SourceAlpha" stdDeviation="1.5" result="d"/><feTurbulence type="fractalNoise" baseFrequency="0.6" numOctaves="2" seed="41" result="n"/><feColorMatrix in="n" type="matrix" values="0 0 0 0 0 0 0 0 0 0 0 0 0 0 0 1 0 0 0 0" result="na"/><feComposite in="na" in2="d" operator="arithmetic" k2="6" k3="3.5" k4="-4.75" result="m"/><feFlood flood-color="#f4f4f4"/><feComposite in2="m" operator="in"/><feGaussianBlur stdDeviation="0.5"/></filter>
<filter id="soft" filterUnits="userSpaceOnUse" x="0" y="0" width="685" height="941" color-interpolation-filters="sRGB"><feConvolveMatrix order="3" kernelMatrix="0.0113 0.0838 0.0113 0.0838 0.6193 0.0838 0.0113 0.0838 0.0113" edgeMode="duplicate" preserveAlpha="true"/></filter>
</defs>
<g filter="url(#soft)">
<rect x="0" y="0" width="685" height="941" fill="#fff"/>
<rect x="1" y="0" width="618" height="477" fill="#000"/>
<rect x="0" y="0" width="1" height="477" fill="#e8e8e8"/>
<rect x="310" y="0" width="1" height="477" fill="#b8b8b8"/>
<g clip-path="url(#swclip)"><use href="#fA" filter="url(#phA)"/><use href="#fA" filter="url(#phA2)" mask="url(#mA)"/><g filter="url(#spA)"><ellipse cx="236" cy="163" rx="14" ry="4" fill="#000" fill-opacity="0.85" transform="rotate(-12 236 163)"/><ellipse cx="150" cy="106" rx="7" ry="6" fill="#000" fill-opacity="0.6" transform="rotate(0 150 106)"/><ellipse cx="138" cy="100" rx="5" ry="4" fill="#000" fill-opacity="0.5" transform="rotate(0 138 100)"/><ellipse cx="236" cy="291" rx="15" ry="8" fill="#000" fill-opacity="0.9" transform="rotate(-5 236 291)"/><ellipse cx="246" cy="284" rx="8" ry="6" fill="#000" fill-opacity="0.8" transform="rotate(0 246 284)"/></g><g filter="url(#grA)"><ellipse cx="88" cy="246" rx="20" ry="4.5" fill="#000" fill-opacity="0.72" transform="rotate(10 88 246)"/><ellipse cx="122" cy="252" rx="22" ry="6" fill="#000" fill-opacity="0.76" transform="rotate(12 122 252)"/><ellipse cx="155" cy="259" rx="20" ry="7.5" fill="#000" fill-opacity="0.78" transform="rotate(12 155 259)"/><ellipse cx="190" cy="268" rx="20" ry="15" fill="#000" fill-opacity="0.8" transform="rotate(10 190 268)"/><ellipse cx="214" cy="271" rx="18" ry="26" fill="#000" fill-opacity="0.84" transform="rotate(0 214 271)"/><ellipse cx="240" cy="271" rx="22" ry="13" fill="#000" fill-opacity="0.8" transform="rotate(-4 240 271)"/><ellipse cx="178" cy="281" rx="14" ry="8" fill="#000" fill-opacity="0.62" transform="rotate(10 178 281)"/></g></g><path d="M94 7 L103 7 L111.5 9.5 L111 13.5 L104 13 L99 14 L94 12 Z" fill="#e8f050"/><path d="M116 10.5 L118 10.5 L118 12 L116 12 Z" fill="#f0a090"/><path d="M122 11 L135 13 L136 16.5 L134 17 L128 15.5 L123 14 Z" fill="#f0a090"/><path d="M145.5 41 L148 35 L151 31 L152.3 33 L150 38 L146.5 42 Z" fill="#e8f050"/><path d="M152.5 25 L154 21.5 L155.7 22.5 L155 26 Z" fill="#e8f050"/><path d="M168.5 31 L171 29.8 L171 33.3 L168.5 33 Z" fill="#b090f0"/>
<g transform="translate(309.6 0)"><g clip-path="url(#swclip)"><use href="#fB" filter="url(#phB)"/><use href="#fB" filter="url(#phB2)" mask="url(#mB)"/><g filter="url(#spB)"><ellipse cx="125" cy="63" rx="5" ry="9" fill="#000" fill-opacity="0.72" transform="rotate(0 125 63)"/><ellipse cx="116" cy="88" rx="8" ry="8" fill="#000" fill-opacity="0.72" transform="rotate(0 116 88)"/><ellipse cx="152" cy="107" rx="9" ry="7" fill="#000" fill-opacity="0.68" transform="rotate(0 152 107)"/><ellipse cx="141" cy="120" rx="6" ry="6" fill="#000" fill-opacity="0.7" transform="rotate(0 141 120)"/><ellipse cx="113" cy="130" rx="7" ry="6" fill="#000" fill-opacity="0.72" transform="rotate(0 113 130)"/><ellipse cx="170" cy="125" rx="7" ry="6" fill="#000" fill-opacity="0.68" transform="rotate(0 170 125)"/><ellipse cx="75" cy="150" rx="8" ry="6" fill="#000" fill-opacity="0.55" transform="rotate(0 75 150)"/><ellipse cx="230" cy="102" rx="6" ry="5" fill="#000" fill-opacity="0.55" transform="rotate(0 230 102)"/><ellipse cx="80" cy="167" rx="11" ry="8" fill="#000" fill-opacity="0.8" transform="rotate(0 80 167)"/><ellipse cx="65" cy="198" rx="9" ry="15" fill="#000" fill-opacity="0.85" transform="rotate(0 65 198)"/><ellipse cx="60" cy="250" rx="8" ry="6" fill="#000" fill-opacity="0.6" transform="rotate(0 60 250)"/></g><g filter="url(#grB)"><ellipse cx="72" cy="243" rx="24" ry="5" fill="#000" fill-opacity="0.64" transform="rotate(10 72 243)"/><ellipse cx="115" cy="251" rx="26" ry="6" fill="#000" fill-opacity="0.68" transform="rotate(12 115 251)"/><ellipse cx="160" cy="261" rx="24" ry="9" fill="#000" fill-opacity="0.74" transform="rotate(12 160 261)"/><ellipse cx="205" cy="270" rx="26" ry="17" fill="#000" fill-opacity="0.82" transform="rotate(4 205 270)"/><ellipse cx="238" cy="273" rx="20" ry="12" fill="#000" fill-opacity="0.78" transform="rotate(-8 238 273)"/></g></g><path d="M94 7 L103 7 L111.5 9.5 L111 13.5 L104 13 L99 14 L94 12 Z" fill="#c8f060"/><path d="M116 10.5 L118 10.5 L118 12 L116 12 Z" fill="#f080b0"/><path d="M122 11 L135 13 L136 16.5 L134 17 L128 15.5 L123 14 Z" fill="#f080b0"/><path d="M145.5 41 L148 35 L151 31 L152.3 33 L150 38 L146.5 42 Z" fill="#c8f060"/><path d="M152.5 25 L154 21.5 L155.7 22.5 L155 26 Z" fill="#c8f060"/><path d="M168.5 31 L171 29.8 L171 33.3 L168.5 33 Z" fill="#b090f0"/></g>
<text x="11.6" y="26.9" font-size="19.5" letter-spacing="0.7" fill="#fff">(a)</text>
<text x="327.6" y="26.9" font-size="19.5" letter-spacing="0.7" fill="#fff">(b)</text>
<path d="M24.2 177.7 L41.4 179.1 L40.7 188.3 L55.7 176.0 L42.8 161.4 L42.1 170.6 L24.8 169.3 Z" fill="#fff"/>
<path d="M7.5 252.2 L25.0 254.2 L24.0 263.4 L39.4 251.6 L27.0 236.6 L26.0 245.8 L8.5 243.8 Z" fill="#fff"/>
<path d="M299.9 272.1 L282.2 270.1 L283.4 259.9 L268.4 272.3 L280.2 287.7 L281.4 277.5 L299.1 279.5 Z" fill="#fff"/>
<path d="M46.9 240.8 L65.0 244.1 L64.5 246.5 L72.5 244.6 L65.7 240.1 L65.3 242.5 L47.1 239.2 Z" fill="#000"/>
<path d="M185.9 306.5 L205.6 283.8 L207.6 285.6 L210.9 276.5 L202.4 281.0 L204.4 282.8 L184.7 305.5 Z" fill="#000"/>
<path d="M356.4 240.3 L374.5 243.5 L374.0 245.9 L382.0 244.0 L375.2 239.5 L374.8 241.9 L356.6 238.7 Z" fill="#000"/>
<path d="M506.6 307.9 L526.1 285.3 L528.2 287.1 L531.4 278.0 L522.9 282.5 L524.9 284.3 L505.4 306.9 Z" fill="#000"/>
<line x1="297.3" y1="339.0" x2="266.8" y2="330.8" stroke="#fff" stroke-width="1.9" stroke-linecap="square"/>
<path d="M261.0 329.3 L269.3 327.4 L267.2 335.1 Z" fill="#fff"/>
<line x1="297.3" y1="339.0" x2="281.7" y2="402.2" stroke="#fff" stroke-width="1.9" stroke-linecap="square"/>
<path d="M280.3 408.0 L278.2 399.8 L286.0 401.7 Z" fill="#fff"/>
<text x="0" y="0" transform="translate(266.0 315.3) rotate(15.0)" font-size="15.0" fill="#fff">Look</text>
<text x="0" y="0" transform="translate(296.5 409.5) rotate(-76.0)" font-size="15.0" fill="#fff">Flight</text>
<line x1="603.6" y1="334.2" x2="572.5" y2="327.0" stroke="#fff" stroke-width="1.9" stroke-linecap="square"/>
<path d="M566.7 325.6 L574.9 323.4 L573.1 331.2 Z" fill="#fff"/>
<line x1="603.6" y1="334.2" x2="588.0" y2="394.0" stroke="#fff" stroke-width="1.9" stroke-linecap="square"/>
<path d="M586.5 399.8 L584.5 391.5 L592.3 393.6 Z" fill="#fff"/>
<text x="0" y="0" transform="translate(571.0 315.3) rotate(15.0)" font-size="15.0" fill="#fff">Look</text>
<text x="0" y="0" transform="translate(601.5 403.5) rotate(-76.0)" font-size="15.0" fill="#fff">Flight</text>
<rect x="19.2" y="447.8" width="83.5" height="3.3" fill="#fff"/>
<text x="43" y="442.6" font-size="15" fill="#fff">20km</text>
<rect x="639" y="134.4" width="11.5" height="260.3" fill="url(#cyc)" stroke="#444" stroke-width="0.6"/>
<line x1="650.5" y1="134.4" x2="653.3" y2="134.4" stroke="#333" stroke-width="0.6"/><line x1="650.5" y1="150.7" x2="652.1" y2="150.7" stroke="#333" stroke-width="0.6"/><line x1="650.5" y1="166.9" x2="652.1" y2="166.9" stroke="#333" stroke-width="0.6"/><line x1="650.5" y1="183.2" x2="652.1" y2="183.2" stroke="#333" stroke-width="0.6"/><line x1="650.5" y1="199.5" x2="653.3" y2="199.5" stroke="#333" stroke-width="0.6"/><line x1="650.5" y1="215.7" x2="652.1" y2="215.7" stroke="#333" stroke-width="0.6"/><line x1="650.5" y1="232.0" x2="652.1" y2="232.0" stroke="#333" stroke-width="0.6"/><line x1="650.5" y1="248.3" x2="652.1" y2="248.3" stroke="#333" stroke-width="0.6"/><line x1="650.5" y1="264.6" x2="653.3" y2="264.6" stroke="#333" stroke-width="0.6"/><line x1="650.5" y1="280.8" x2="652.1" y2="280.8" stroke="#333" stroke-width="0.6"/><line x1="650.5" y1="297.1" x2="652.1" y2="297.1" stroke="#333" stroke-width="0.6"/><line x1="650.5" y1="313.4" x2="652.1" y2="313.4" stroke="#333" stroke-width="0.6"/><line x1="650.5" y1="329.6" x2="653.3" y2="329.6" stroke="#333" stroke-width="0.6"/><line x1="650.5" y1="345.9" x2="652.1" y2="345.9" stroke="#333" stroke-width="0.6"/><line x1="650.5" y1="362.2" x2="652.1" y2="362.2" stroke="#333" stroke-width="0.6"/><line x1="650.5" y1="378.4" x2="652.1" y2="378.4" stroke="#333" stroke-width="0.6"/><line x1="650.5" y1="394.7" x2="653.3" y2="394.7" stroke="#333" stroke-width="0.6"/>
<text x="655.5" y="138.2" font-size="8.3" fill="#333">3.14</text>
<text x="655.5" y="203.3" font-size="8.3" fill="#333">1.57</text>
<text x="655.5" y="268.4" font-size="8.3" fill="#333">0.00</text>
<text x="655.5" y="333.4" font-size="8.3" fill="#333">-1.57</text>
<text x="655.5" y="398.5" font-size="8.3" fill="#333">-3.14</text>
<text transform="translate(684.2 265) rotate(-90)" text-anchor="middle" font-size="11" fill="#111">phase (rad)</text>
<text x="-1.3" y="507" font-size="19.5" letter-spacing="0.7" fill="#111">(c)</text>
<g transform="translate(-9.37 476.76) scale(0.9714 0.9744)"><g clip-path="url(#swclip)"><use href="#fC" filter="url(#phC)"/></g><path d="M94 7 L103 7 L111.5 9.5 L111 13.5 L104 13 L99 14 L94 12 Z" fill="#30123b"/><path d="M116 10.5 L118 10.5 L118 12 L116 12 Z" fill="#60e8a0"/><path d="M122 11 L135 13 L136 16.5 L134 17 L128 15.5 L123 14 Z" fill="#50e0a8"/><path d="M145.5 41 L148 35 L151 31 L152.3 33 L150 38 L146.5 42 Z" fill="#90f050"/><path d="M152.5 25 L154 21.5 L155.7 22.5 L155 26 Z" fill="#304070"/><path d="M168.5 31 L171 29.8 L171 33.3 L168.5 33 Z" fill="#60e090"/></g><g clip-path="url(#swclipC)"><g filter="url(#drC)"><ellipse cx="60" cy="812" rx="32" ry="24" fill="#000" fill-opacity="0.39" transform="rotate(30 60 812)"/><ellipse cx="45" cy="798" rx="16" ry="10" fill="#000" fill-opacity="0.32" transform="rotate(0 45 798)"/><ellipse cx="88" cy="832" rx="14" ry="14" fill="#000" fill-opacity="0.34" transform="rotate(0 88 832)"/><ellipse cx="75" cy="845" rx="14" ry="8" fill="#000" fill-opacity="0.32" transform="rotate(0 75 845)"/><ellipse cx="195" cy="715" rx="34" ry="16" fill="#000" fill-opacity="0.42" transform="rotate(0 195 715)"/><ellipse cx="205" cy="735" rx="20" ry="7" fill="#000" fill-opacity="0.38" transform="rotate(0 205 735)"/><ellipse cx="210" cy="800" rx="12" ry="26" fill="#000" fill-opacity="0.45" transform="rotate(10 210 800)"/><ellipse cx="172" cy="856" rx="10" ry="6" fill="#000" fill-opacity="0.7" transform="rotate(0 172 856)"/><ellipse cx="220" cy="845" rx="12" ry="16" fill="#000" fill-opacity="0.45" transform="rotate(0 220 845)"/><ellipse cx="222" cy="775" rx="12" ry="14" fill="#000" fill-opacity="0.45" transform="rotate(0 222 775)"/><ellipse cx="190" cy="675" rx="8" ry="5" fill="#000" fill-opacity="0.5" transform="rotate(0 190 675)"/><ellipse cx="175" cy="665" rx="16" ry="6" fill="#000" fill-opacity="0.32" transform="rotate(0 175 665)"/><ellipse cx="60" cy="722" rx="30" ry="10" fill="#000" fill-opacity="0.32" transform="rotate(0 60 722)"/><ellipse cx="200" cy="758" rx="40" ry="10" fill="#000" fill-opacity="0.38" transform="rotate(5 200 758)"/></g><g filter="url(#dbC)"><ellipse cx="135" cy="590" rx="38" ry="18" fill="#000" fill-opacity="0.24" transform="rotate(0 135 590)"/><ellipse cx="150" cy="818" rx="24" ry="18" fill="#000" fill-opacity="0.32" transform="rotate(0 150 818)"/><ellipse cx="165" cy="905" rx="24" ry="30" fill="#000" fill-opacity="0.34" transform="rotate(0 165 905)"/><ellipse cx="190" cy="712" rx="24" ry="12" fill="#000" fill-opacity="0.3" transform="rotate(0 190 712)"/><ellipse cx="110" cy="600" rx="22" ry="12" fill="#000" fill-opacity="0.2" transform="rotate(0 110 600)"/></g><g filter="url(#whC)"><ellipse cx="197" cy="746" rx="16" ry="4" fill="#000" fill-opacity="0.75" transform="rotate(8 197 746)"/></g><polyline points="142,647.8 160,645.5 180.9,642.7 207.4,636.6 225,636 242.2,632.5 255,629.5 266.7,626.3" fill="none" stroke="#d0eeee" stroke-width="1" stroke-opacity="0.7"/><path d="M211 638 L218 635.2 L230 635 L233 636.8 L227 639.8 L218 639.6 Z" fill="#282870" opacity="0.75"/><ellipse cx="222" cy="637.5" rx="4" ry="2.6" fill="#301040"/><polyline points="212,745 228,747.5 243,750.5" fill="none" stroke="#2a2a80" stroke-width="2.6" stroke-opacity="0.9"/></g>
<line x1="161" y1="640" x2="121.4" y2="841" stroke="#000" stroke-width="3"/>
<line x1="273.5" y1="828.9" x2="243.1" y2="821.3" stroke="#000" stroke-width="1.8" stroke-linecap="square"/>
<path d="M237.3 819.8 L245.5 817.7 L243.6 825.5 Z" fill="#000"/>
<line x1="273.5" y1="828.9" x2="257.8" y2="889.2" stroke="#000" stroke-width="1.8" stroke-linecap="square"/>
<path d="M256.3 895.0 L254.3 886.7 L262.1 888.7 Z" fill="#000"/>
<text x="0" y="0" transform="translate(241.0 813.0) rotate(15.0)" font-size="15.0" fill="#000">Look</text>
<text x="0" y="0" transform="translate(271.5 898.5) rotate(-76.0)" font-size="15.0" fill="#000">Flight</text>
<rect x="297.4" y="579.2" width="12.3" height="268.8" fill="url(#turbo)" stroke="#444" stroke-width="0.6"/>
<line x1="309.7" y1="579.2" x2="312.5" y2="579.2" stroke="#333" stroke-width="0.6"/>
<text x="314.3" y="581.9" font-size="7.5" fill="#333">0.20</text>
<line x1="309.7" y1="612.8" x2="312.5" y2="612.8" stroke="#333" stroke-width="0.6"/>
<text x="314.3" y="615.5" font-size="7.5" fill="#333">0.15</text>
<line x1="309.7" y1="646.4" x2="312.5" y2="646.4" stroke="#333" stroke-width="0.6"/>
<text x="314.3" y="649.1" font-size="7.5" fill="#333">0.10</text>
<line x1="309.7" y1="680.0" x2="312.5" y2="680.0" stroke="#333" stroke-width="0.6"/>
<text x="314.3" y="682.7" font-size="7.5" fill="#333">0.05</text>
<line x1="309.7" y1="713.6" x2="312.5" y2="713.6" stroke="#333" stroke-width="0.6"/>
<text x="314.3" y="716.3" font-size="7.5" fill="#333">0.00</text>
<line x1="309.7" y1="747.2" x2="312.5" y2="747.2" stroke="#333" stroke-width="0.6"/>
<text x="314.3" y="749.9" font-size="7.5" fill="#333">−0.05</text>
<line x1="309.7" y1="780.8" x2="312.5" y2="780.8" stroke="#333" stroke-width="0.6"/>
<text x="314.3" y="783.5" font-size="7.5" fill="#333">−0.10</text>
<line x1="309.7" y1="814.4" x2="312.5" y2="814.4" stroke="#333" stroke-width="0.6"/>
<text x="314.3" y="817.1" font-size="7.5" fill="#333">−0.15</text>
<line x1="309.7" y1="848.0" x2="312.5" y2="848.0" stroke="#333" stroke-width="0.6"/>
<text x="314.3" y="850.7" font-size="7.5" fill="#333">−0.20</text>
<text transform="translate(342.7 713.3) rotate(-90)" text-anchor="middle" font-size="7.3" fill="#333">Vertical TEC (TECU)</text>
<text x="349.4" y="508.8" font-size="19.5" letter-spacing="0.7" fill="#111">(d)</text>
<line x1="402.5" y1="562.62" x2="671.5" y2="562.62" stroke="#888" stroke-width="0.8"/>
<line x1="402.5" y1="597.95" x2="671.5" y2="597.95" stroke="#888" stroke-width="0.8"/>
<line x1="402.5" y1="633.27" x2="671.5" y2="633.27" stroke="#888" stroke-width="0.8"/>
<polyline fill="none" stroke="#1a1a1a" stroke-width="1.3" stroke-linejoin="round" points="409.2,631.4 410.5,615.0 411.9,618.2 413.2,624.4 416.2,602.5 417.8,609.7 420.4,626.8 421.7,625.5 422.8,628.1 423.7,624.8 425.0,617.6 427.0,638.6 428.3,635.3 430.2,628.1 431.2,629.4 432.2,640.0 434.5,608.4 436.4,633.4 438.8,622.2 440.4,633.4 442.5,618.9 444.0,621.5 447.7,611.7 450.4,632.0 452.6,622.2 454.3,629.4 455.9,624.2 457.8,622.2 459.8,621.5 462.4,601.2 464.8,610.4 466.4,609.7 468.4,615.6 470.3,628.1 472.7,616.9 474.5,622.2 477.5,609.7 479.5,622.8 480.8,620.9 483.5,624.8 486.2,641.9 487.6,618.9 488.7,613.0 490.0,615.0 491.6,607.1 492.6,613.6 494.5,660.3 496.6,632.0 498.1,626.8 499.7,620.9 500.5,630.0 501.6,603.1 502.6,624.2 504.7,628.1 506.7,624.2 508.4,620.9 510.6,636.0 512.6,638.6 514.2,640.0 517.2,625.5 518.9,628.1 520.5,633.4 522.4,622.2 524.2,629.4 525.7,634.7 527.3,641.2 529.0,624.2 531.0,619.6 533.0,617.0 534.9,614.3 536.5,609.7 538.1,606.5 539.0,602.6 539.9,595.5 541.2,590.3 543.0,585.0 543.8,584.2 545.3,585.0 546.7,577.2 548.2,578.9 549.5,580.2 550.8,575.8 552.6,578.5 553.7,571.0 555.5,566.2 556.5,569.7 557.7,570.6 558.7,567.1 559.6,565.8 560.5,561.4 561.3,567.5 562.2,585.0 562.8,599.2 563.8,617.6 564.5,623.5 565.8,618.9 567.5,632.0 569.1,635.3 570.0,634.7 571.5,637.6 573.0,633.9 575.7,627.5 577.4,629.0 579.2,629.5 580.4,630.2 581.6,626.2 583.7,637.6 586.4,636.5 588.6,634.7 590.8,628.0 593.5,639.9 595.3,636.2 597.1,641.4 599.5,632.9 602.0,637.9 604.0,633.9 606.0,629.9 608.4,629.0 610.5,620.5 612.4,629.9 615.4,625.4 617.4,628.7 619.1,632.4 622.1,609.7 623.6,610.8 625.1,619.0 627.3,616.1 629.3,617.1 631.3,612.6 634.3,622.8 636.3,619.0 638.8,611.1 641.2,614.1 643.0,611.6 645.9,622.0 648.2,616.1 650.4,621.3 651.9,637.6 654.1,621.6 656.4,624.0 657.8,625.0 660.1,630.2 662.3,640.6 663.8,636.2 665.3,641.8"/>
<rect x="402.5" y="527.3" width="269.0" height="141.3" fill="none" stroke="#000" stroke-width="1.4"/>
<line x1="397.9" y1="527.30" x2="402.5" y2="527.30" stroke="#222" stroke-width="0.9"/>
<line x1="671.5" y1="527.30" x2="676.5" y2="527.30" stroke="#222" stroke-width="0.9"/>
<text x="393.6" y="531.40" font-size="11.5" text-anchor="end" fill="#111">0.3</text>
<line x1="397.9" y1="562.62" x2="402.5" y2="562.62" stroke="#222" stroke-width="0.9"/>
<line x1="671.5" y1="562.62" x2="676.5" y2="562.62" stroke="#222" stroke-width="0.9"/>
<text x="393.6" y="566.73" font-size="11.5" text-anchor="end" fill="#111">0.2</text>
<line x1="397.9" y1="597.95" x2="402.5" y2="597.95" stroke="#222" stroke-width="0.9"/>
<line x1="671.5" y1="597.95" x2="676.5" y2="597.95" stroke="#222" stroke-width="0.9"/>
<text x="393.6" y="602.05" font-size="11.5" text-anchor="end" fill="#111">0.1</text>
<line x1="397.9" y1="633.27" x2="402.5" y2="633.27" stroke="#222" stroke-width="0.9"/>
<line x1="671.5" y1="633.27" x2="676.5" y2="633.27" stroke="#222" stroke-width="0.9"/>
<text x="393.6" y="637.38" font-size="11.5" text-anchor="end" fill="#111">0.0</text>
<line x1="397.9" y1="668.60" x2="402.5" y2="668.60" stroke="#222" stroke-width="0.9"/>
<line x1="671.5" y1="668.60" x2="676.5" y2="668.60" stroke="#222" stroke-width="0.9"/>
<text x="393.6" y="672.70" font-size="11.5" text-anchor="end" fill="#111">−0.1</text>
<line x1="454.60" y1="521.8" x2="454.60" y2="527.3" stroke="#000" stroke-width="0.9"/>
<line x1="454.60" y1="668.6" x2="454.60" y2="674.1" stroke="#000" stroke-width="0.9"/>
<text x="454.60" y="688" font-size="11.5" text-anchor="middle" fill="#111">33.6</text>
<line x1="541.40" y1="521.8" x2="541.40" y2="527.3" stroke="#000" stroke-width="0.9"/>
<line x1="541.40" y1="668.6" x2="541.40" y2="674.1" stroke="#000" stroke-width="0.9"/>
<text x="541.40" y="688" font-size="11.5" text-anchor="middle" fill="#111">33.8</text>
<line x1="628.20" y1="521.8" x2="628.20" y2="527.3" stroke="#000" stroke-width="0.9"/>
<line x1="628.20" y1="668.6" x2="628.20" y2="674.1" stroke="#000" stroke-width="0.9"/>
<text x="628.20" y="688" font-size="11.5" text-anchor="middle" fill="#111">34.0</text>
<text x="537.3" y="707.6" font-size="15.3" text-anchor="middle" fill="#111">Latitude</text>
<text transform="translate(363.5 599) rotate(-90)" font-size="16.1" text-anchor="middle" fill="#111">Vertical TEC change</text>
</g>
</svg></body></html>
